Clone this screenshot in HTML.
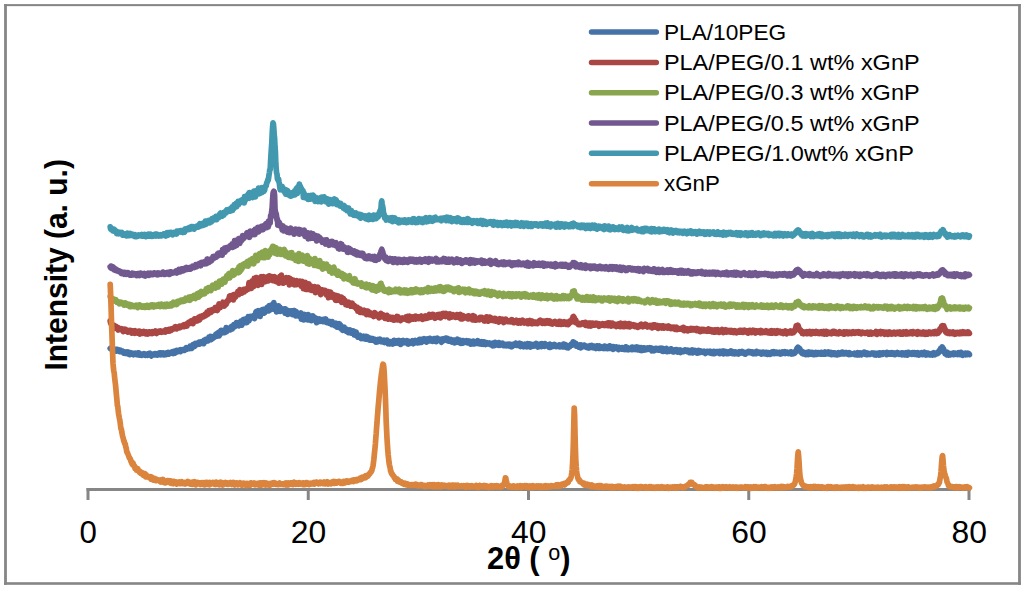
<!DOCTYPE html>
<html lang="en"><head><meta charset="utf-8"><title>XRD patterns</title>
<style>
html,body{margin:0;padding:0;background:#fff;}
body{width:1024px;height:589px;overflow:hidden;}
svg{display:block;}
svg text{font-family:"Liberation Sans",sans-serif;fill:#000;}
.curves path{fill:none;stroke-width:5.7;stroke-linejoin:round;stroke-linecap:round;}
</style></head>
<body>
<svg width="1024" height="589" viewBox="0 0 1024 589">
<rect x="0" y="0" width="1024" height="589" fill="#ffffff"/>
<g fill="#868686"><rect x="4.1" y="4.1" width="2.8" height="580.7"/><rect x="1018.1" y="4.1" width="2.8" height="580.7"/><rect x="4.1" y="4.1" width="1016.8" height="2.05"/><rect x="4.1" y="582.2" width="1016.8" height="2.6"/></g>
<line x1="86.5" y1="489.5" x2="970.5" y2="489.5" stroke="#868686" stroke-width="3"/>
<line x1="88.00" y1="488" x2="88.00" y2="500" stroke="#868686" stroke-width="3"/>
<text x="79.60" y="543.4" font-size="30.7" textLength="17.4" lengthAdjust="spacingAndGlyphs">0</text>
<line x1="308.25" y1="488" x2="308.25" y2="500" stroke="#868686" stroke-width="3"/>
<text x="290.85" y="543.4" font-size="30.7" textLength="35.4" lengthAdjust="spacingAndGlyphs">20</text>
<line x1="528.50" y1="488" x2="528.50" y2="500" stroke="#868686" stroke-width="3"/>
<text x="511.10" y="543.4" font-size="30.7" textLength="35.4" lengthAdjust="spacingAndGlyphs">40</text>
<line x1="748.75" y1="488" x2="748.75" y2="500" stroke="#868686" stroke-width="3"/>
<text x="731.35" y="543.4" font-size="30.7" textLength="35.4" lengthAdjust="spacingAndGlyphs">60</text>
<line x1="969.00" y1="488" x2="969.00" y2="500" stroke="#868686" stroke-width="3"/>
<text x="951.60" y="543.4" font-size="30.7" textLength="35.4" lengthAdjust="spacingAndGlyphs">80</text>
<g class="curves">
<path d="M110.2,348.4 110.6,348.7 111.0,348.4 111.4,348.1 111.8,348.6 112.2,348.3 112.6,349.3 113.0,350.5 113.4,349.2 113.8,349.3 114.2,350.3 114.6,350.3 115.0,350.2 115.4,349.6 115.8,350.4 116.2,351.1 116.6,349.7 117.0,350.5 117.4,349.5 117.8,350.1 118.2,349.8 118.6,351.1 119.0,350.4 119.4,351.6 119.8,351.6 120.2,351.5 120.6,350.2 121.0,351.4 121.4,351.8 121.8,352.0 122.2,351.0 122.6,351.8 123.0,351.5 123.4,351.7 123.8,353.1 124.2,351.8 124.6,352.5 125.0,353.2 125.4,352.2 125.8,352.6 126.2,352.8 126.6,352.8 127.0,352.0 127.4,353.0 127.8,353.9 128.2,352.0 128.6,353.7 129.0,353.2 129.4,352.8 129.8,354.6 130.2,353.8 130.6,352.6 131.0,353.5 131.4,353.9 131.8,353.4 132.2,354.0 132.6,353.6 133.0,354.1 133.4,354.7 133.8,353.3 134.2,353.9 134.6,353.5 135.0,354.0 135.4,353.1 135.8,353.6 136.2,353.9 136.6,354.6 137.0,354.8 137.4,353.2 137.8,353.6 138.2,354.6 138.6,352.8 139.0,353.9 139.4,354.1 139.8,355.1 140.2,354.7 140.6,354.1 141.0,354.0 141.4,354.1 141.8,355.3 142.2,354.1 142.6,354.2 143.0,354.6 143.4,354.3 143.8,354.3 144.2,353.7 144.6,354.5 145.0,354.2 145.4,355.3 145.8,354.9 146.2,354.5 146.6,355.0 147.0,354.3 147.4,355.3 147.8,354.6 148.2,355.0 148.6,353.7 149.0,354.8 149.4,353.5 149.8,353.3 150.2,354.4 150.6,354.0 151.0,354.7 151.4,356.0 151.8,354.0 152.2,354.2 152.6,354.7 153.0,354.9 153.4,354.4 153.8,354.4 154.2,355.0 154.6,354.9 155.0,353.8 155.4,354.4 155.8,354.5 156.2,353.8 156.6,354.6 157.0,353.9 157.4,355.1 157.8,354.5 158.2,354.4 158.6,354.0 159.0,354.3 159.4,353.0 159.8,353.5 160.2,354.5 160.6,352.9 161.0,354.8 161.4,353.0 161.8,354.7 162.2,353.6 162.6,354.6 163.0,354.2 163.4,353.0 163.8,354.8 164.2,354.9 164.6,353.9 165.0,353.7 165.4,353.7 165.8,353.2 166.2,354.5 166.6,353.3 167.0,353.6 167.4,353.0 167.8,353.1 168.2,352.6 168.6,354.2 169.0,353.2 169.4,353.9 169.8,353.1 170.2,352.6 170.6,352.8 171.0,352.5 171.4,352.8 171.8,352.5 172.2,352.4 172.6,351.6 173.0,351.9 173.4,353.5 173.8,351.8 174.2,351.4 174.6,352.3 175.0,353.0 175.4,350.9 175.8,351.7 176.2,351.3 176.6,350.4 177.0,352.0 177.4,351.4 177.8,351.4 178.2,350.7 178.6,351.5 179.0,350.6 179.4,350.8 179.8,350.0 180.2,349.8 180.6,351.6 181.0,350.1 181.4,350.6 181.8,350.2 182.2,349.8 182.6,349.6 183.0,350.3 183.4,349.5 183.8,349.5 184.2,349.5 184.6,350.2 185.0,349.7 185.4,349.3 185.8,348.4 186.2,347.6 186.6,349.3 187.0,349.2 187.4,348.2 187.8,348.6 188.2,348.6 188.6,348.5 189.0,348.5 189.4,347.2 189.8,348.6 190.2,346.2 190.6,347.8 191.0,347.3 191.4,347.5 191.8,348.2 192.2,347.7 192.6,345.3 193.0,344.7 193.4,346.7 193.8,345.0 194.2,345.7 194.6,346.3 195.0,344.0 195.4,343.4 195.8,345.3 196.2,345.0 196.6,344.5 197.0,344.6 197.4,343.7 197.8,342.9 198.2,344.0 198.6,343.1 199.0,342.3 199.4,344.1 199.8,343.4 200.2,343.6 200.6,342.2 201.0,342.3 201.4,341.8 201.8,341.7 202.2,342.6 202.6,341.5 203.0,342.4 203.4,342.2 203.8,343.7 204.2,340.1 204.6,342.2 205.0,341.1 205.4,340.9 205.8,339.3 206.2,340.1 206.6,341.1 207.0,340.1 207.4,340.1 207.8,339.5 208.2,340.8 208.6,339.4 209.0,337.1 209.4,338.3 209.8,336.8 210.2,336.4 210.6,337.8 211.0,339.6 211.4,338.0 211.8,336.5 212.2,336.5 212.6,338.6 213.0,337.3 213.4,337.0 213.8,336.6 214.2,336.5 214.6,337.1 215.0,336.7 215.4,336.1 215.8,334.4 216.2,336.0 216.6,334.4 217.0,336.2 217.4,333.3 217.8,334.3 218.2,334.3 218.6,332.5 219.0,335.9 219.4,335.4 219.8,332.9 220.2,334.1 220.6,333.5 221.0,330.3 221.4,332.9 221.8,332.3 222.2,332.2 222.6,330.6 223.0,331.4 223.4,331.2 223.8,332.7 224.2,331.4 224.6,330.8 225.0,332.5 225.4,329.7 225.8,329.7 226.2,327.6 226.6,331.7 227.0,330.8 227.4,330.5 227.8,330.0 228.2,329.0 228.6,329.0 229.0,328.2 229.4,328.0 229.8,328.2 230.2,329.9 230.6,328.4 231.0,327.4 231.4,326.5 231.8,326.2 232.2,329.0 232.6,327.4 233.0,326.6 233.4,325.8 233.8,324.6 234.2,325.8 234.6,326.9 235.0,325.0 235.4,325.0 235.8,324.8 236.2,325.1 236.6,322.5 237.0,324.2 237.4,323.1 237.8,325.4 238.2,322.8 238.6,324.6 239.0,325.7 239.4,322.9 239.8,322.3 240.2,323.2 240.6,322.7 241.0,321.1 241.4,323.0 241.8,325.1 242.2,321.6 242.6,321.4 243.0,320.0 243.4,321.8 243.8,319.3 244.2,319.3 244.6,322.6 245.0,319.1 245.4,321.9 245.8,322.4 246.2,320.3 246.6,320.5 247.0,322.5 247.4,319.0 247.8,318.1 248.2,316.7 248.6,318.7 249.0,320.7 249.4,319.7 249.8,316.5 250.2,316.4 250.6,316.8 251.0,317.8 251.4,316.8 251.8,317.3 252.2,317.2 252.6,316.1 253.0,316.3 253.4,316.5 253.8,315.8 254.2,316.5 254.6,318.6 255.0,316.3 255.4,315.2 255.8,312.1 256.2,315.4 256.6,311.3 257.0,312.0 257.4,315.6 257.8,315.1 258.2,313.5 258.6,310.7 259.0,312.8 259.4,312.0 259.8,314.1 260.2,316.4 260.6,313.0 261.0,311.1 261.4,310.3 261.8,312.0 262.2,311.6 262.6,309.8 263.0,311.8 263.4,309.4 263.8,313.2 264.2,312.9 264.6,312.8 265.0,309.9 265.4,311.5 265.8,310.2 266.2,309.5 266.6,309.5 267.0,307.6 267.4,307.2 267.8,311.0 268.2,309.1 268.6,309.6 269.0,310.9 269.4,305.7 269.8,307.2 270.2,308.8 270.6,308.9 271.0,307.2 271.4,309.5 271.8,307.6 272.2,304.5 272.6,304.6 273.0,307.6 273.4,306.9 273.8,302.5 274.2,308.9 274.6,307.8 275.0,309.5 275.4,306.7 275.8,307.1 276.2,305.8 276.6,311.9 277.0,307.9 277.4,311.3 277.8,307.4 278.2,309.0 278.6,305.8 279.0,308.3 279.4,310.9 279.8,307.1 280.2,311.5 280.6,310.4 281.0,308.2 281.4,309.4 281.8,309.7 282.2,310.6 282.6,309.9 283.0,309.5 283.4,310.6 283.8,309.4 284.2,309.0 284.6,311.3 285.0,313.0 285.4,308.9 285.8,311.6 286.2,310.5 286.6,310.0 287.0,313.3 287.4,311.0 287.8,314.5 288.2,310.6 288.6,312.7 289.0,311.7 289.4,310.9 289.8,313.3 290.2,312.1 290.6,313.5 291.0,312.5 291.4,310.8 291.8,312.6 292.2,313.0 292.6,314.6 293.0,311.6 293.4,313.2 293.8,310.5 294.2,314.6 294.6,311.8 295.0,310.8 295.4,313.8 295.8,315.9 296.2,311.6 296.6,312.5 297.0,313.2 297.4,312.8 297.8,315.4 298.2,313.6 298.6,313.9 299.0,316.2 299.4,314.1 299.8,316.2 300.2,314.1 300.6,313.8 301.0,313.0 301.4,319.1 301.8,315.7 302.2,316.8 302.6,316.4 303.0,316.9 303.4,316.8 303.8,319.9 304.2,315.3 304.6,314.5 305.0,315.5 305.4,315.1 305.8,318.5 306.2,318.7 306.6,316.0 307.0,315.4 307.4,317.1 307.8,320.0 308.2,314.6 308.6,318.8 309.0,316.4 309.4,319.8 309.8,316.5 310.2,317.9 310.6,316.0 311.0,317.0 311.4,320.7 311.8,319.9 312.2,318.1 312.6,317.5 313.0,316.0 313.4,318.4 313.8,319.1 314.2,319.1 314.6,319.1 315.0,317.7 315.4,319.4 315.8,319.5 316.2,321.6 316.6,322.6 317.0,319.7 317.4,318.8 317.8,320.0 318.2,319.2 318.6,319.1 319.0,320.3 319.4,318.9 319.8,321.5 320.2,320.5 320.6,321.1 321.0,320.6 321.4,319.8 321.8,319.6 322.2,320.8 322.6,320.4 323.0,321.7 323.4,321.4 323.8,319.5 324.2,321.7 324.6,319.8 325.0,321.0 325.4,321.5 325.8,319.0 326.2,322.3 326.6,322.5 327.0,322.2 327.4,321.9 327.8,322.1 328.2,321.3 328.6,322.5 329.0,322.2 329.4,323.2 329.8,321.5 330.2,323.7 330.6,323.7 331.0,323.4 331.4,323.1 331.8,324.6 332.2,321.6 332.6,324.7 333.0,324.6 333.4,324.8 333.8,325.0 334.2,323.7 334.6,324.4 335.0,325.8 335.4,325.6 335.8,325.4 336.2,323.2 336.6,326.2 337.0,327.2 337.4,327.1 337.8,326.2 338.2,323.9 338.6,327.5 339.0,326.1 339.4,323.7 339.8,327.2 340.2,324.8 340.6,325.3 341.0,326.3 341.4,329.1 341.8,327.1 342.2,328.1 342.6,330.3 343.0,330.3 343.4,328.3 343.8,328.3 344.2,327.2 344.6,328.2 345.0,329.9 345.4,330.1 345.8,329.9 346.2,331.3 346.6,329.3 347.0,330.4 347.4,331.6 347.8,331.7 348.2,332.5 348.6,331.8 349.0,331.2 349.4,332.2 349.8,330.7 350.2,330.1 350.6,333.0 351.0,332.3 351.4,333.0 351.8,330.7 352.2,332.5 352.6,332.4 353.0,332.2 353.4,330.9 353.8,333.2 354.2,334.8 354.6,334.3 355.0,333.3 355.4,334.2 355.8,335.2 356.2,332.1 356.6,334.5 357.0,335.4 357.4,335.8 357.8,337.1 358.2,336.6 358.6,335.8 359.0,335.9 359.4,336.6 359.8,335.3 360.2,336.0 360.6,337.2 361.0,338.5 361.4,336.3 361.8,336.5 362.2,336.9 362.6,338.3 363.0,337.0 363.4,338.7 363.8,336.2 364.2,337.2 364.6,337.3 365.0,338.5 365.4,338.9 365.8,336.3 366.2,337.0 366.6,338.5 367.0,337.5 367.4,336.7 367.8,339.5 368.2,339.1 368.6,339.2 369.0,338.3 369.4,339.9 369.8,338.7 370.2,340.2 370.6,338.2 371.0,338.4 371.4,339.5 371.8,338.7 372.2,340.2 372.6,339.8 373.0,338.7 373.4,339.8 373.8,339.4 374.2,340.8 374.6,339.3 375.0,339.6 375.4,341.3 375.8,342.2 376.2,342.2 376.6,340.3 377.0,340.5 377.4,341.9 377.8,340.3 378.2,339.5 378.6,340.7 379.0,341.1 379.4,339.8 379.8,339.1 380.2,339.3 380.6,341.5 381.0,340.1 381.4,340.8 381.8,341.2 382.2,341.7 382.6,340.8 383.0,341.7 383.4,340.3 383.8,340.9 384.2,340.3 384.6,342.5 385.0,341.4 385.4,340.8 385.8,341.2 386.2,341.4 386.6,342.3 387.0,340.1 387.4,340.7 387.8,341.4 388.2,343.8 388.6,342.8 389.0,341.8 389.4,342.6 389.8,343.9 390.2,341.8 390.6,341.7 391.0,343.2 391.4,342.6 391.8,342.8 392.2,341.7 392.6,344.0 393.0,343.9 393.4,342.8 393.8,342.9 394.2,340.4 394.6,342.9 395.0,342.2 395.4,342.8 395.8,343.1 396.2,342.1 396.6,340.8 397.0,342.8 397.4,341.8 397.8,342.2 398.2,341.9 398.6,342.2 399.0,340.5 399.4,343.7 399.8,342.7 400.2,343.6 400.6,344.4 401.0,342.5 401.4,340.8 401.8,341.6 402.2,341.3 402.6,342.0 403.0,342.5 403.4,340.5 403.8,342.8 404.2,341.0 404.6,342.7 405.0,342.3 405.4,342.1 405.8,342.3 406.2,341.8 406.6,341.7 407.0,340.7 407.4,342.2 407.8,344.0 408.2,344.1 408.6,343.4 409.0,342.8 409.4,341.5 409.8,343.5 410.2,342.0 410.6,341.9 411.0,341.7 411.4,342.0 411.8,341.5 412.2,341.8 412.6,340.8 413.0,341.4 413.4,343.8 413.8,341.7 414.2,341.5 414.6,342.2 415.0,342.3 415.4,340.5 415.8,341.3 416.2,342.4 416.6,341.7 417.0,341.5 417.4,342.9 417.8,340.7 418.2,341.4 418.6,340.8 419.0,342.7 419.4,339.3 419.8,340.5 420.2,340.6 420.6,341.7 421.0,341.6 421.4,342.4 421.8,339.4 422.2,341.7 422.6,340.6 423.0,340.2 423.4,341.3 423.8,339.8 424.2,338.7 424.6,340.3 425.0,339.2 425.4,340.0 425.8,340.9 426.2,340.9 426.6,342.1 427.0,340.3 427.4,338.9 427.8,339.7 428.2,339.5 428.6,339.1 429.0,340.8 429.4,339.7 429.8,338.3 430.2,340.9 430.6,340.1 431.0,340.6 431.4,340.3 431.8,340.8 432.2,340.2 432.6,341.4 433.0,340.5 433.4,340.5 433.8,340.5 434.2,338.6 434.6,339.9 435.0,339.8 435.4,340.2 435.8,338.6 436.2,341.7 436.6,340.1 437.0,338.8 437.4,338.3 437.8,339.7 438.2,339.9 438.6,339.3 439.0,340.1 439.4,339.4 439.8,340.6 440.2,339.3 440.6,340.0 441.0,341.0 441.4,342.2 441.8,339.0 442.2,339.6 442.6,339.2 443.0,340.9 443.4,339.0 443.8,339.6 444.2,340.1 444.6,339.2 445.0,339.2 445.4,339.7 445.8,338.1 446.2,338.8 446.6,339.8 447.0,340.4 447.4,340.1 447.8,338.5 448.2,339.9 448.6,341.2 449.0,341.0 449.4,340.3 449.8,339.6 450.2,341.1 450.6,339.9 451.0,339.4 451.4,339.8 451.8,342.0 452.2,340.8 452.6,341.8 453.0,340.2 453.4,341.6 453.8,340.1 454.2,340.6 454.6,342.9 455.0,341.6 455.4,340.4 455.8,340.8 456.2,341.3 456.6,342.2 457.0,340.5 457.4,339.3 457.8,340.8 458.2,341.1 458.6,341.2 459.0,342.5 459.4,341.5 459.8,342.0 460.2,340.2 460.6,342.2 461.0,343.4 461.4,342.1 461.8,341.7 462.2,341.6 462.6,343.2 463.0,340.6 463.4,341.5 463.8,342.0 464.2,342.4 464.6,341.2 465.0,342.0 465.4,341.5 465.8,341.9 466.2,341.7 466.6,340.7 467.0,341.9 467.4,342.8 467.8,341.0 468.2,341.7 468.6,342.7 469.0,341.0 469.4,342.3 469.8,341.1 470.2,343.2 470.6,344.2 471.0,344.1 471.4,342.0 471.8,343.0 472.2,342.4 472.6,342.4 473.0,343.8 473.4,341.1 473.8,343.4 474.2,342.4 474.6,343.8 475.0,342.7 475.4,341.9 475.8,342.8 476.2,343.3 476.6,342.6 477.0,343.1 477.4,342.2 477.8,340.7 478.2,343.6 478.6,343.4 479.0,342.9 479.4,342.9 479.8,343.8 480.2,342.4 480.6,342.2 481.0,342.8 481.4,344.1 481.8,341.7 482.2,344.1 482.6,342.5 483.0,342.1 483.4,344.3 483.8,343.1 484.2,342.0 484.6,342.9 485.0,344.1 485.4,344.4 485.8,342.9 486.2,343.7 486.6,344.0 487.0,342.8 487.4,343.8 487.8,343.5 488.2,343.0 488.6,343.1 489.0,343.6 489.4,343.6 489.8,343.1 490.2,343.3 490.6,344.7 491.0,343.9 491.4,344.6 491.8,344.9 492.2,344.4 492.6,345.8 493.0,343.1 493.4,344.7 493.8,343.7 494.2,345.7 494.6,345.6 495.0,342.3 495.4,343.2 495.8,344.7 496.2,344.9 496.6,344.8 497.0,344.1 497.4,344.6 497.8,344.9 498.2,344.2 498.6,345.2 499.0,342.5 499.4,344.9 499.8,343.5 500.2,345.3 500.6,344.2 501.0,343.7 501.4,344.8 501.8,343.7 502.2,343.7 502.6,343.2 503.0,344.6 503.4,345.1 503.8,345.6 504.2,344.5 504.6,345.6 505.0,344.7 505.4,344.7 505.8,345.3 506.2,345.7 506.6,344.5 507.0,344.6 507.4,344.7 507.8,344.9 508.2,344.1 508.6,345.8 509.0,344.5 509.4,345.3 509.8,344.2 510.2,345.3 510.6,345.3 511.0,344.6 511.4,346.8 511.8,345.3 512.2,346.6 512.6,345.9 513.0,344.4 513.4,344.7 513.8,345.4 514.2,345.1 514.6,345.1 515.0,344.8 515.4,343.5 515.8,344.9 516.2,343.2 516.6,345.4 517.0,344.4 517.4,344.5 517.8,344.9 518.2,345.3 518.6,343.9 519.0,343.6 519.4,344.2 519.8,343.3 520.2,344.3 520.6,346.5 521.0,344.2 521.4,345.7 521.8,344.0 522.2,345.4 522.6,344.9 523.0,345.1 523.4,345.7 523.8,346.7 524.2,345.4 524.6,345.3 525.0,344.3 525.4,345.7 525.8,345.0 526.2,345.9 526.6,345.2 527.0,346.8 527.4,343.5 527.8,345.0 528.2,346.0 528.6,344.9 529.0,344.5 529.4,345.0 529.8,344.0 530.2,345.4 530.6,347.1 531.0,346.3 531.4,344.3 531.8,344.5 532.2,344.9 532.6,346.2 533.0,344.6 533.4,344.7 533.8,346.1 534.2,346.0 534.6,345.0 535.0,344.3 535.4,343.9 535.8,344.7 536.2,343.5 536.6,346.0 537.0,344.8 537.4,345.7 537.8,347.0 538.2,346.4 538.6,344.3 539.0,346.1 539.4,346.4 539.8,344.7 540.2,344.5 540.6,345.3 541.0,344.0 541.4,346.7 541.8,343.5 542.2,344.4 542.6,345.1 543.0,345.2 543.4,345.5 543.8,345.6 544.2,345.2 544.6,346.4 545.0,343.6 545.4,345.4 545.8,344.8 546.2,345.5 546.6,345.6 547.0,344.6 547.4,344.9 547.8,346.2 548.2,345.8 548.6,344.9 549.0,347.3 549.4,347.3 549.8,344.2 550.2,345.8 550.6,347.3 551.0,346.2 551.4,345.7 551.8,345.4 552.2,345.1 552.6,345.4 553.0,345.1 553.4,346.2 553.8,345.2 554.2,345.2 554.6,344.6 555.0,345.6 555.4,344.9 555.8,345.5 556.2,346.6 556.6,346.0 557.0,346.1 557.4,346.0 557.8,345.8 558.2,345.6 558.6,345.5 559.0,346.4 559.4,344.8 559.8,346.9 560.2,345.8 560.6,345.2 561.0,345.4 561.4,345.2 561.8,346.0 562.2,345.2 562.6,346.9 563.0,345.2 563.4,344.1 563.8,345.3 564.2,344.2 564.6,345.9 565.0,346.9 565.4,346.5 565.8,344.8 566.2,345.4 566.6,347.6 567.0,346.3 567.4,346.1 567.8,347.0 568.2,347.9 568.6,347.2 569.0,346.2 569.4,346.4 569.8,346.5 570.2,345.4 570.6,344.8 571.0,345.4 571.4,344.1 571.8,344.4 572.2,343.9 572.6,345.1 573.0,341.9 573.4,342.2 573.8,342.1 574.2,342.9 574.6,344.0 575.0,343.1 575.4,343.5 575.8,343.4 576.2,344.6 576.6,346.2 577.0,346.1 577.4,345.4 577.8,346.0 578.2,346.4 578.6,346.9 579.0,346.0 579.4,346.3 579.8,345.0 580.2,345.5 580.6,347.9 581.0,344.8 581.4,346.3 581.8,346.8 582.2,346.3 582.6,345.9 583.0,346.6 583.4,346.6 583.8,346.6 584.2,345.1 584.6,346.6 585.0,346.0 585.4,346.2 585.8,346.9 586.2,347.3 586.6,347.5 587.0,346.3 587.4,347.6 587.8,347.8 588.2,347.8 588.6,348.0 589.0,346.7 589.4,346.7 589.8,347.6 590.2,345.7 590.6,347.1 591.0,346.5 591.4,346.6 591.8,345.5 592.2,346.2 592.6,346.9 593.0,347.7 593.4,347.8 593.8,346.9 594.2,346.9 594.6,346.3 595.0,347.4 595.4,346.9 595.8,347.6 596.2,348.5 596.6,347.1 597.0,345.9 597.4,346.4 597.8,345.9 598.2,346.2 598.6,348.3 599.0,347.4 599.4,345.9 599.8,347.8 600.2,348.3 600.6,347.0 601.0,346.7 601.4,347.0 601.8,347.5 602.2,347.8 602.6,348.3 603.0,348.3 603.4,348.3 603.8,348.5 604.2,347.9 604.6,346.1 605.0,347.3 605.4,347.7 605.8,347.1 606.2,348.2 606.6,347.2 607.0,346.7 607.4,348.7 607.8,348.1 608.2,347.7 608.6,348.3 609.0,348.4 609.4,347.9 609.8,345.9 610.2,347.1 610.6,347.3 611.0,346.8 611.4,347.8 611.8,348.6 612.2,347.3 612.6,346.8 613.0,349.4 613.4,347.4 613.8,346.7 614.2,348.0 614.6,348.1 615.0,347.2 615.4,348.4 615.8,347.4 616.2,347.1 616.6,348.0 617.0,348.5 617.4,347.4 617.8,348.2 618.2,347.8 618.6,349.6 619.0,347.4 619.4,349.1 619.8,347.9 620.2,347.9 620.6,348.6 621.0,348.7 621.4,349.1 621.8,348.3 622.2,347.6 622.6,347.7 623.0,348.5 623.4,348.6 623.8,349.3 624.2,348.5 624.6,349.0 625.0,349.4 625.4,348.3 625.8,347.0 626.2,347.3 626.6,347.1 627.0,349.5 627.4,347.6 627.8,349.3 628.2,348.8 628.6,349.7 629.0,349.1 629.4,348.3 629.8,348.2 630.2,348.5 630.6,348.5 631.0,348.0 631.4,348.4 631.8,349.7 632.2,347.1 632.6,348.7 633.0,347.8 633.4,348.7 633.8,349.2 634.2,348.5 634.6,349.2 635.0,347.3 635.4,349.5 635.8,348.1 636.2,349.1 636.6,348.8 637.0,347.0 637.4,348.1 637.8,348.9 638.2,349.9 638.6,349.0 639.0,349.0 639.4,347.6 639.8,349.9 640.2,350.2 640.6,348.8 641.0,348.7 641.4,347.6 641.8,349.6 642.2,350.5 642.6,349.5 643.0,349.9 643.4,349.4 643.8,348.2 644.2,350.0 644.6,348.0 645.0,348.8 645.4,349.2 645.8,349.7 646.2,349.4 646.6,349.4 647.0,348.5 647.4,348.1 647.8,349.2 648.2,348.6 648.6,348.1 649.0,348.2 649.4,348.8 649.8,347.8 650.2,348.2 650.6,348.0 651.0,349.4 651.4,349.6 651.8,350.9 652.2,348.2 652.6,348.8 653.0,350.1 653.4,349.2 653.8,349.2 654.2,350.8 654.6,349.2 655.0,348.6 655.4,348.5 655.8,349.8 656.2,349.8 656.6,348.5 657.0,348.8 657.4,350.0 657.8,350.1 658.2,349.2 658.6,350.1 659.0,350.1 659.4,348.3 659.8,349.5 660.2,350.1 660.6,349.3 661.0,348.2 661.4,349.6 661.8,350.4 662.2,351.1 662.6,348.3 663.0,351.5 663.4,349.1 663.8,350.7 664.2,350.9 664.6,350.7 665.0,350.1 665.4,349.2 665.8,350.5 666.2,349.6 666.6,348.5 667.0,351.7 667.4,350.7 667.8,351.5 668.2,349.5 668.6,351.3 669.0,351.4 669.4,351.4 669.8,350.3 670.2,349.4 670.6,350.2 671.0,348.8 671.4,349.1 671.8,350.5 672.2,349.7 672.6,350.3 673.0,350.4 673.4,351.9 673.8,351.5 674.2,350.5 674.6,351.5 675.0,350.0 675.4,350.4 675.8,351.3 676.2,349.7 676.6,350.5 677.0,349.7 677.4,350.8 677.8,352.0 678.2,350.2 678.6,351.0 679.0,350.2 679.4,350.0 679.8,349.9 680.2,351.9 680.6,352.4 681.0,351.3 681.4,350.4 681.8,351.5 682.2,350.7 682.6,351.6 683.0,351.2 683.4,351.3 683.8,351.5 684.2,350.7 684.6,350.8 685.0,349.9 685.4,350.8 685.8,350.1 686.2,351.1 686.6,350.5 687.0,351.3 687.4,351.6 687.8,350.2 688.2,350.7 688.6,350.6 689.0,351.9 689.4,352.6 689.8,352.0 690.2,351.1 690.6,352.5 691.0,350.3 691.4,352.5 691.8,351.0 692.2,350.0 692.6,353.0 693.0,352.6 693.4,350.8 693.8,351.7 694.2,351.4 694.6,351.7 695.0,350.5 695.4,351.1 695.8,352.0 696.2,351.8 696.6,352.5 697.0,351.7 697.4,353.2 697.8,351.2 698.2,351.9 698.6,350.4 699.0,350.9 699.4,352.7 699.8,351.1 700.2,352.2 700.6,351.8 701.0,351.1 701.4,351.6 701.8,351.5 702.2,351.5 702.6,352.4 703.0,352.4 703.4,351.5 703.8,351.3 704.2,352.1 704.6,351.9 705.0,352.7 705.4,353.4 705.8,352.6 706.2,352.0 706.6,351.9 707.0,351.4 707.4,351.4 707.8,351.3 708.2,351.7 708.6,351.7 709.0,352.6 709.4,351.8 709.8,351.9 710.2,351.2 710.6,353.2 711.0,352.5 711.4,353.4 711.8,352.7 712.2,353.2 712.6,352.0 713.0,352.6 713.4,353.6 713.8,351.3 714.2,353.0 714.6,353.4 715.0,352.5 715.4,352.7 715.8,353.1 716.2,351.7 716.6,352.5 717.0,351.6 717.4,351.7 717.8,351.8 718.2,352.1 718.6,352.4 719.0,352.6 719.4,351.3 719.8,353.7 720.2,353.1 720.6,352.8 721.0,352.1 721.4,352.3 721.8,352.7 722.2,352.6 722.6,351.1 723.0,352.9 723.4,353.8 723.8,351.0 724.2,353.1 724.6,352.6 725.0,352.3 725.4,353.4 725.8,351.6 726.2,352.5 726.6,353.5 727.0,352.3 727.4,352.1 727.8,352.5 728.2,352.1 728.6,353.6 729.0,351.8 729.4,353.1 729.8,351.6 730.2,353.0 730.6,352.4 731.0,351.0 731.4,352.5 731.8,351.7 732.2,352.2 732.6,353.6 733.0,351.7 733.4,351.8 733.8,353.6 734.2,352.6 734.6,353.7 735.0,352.8 735.4,351.9 735.8,352.5 736.2,353.5 736.6,353.3 737.0,352.6 737.4,352.6 737.8,352.5 738.2,352.2 738.6,354.0 739.0,352.6 739.4,351.8 739.8,352.3 740.2,353.2 740.6,353.1 741.0,352.6 741.4,352.2 741.8,352.7 742.2,351.5 742.6,351.8 743.0,353.2 743.4,352.4 743.8,353.0 744.2,353.6 744.6,353.2 745.0,352.7 745.4,354.2 745.8,353.2 746.2,352.5 746.6,353.3 747.0,353.0 747.4,352.1 747.8,352.8 748.2,352.6 748.6,351.4 749.0,352.6 749.4,352.6 749.8,352.5 750.2,351.6 750.6,352.5 751.0,352.8 751.4,352.9 751.8,352.0 752.2,353.3 752.6,352.0 753.0,352.7 753.4,353.7 753.8,352.3 754.2,352.5 754.6,353.6 755.0,352.6 755.4,352.6 755.8,353.0 756.2,353.6 756.6,351.4 757.0,352.3 757.4,352.2 757.8,352.1 758.2,352.3 758.6,352.3 759.0,353.1 759.4,352.3 759.8,353.0 760.2,353.2 760.6,352.4 761.0,353.0 761.4,354.1 761.8,353.1 762.2,352.5 762.6,352.9 763.0,352.3 763.4,353.1 763.8,353.5 764.2,352.4 764.6,352.8 765.0,353.7 765.4,352.6 765.8,353.1 766.2,352.3 766.6,352.4 767.0,352.6 767.4,354.4 767.8,352.7 768.2,352.6 768.6,352.6 769.0,352.9 769.4,353.4 769.8,353.1 770.2,354.4 770.6,353.2 771.0,354.0 771.4,353.2 771.8,353.4 772.2,352.0 772.6,352.9 773.0,353.0 773.4,352.9 773.8,351.6 774.2,353.6 774.6,352.8 775.0,352.7 775.4,352.9 775.8,352.9 776.2,353.3 776.6,352.2 777.0,352.4 777.4,353.3 777.8,353.2 778.2,352.8 778.6,352.7 779.0,352.5 779.4,353.0 779.8,353.9 780.2,352.4 780.6,354.1 781.0,353.7 781.4,352.8 781.8,353.6 782.2,352.1 782.6,351.9 783.0,352.2 783.4,352.8 783.8,352.9 784.2,352.8 784.6,353.2 785.0,351.7 785.4,353.5 785.8,352.2 786.2,352.7 786.6,352.9 787.0,352.4 787.4,352.2 787.8,352.5 788.2,353.1 788.6,353.6 789.0,353.5 789.4,352.5 789.8,352.6 790.2,352.5 790.6,353.5 791.0,351.8 791.4,354.0 791.8,352.8 792.2,352.6 792.6,353.4 793.0,353.8 793.4,353.2 793.8,353.6 794.2,352.8 794.6,353.2 795.0,352.8 795.4,351.4 795.8,351.9 796.2,350.3 796.6,349.6 797.0,348.2 797.4,348.3 797.8,348.9 798.2,347.2 798.6,349.0 799.0,349.2 799.4,349.8 799.8,348.6 800.2,350.8 800.6,351.9 801.0,351.5 801.4,352.5 801.8,351.3 802.2,353.4 802.6,352.6 803.0,353.7 803.4,352.0 803.8,353.7 804.2,353.1 804.6,353.8 805.0,352.6 805.4,352.9 805.8,354.7 806.2,352.7 806.6,352.8 807.0,353.1 807.4,352.6 807.8,354.1 808.2,354.5 808.6,352.8 809.0,352.1 809.4,354.1 809.8,354.0 810.2,353.9 810.6,354.1 811.0,352.7 811.4,353.2 811.8,352.4 812.2,352.4 812.6,354.0 813.0,352.9 813.4,354.7 813.8,353.4 814.2,352.9 814.6,353.9 815.0,354.5 815.4,353.7 815.8,352.5 816.2,353.6 816.6,354.3 817.0,353.0 817.4,352.8 817.8,354.0 818.2,353.4 818.6,352.6 819.0,353.1 819.4,352.9 819.8,353.6 820.2,353.4 820.6,354.1 821.0,353.8 821.4,352.3 821.8,353.6 822.2,354.0 822.6,353.7 823.0,354.1 823.4,353.0 823.8,352.7 824.2,354.0 824.6,352.7 825.0,352.0 825.4,354.1 825.8,352.9 826.2,353.2 826.6,352.5 827.0,352.5 827.4,352.6 827.8,353.2 828.2,353.7 828.6,352.0 829.0,353.9 829.4,352.6 829.8,352.7 830.2,353.9 830.6,353.4 831.0,352.4 831.4,354.7 831.8,352.8 832.2,353.6 832.6,353.6 833.0,354.4 833.4,353.1 833.8,354.1 834.2,352.9 834.6,354.2 835.0,352.9 835.4,353.2 835.8,354.7 836.2,353.7 836.6,353.5 837.0,354.9 837.4,353.7 837.8,352.9 838.2,353.9 838.6,352.7 839.0,354.2 839.4,354.3 839.8,353.1 840.2,353.0 840.6,353.6 841.0,353.5 841.4,352.8 841.8,353.8 842.2,352.1 842.6,353.2 843.0,353.2 843.4,353.3 843.8,353.7 844.2,352.7 844.6,353.9 845.0,353.4 845.4,353.0 845.8,352.6 846.2,352.7 846.6,353.7 847.0,352.8 847.4,353.5 847.8,354.2 848.2,354.2 848.6,354.5 849.0,353.3 849.4,352.8 849.8,354.2 850.2,353.7 850.6,354.3 851.0,353.5 851.4,354.3 851.8,354.1 852.2,354.0 852.6,353.8 853.0,353.8 853.4,353.7 853.8,353.7 854.2,354.2 854.6,353.2 855.0,354.7 855.4,353.4 855.8,354.2 856.2,353.5 856.6,353.4 857.0,354.9 857.4,353.3 857.8,352.7 858.2,353.1 858.6,353.3 859.0,354.9 859.4,353.7 859.8,354.2 860.2,352.9 860.6,353.8 861.0,354.0 861.4,354.7 861.8,353.1 862.2,353.9 862.6,353.7 863.0,352.9 863.4,353.5 863.8,353.4 864.2,352.2 864.6,354.0 865.0,353.9 865.4,353.3 865.8,352.7 866.2,354.5 866.6,353.7 867.0,354.2 867.4,354.5 867.8,353.2 868.2,354.1 868.6,353.4 869.0,353.5 869.4,353.5 869.8,353.6 870.2,354.3 870.6,353.7 871.0,353.5 871.4,353.4 871.8,353.8 872.2,353.0 872.6,353.2 873.0,353.5 873.4,353.2 873.8,353.5 874.2,353.2 874.6,354.9 875.0,354.5 875.4,353.9 875.8,353.6 876.2,355.0 876.6,353.8 877.0,353.5 877.4,353.8 877.8,353.8 878.2,354.5 878.6,353.6 879.0,355.0 879.4,353.0 879.8,354.1 880.2,352.9 880.6,354.8 881.0,353.4 881.4,353.6 881.8,354.2 882.2,354.4 882.6,352.9 883.0,353.4 883.4,352.7 883.8,353.7 884.2,353.6 884.6,353.4 885.0,353.2 885.4,353.4 885.8,353.1 886.2,354.0 886.6,354.6 887.0,352.3 887.4,353.6 887.8,353.4 888.2,354.0 888.6,353.0 889.0,353.5 889.4,352.9 889.8,354.1 890.2,353.7 890.6,353.5 891.0,353.9 891.4,353.5 891.8,352.6 892.2,354.0 892.6,353.8 893.0,353.5 893.4,354.3 893.8,354.5 894.2,352.9 894.6,353.1 895.0,354.7 895.4,354.6 895.8,353.2 896.2,352.9 896.6,353.2 897.0,353.3 897.4,352.6 897.8,353.7 898.2,352.8 898.6,352.9 899.0,354.3 899.4,353.2 899.8,353.6 900.2,354.1 900.6,354.2 901.0,353.5 901.4,353.7 901.8,353.1 902.2,354.8 902.6,354.1 903.0,353.0 903.4,353.7 903.8,354.2 904.2,354.0 904.6,354.9 905.0,354.6 905.4,353.3 905.8,353.6 906.2,352.8 906.6,353.9 907.0,353.8 907.4,355.1 907.8,353.8 908.2,352.3 908.6,353.3 909.0,353.8 909.4,352.9 909.8,353.1 910.2,353.5 910.6,353.9 911.0,353.6 911.4,353.1 911.8,354.2 912.2,353.4 912.6,353.4 913.0,352.8 913.4,353.2 913.8,354.1 914.2,352.6 914.6,353.7 915.0,354.2 915.4,353.5 915.8,353.9 916.2,353.0 916.6,354.6 917.0,354.4 917.4,353.9 917.8,352.6 918.2,353.0 918.6,354.4 919.0,354.9 919.4,353.9 919.8,354.6 920.2,353.3 920.6,353.6 921.0,353.7 921.4,354.0 921.8,352.7 922.2,354.4 922.6,354.6 923.0,353.0 923.4,352.8 923.8,354.0 924.2,353.3 924.6,352.3 925.0,354.3 925.4,353.8 925.8,353.4 926.2,355.1 926.6,353.8 927.0,353.2 927.4,353.8 927.8,353.1 928.2,353.2 928.6,354.0 929.0,353.4 929.4,353.5 929.8,354.9 930.2,354.3 930.6,354.3 931.0,354.1 931.4,354.1 931.8,354.7 932.2,353.7 932.6,355.0 933.0,353.1 933.4,353.6 933.8,352.8 934.2,353.5 934.6,354.1 935.0,354.7 935.4,353.3 935.8,353.8 936.2,353.5 936.6,353.2 937.0,352.8 937.4,353.6 937.8,352.2 938.2,353.2 938.6,352.8 939.0,351.8 939.4,350.9 939.8,349.9 940.2,351.5 940.6,348.3 941.0,349.9 941.4,348.6 941.8,347.5 942.2,346.9 942.6,348.9 943.0,350.0 943.4,348.6 943.8,349.9 944.2,351.7 944.6,351.9 945.0,353.7 945.4,352.4 945.8,353.5 946.2,352.5 946.6,354.9 947.0,353.2 947.4,352.3 947.8,353.7 948.2,353.7 948.6,355.0 949.0,353.6 949.4,353.8 949.8,354.2 950.2,354.8 950.6,353.7 951.0,354.5 951.4,354.1 951.8,353.6 952.2,353.8 952.6,353.8 953.0,353.2 953.4,354.6 953.8,352.9 954.2,354.6 954.6,354.4 955.0,353.7 955.4,353.3 955.8,353.6 956.2,354.1 956.6,354.3 957.0,354.0 957.4,354.4 957.8,353.4 958.2,353.9 958.6,352.8 959.0,354.3 959.4,353.9 959.8,353.5 960.2,354.6 960.6,354.3 961.0,352.4 961.4,353.8 961.8,352.8 962.2,354.5 962.6,355.2 963.0,353.5 963.4,353.8 963.8,353.6 964.2,354.0 964.6,354.2 965.0,354.6 965.4,353.1 965.8,354.8 966.2,353.2 966.6,354.0 967.0,354.6 967.4,354.3 967.8,353.2 968.2,353.3 968.6,353.5 969.0,353.8 969.4,354.6" stroke="#4572A7"/>
<path d="M110.2,320.9 110.6,323.1 111.0,323.8 111.4,324.3 111.8,324.8 112.2,326.2 112.6,325.8 113.0,326.5 113.4,326.7 113.8,328.1 114.2,325.4 114.6,328.3 115.0,327.3 115.4,327.5 115.8,327.1 116.2,326.6 116.6,328.0 117.0,327.9 117.4,329.0 117.8,327.6 118.2,330.0 118.6,329.2 119.0,328.9 119.4,328.7 119.8,328.8 120.2,328.6 120.6,329.1 121.0,329.7 121.4,329.6 121.8,328.8 122.2,329.7 122.6,329.4 123.0,330.2 123.4,331.6 123.8,330.7 124.2,330.1 124.6,329.3 125.0,329.5 125.4,329.4 125.8,331.2 126.2,330.2 126.6,330.9 127.0,330.4 127.4,331.0 127.8,332.0 128.2,330.6 128.6,330.9 129.0,330.6 129.4,331.9 129.8,330.6 130.2,330.6 130.6,330.4 131.0,330.5 131.4,331.8 131.8,333.0 132.2,330.9 132.6,332.3 133.0,331.9 133.4,331.0 133.8,331.6 134.2,331.7 134.6,331.4 135.0,333.3 135.4,330.7 135.8,332.3 136.2,332.3 136.6,331.8 137.0,332.3 137.4,332.9 137.8,332.4 138.2,332.6 138.6,332.9 139.0,331.1 139.4,333.5 139.8,333.9 140.2,333.2 140.6,333.2 141.0,331.7 141.4,332.5 141.8,332.1 142.2,332.3 142.6,333.3 143.0,332.2 143.4,332.6 143.8,331.4 144.2,332.6 144.6,332.8 145.0,332.2 145.4,332.2 145.8,333.9 146.2,331.9 146.6,332.0 147.0,332.1 147.4,333.5 147.8,334.0 148.2,332.8 148.6,332.1 149.0,332.3 149.4,333.3 149.8,331.9 150.2,333.5 150.6,333.5 151.0,332.5 151.4,332.9 151.8,333.0 152.2,333.5 152.6,331.7 153.0,333.2 153.4,332.1 153.8,331.8 154.2,332.4 154.6,332.1 155.0,331.6 155.4,331.1 155.8,331.5 156.2,333.1 156.6,333.4 157.0,332.5 157.4,332.8 157.8,331.6 158.2,331.9 158.6,332.1 159.0,331.1 159.4,331.2 159.8,331.9 160.2,331.5 160.6,331.0 161.0,332.0 161.4,331.5 161.8,332.3 162.2,331.6 162.6,331.3 163.0,331.6 163.4,331.3 163.8,330.9 164.2,331.0 164.6,331.8 165.0,331.6 165.4,332.0 165.8,329.8 166.2,330.7 166.6,330.6 167.0,330.9 167.4,330.4 167.8,330.2 168.2,331.1 168.6,330.5 169.0,329.4 169.4,331.1 169.8,330.8 170.2,329.5 170.6,330.4 171.0,329.2 171.4,330.4 171.8,329.3 172.2,328.7 172.6,328.9 173.0,328.5 173.4,329.1 173.8,329.0 174.2,328.7 174.6,328.1 175.0,326.8 175.4,328.4 175.8,326.7 176.2,328.2 176.6,328.8 177.0,328.0 177.4,327.3 177.8,327.4 178.2,327.3 178.6,326.8 179.0,326.7 179.4,326.3 179.8,327.8 180.2,326.7 180.6,327.4 181.0,326.3 181.4,326.4 181.8,326.0 182.2,326.4 182.6,326.6 183.0,325.9 183.4,325.0 183.8,324.8 184.2,326.7 184.6,324.9 185.0,324.7 185.4,326.1 185.8,325.6 186.2,325.0 186.6,324.0 187.0,326.0 187.4,324.4 187.8,324.3 188.2,323.5 188.6,322.2 189.0,322.1 189.4,323.6 189.8,323.4 190.2,322.6 190.6,321.6 191.0,321.1 191.4,322.0 191.8,320.8 192.2,322.8 192.6,322.9 193.0,323.6 193.4,322.2 193.8,320.6 194.2,320.2 194.6,318.8 195.0,320.1 195.4,320.3 195.8,321.2 196.2,320.7 196.6,320.4 197.0,319.9 197.4,320.1 197.8,320.7 198.2,317.9 198.6,318.3 199.0,317.1 199.4,320.0 199.8,319.5 200.2,318.7 200.6,316.4 201.0,317.6 201.4,316.9 201.8,317.0 202.2,316.5 202.6,317.0 203.0,315.8 203.4,316.9 203.8,316.0 204.2,315.2 204.6,315.1 205.0,314.5 205.4,315.7 205.8,314.2 206.2,314.6 206.6,313.6 207.0,312.1 207.4,314.6 207.8,312.1 208.2,313.9 208.6,313.4 209.0,310.7 209.4,311.3 209.8,311.6 210.2,311.0 210.6,310.3 211.0,312.4 211.4,311.0 211.8,311.5 212.2,310.3 212.6,310.9 213.0,309.4 213.4,310.1 213.8,310.6 214.2,309.7 214.6,308.8 215.0,307.8 215.4,309.1 215.8,309.1 216.2,308.1 216.6,307.2 217.0,308.7 217.4,310.5 217.8,307.1 218.2,307.7 218.6,307.5 219.0,303.9 219.4,306.6 219.8,305.3 220.2,307.8 220.6,305.4 221.0,304.4 221.4,304.9 221.8,305.2 222.2,303.9 222.6,304.3 223.0,302.2 223.4,303.5 223.8,304.7 224.2,306.1 224.6,304.0 225.0,303.1 225.4,304.2 225.8,303.6 226.2,304.3 226.6,303.2 227.0,301.1 227.4,301.4 227.8,301.0 228.2,300.9 228.6,300.5 229.0,298.7 229.4,296.5 229.8,298.3 230.2,296.0 230.6,298.9 231.0,298.5 231.4,295.6 231.8,299.0 232.2,299.1 232.6,297.6 233.0,299.8 233.4,299.9 233.8,294.7 234.2,298.0 234.6,296.8 235.0,296.5 235.4,297.1 235.8,294.2 236.2,294.1 236.6,293.5 237.0,293.4 237.4,294.2 237.8,291.7 238.2,292.1 238.6,294.6 239.0,293.2 239.4,293.7 239.8,289.6 240.2,291.3 240.6,291.4 241.0,292.1 241.4,290.8 241.8,293.2 242.2,291.2 242.6,291.1 243.0,290.8 243.4,291.8 243.8,289.4 244.2,292.0 244.6,290.6 245.0,289.7 245.4,289.3 245.8,289.9 246.2,290.5 246.6,290.0 247.0,288.7 247.4,289.3 247.8,287.6 248.2,289.3 248.6,286.7 249.0,282.5 249.4,288.5 249.8,285.9 250.2,283.2 250.6,284.7 251.0,283.1 251.4,288.4 251.8,285.1 252.2,280.8 252.6,284.6 253.0,282.5 253.4,286.7 253.8,280.7 254.2,278.5 254.6,282.5 255.0,281.5 255.4,281.2 255.8,277.7 256.2,282.6 256.6,284.9 257.0,277.7 257.4,283.6 257.8,280.1 258.2,285.3 258.6,281.8 259.0,280.5 259.4,283.0 259.8,281.7 260.2,279.4 260.6,281.9 261.0,279.4 261.4,276.7 261.8,284.3 262.2,279.4 262.6,278.8 263.0,280.6 263.4,276.7 263.8,277.0 264.2,278.7 264.6,278.6 265.0,279.7 265.4,281.7 265.8,278.4 266.2,280.3 266.6,280.4 267.0,276.9 267.4,279.4 267.8,277.0 268.2,281.0 268.6,279.7 269.0,278.7 269.4,275.8 269.8,278.7 270.2,276.9 270.6,279.8 271.0,278.1 271.4,276.6 271.8,280.2 272.2,279.7 272.6,277.0 273.0,280.6 273.4,277.6 273.8,277.6 274.2,278.5 274.6,276.7 275.0,277.4 275.4,278.0 275.8,281.5 276.2,281.5 276.6,278.0 277.0,281.9 277.4,278.5 277.8,279.5 278.2,280.6 278.6,279.4 279.0,283.2 279.4,279.5 279.8,276.6 280.2,281.8 280.6,278.4 281.0,278.7 281.4,275.1 281.8,281.5 282.2,281.2 282.6,281.2 283.0,281.7 283.4,283.2 283.8,279.8 284.2,281.8 284.6,278.5 285.0,279.4 285.4,282.3 285.8,281.1 286.2,277.7 286.6,281.2 287.0,280.2 287.4,279.1 287.8,281.7 288.2,280.1 288.6,277.9 289.0,278.9 289.4,284.8 289.8,278.4 290.2,281.9 290.6,282.8 291.0,282.9 291.4,279.4 291.8,281.3 292.2,282.3 292.6,283.7 293.0,281.0 293.4,280.1 293.8,284.4 294.2,284.7 294.6,283.4 295.0,281.6 295.4,283.6 295.8,283.2 296.2,284.7 296.6,280.7 297.0,283.4 297.4,283.0 297.8,281.3 298.2,283.9 298.6,283.6 299.0,282.9 299.4,284.5 299.8,281.1 300.2,283.8 300.6,284.8 301.0,284.6 301.4,286.2 301.8,282.0 302.2,281.5 302.6,284.9 303.0,285.5 303.4,288.7 303.8,286.0 304.2,283.3 304.6,286.6 305.0,283.6 305.4,282.5 305.8,289.4 306.2,286.2 306.6,287.0 307.0,286.9 307.4,289.4 307.8,286.6 308.2,288.5 308.6,284.5 309.0,284.0 309.4,289.3 309.8,289.6 310.2,287.9 310.6,287.6 311.0,287.6 311.4,286.2 311.8,290.4 312.2,288.9 312.6,288.8 313.0,288.7 313.4,290.1 313.8,289.3 314.2,289.9 314.6,286.6 315.0,289.7 315.4,292.7 315.8,288.2 316.2,289.0 316.6,291.0 317.0,291.3 317.4,290.8 317.8,287.0 318.2,290.9 318.6,288.1 319.0,288.9 319.4,291.5 319.8,290.1 320.2,292.2 320.6,294.6 321.0,292.5 321.4,292.6 321.8,289.9 322.2,290.5 322.6,290.0 323.0,291.0 323.4,290.3 323.8,291.2 324.2,292.1 324.6,290.9 325.0,290.4 325.4,290.6 325.8,293.9 326.2,293.4 326.6,295.1 327.0,295.3 327.4,293.2 327.8,295.0 328.2,291.7 328.6,297.7 329.0,296.4 329.4,294.2 329.8,292.8 330.2,295.5 330.6,292.0 331.0,293.9 331.4,296.6 331.8,295.6 332.2,294.9 332.6,297.4 333.0,294.3 333.4,296.6 333.8,295.5 334.2,295.1 334.6,297.4 335.0,295.2 335.4,300.0 335.8,296.2 336.2,300.4 336.6,295.7 337.0,298.6 337.4,295.9 337.8,295.9 338.2,298.4 338.6,299.4 339.0,296.6 339.4,300.5 339.8,297.7 340.2,299.3 340.6,299.9 341.0,300.4 341.4,297.0 341.8,302.4 342.2,301.0 342.6,299.8 343.0,299.1 343.4,298.4 343.8,299.2 344.2,302.2 344.6,301.2 345.0,300.3 345.4,301.5 345.8,304.7 346.2,302.3 346.6,302.2 347.0,305.2 347.4,304.2 347.8,303.8 348.2,303.2 348.6,302.1 349.0,302.8 349.4,304.0 349.8,304.6 350.2,305.6 350.6,306.1 351.0,305.8 351.4,306.0 351.8,304.5 352.2,303.3 352.6,305.6 353.0,305.2 353.4,305.8 353.8,306.5 354.2,305.4 354.6,305.8 355.0,307.3 355.4,307.8 355.8,307.0 356.2,308.7 356.6,307.9 357.0,307.1 357.4,308.7 357.8,311.2 358.2,308.1 358.6,310.6 359.0,311.1 359.4,311.4 359.8,308.7 360.2,312.4 360.6,310.2 361.0,309.9 361.4,310.1 361.8,311.3 362.2,310.8 362.6,310.7 363.0,312.7 363.4,310.4 363.8,310.2 364.2,312.5 364.6,312.6 365.0,313.2 365.4,310.8 365.8,313.5 366.2,312.9 366.6,314.6 367.0,311.2 367.4,313.1 367.8,312.6 368.2,311.2 368.6,312.4 369.0,314.7 369.4,312.9 369.8,312.8 370.2,314.7 370.6,315.0 371.0,315.1 371.4,313.2 371.8,314.1 372.2,315.5 372.6,313.7 373.0,313.7 373.4,315.6 373.8,316.5 374.2,313.5 374.6,312.6 375.0,313.4 375.4,314.0 375.8,315.0 376.2,315.9 376.6,315.2 377.0,314.6 377.4,315.6 377.8,314.4 378.2,315.5 378.6,314.8 379.0,317.8 379.4,316.3 379.8,314.4 380.2,314.1 380.6,314.7 381.0,313.5 381.4,314.6 381.8,314.8 382.2,316.8 382.6,315.6 383.0,315.4 383.4,315.0 383.8,315.4 384.2,316.8 384.6,316.7 385.0,318.3 385.4,316.5 385.8,318.3 386.2,317.6 386.6,317.4 387.0,315.3 387.4,316.1 387.8,318.4 388.2,319.1 388.6,317.9 389.0,318.6 389.4,317.4 389.8,317.5 390.2,317.3 390.6,319.0 391.0,318.4 391.4,317.9 391.8,317.8 392.2,318.8 392.6,318.6 393.0,317.4 393.4,320.1 393.8,318.6 394.2,318.4 394.6,320.0 395.0,319.5 395.4,318.4 395.8,319.1 396.2,317.5 396.6,317.9 397.0,316.5 397.4,319.9 397.8,316.7 398.2,319.4 398.6,317.8 399.0,317.7 399.4,318.5 399.8,319.0 400.2,319.3 400.6,320.5 401.0,319.1 401.4,319.6 401.8,318.1 402.2,319.4 402.6,318.8 403.0,318.2 403.4,318.6 403.8,318.6 404.2,318.8 404.6,319.0 405.0,318.1 405.4,317.8 405.8,319.3 406.2,316.8 406.6,317.9 407.0,320.1 407.4,316.3 407.8,317.7 408.2,319.1 408.6,316.7 409.0,320.6 409.4,316.2 409.8,319.8 410.2,319.9 410.6,319.2 411.0,318.0 411.4,318.6 411.8,317.3 412.2,319.0 412.6,317.0 413.0,317.8 413.4,319.1 413.8,316.9 414.2,317.6 414.6,318.1 415.0,316.5 415.4,319.1 415.8,318.2 416.2,316.2 416.6,317.7 417.0,316.9 417.4,317.0 417.8,317.7 418.2,316.9 418.6,318.6 419.0,316.8 419.4,318.5 419.8,317.4 420.2,318.3 420.6,316.8 421.0,316.8 421.4,316.1 421.8,317.9 422.2,318.2 422.6,319.4 423.0,318.5 423.4,317.4 423.8,316.8 424.2,317.4 424.6,317.0 425.0,318.5 425.4,317.9 425.8,316.0 426.2,316.1 426.6,318.3 427.0,317.1 427.4,316.5 427.8,318.0 428.2,316.2 428.6,316.3 429.0,316.1 429.4,314.4 429.8,317.4 430.2,315.2 430.6,315.8 431.0,315.6 431.4,317.1 431.8,316.2 432.2,316.3 432.6,314.4 433.0,316.1 433.4,314.6 433.8,316.5 434.2,316.5 434.6,316.1 435.0,318.3 435.4,316.6 435.8,316.7 436.2,316.2 436.6,315.8 437.0,317.0 437.4,317.1 437.8,314.5 438.2,317.0 438.6,316.4 439.0,316.9 439.4,316.3 439.8,314.4 440.2,314.5 440.6,317.8 441.0,316.0 441.4,314.2 441.8,316.1 442.2,315.3 442.6,313.7 443.0,313.4 443.4,313.9 443.8,316.0 444.2,315.6 444.6,315.4 445.0,316.0 445.4,316.4 445.8,313.4 446.2,315.4 446.6,314.8 447.0,314.4 447.4,315.1 447.8,315.6 448.2,315.5 448.6,314.2 449.0,315.2 449.4,318.0 449.8,314.6 450.2,314.0 450.6,316.1 451.0,316.5 451.4,316.4 451.8,314.7 452.2,317.0 452.6,315.1 453.0,314.7 453.4,315.3 453.8,315.9 454.2,316.8 454.6,316.8 455.0,316.1 455.4,317.2 455.8,316.3 456.2,317.2 456.6,314.7 457.0,314.6 457.4,317.2 457.8,314.8 458.2,316.1 458.6,316.3 459.0,315.9 459.4,316.0 459.8,318.0 460.2,314.3 460.6,317.6 461.0,318.9 461.4,316.7 461.8,316.7 462.2,317.6 462.6,318.8 463.0,315.6 463.4,317.0 463.8,316.7 464.2,317.6 464.6,317.2 465.0,317.8 465.4,316.6 465.8,317.2 466.2,316.5 466.6,316.5 467.0,317.1 467.4,317.1 467.8,316.1 468.2,319.0 468.6,317.3 469.0,316.0 469.4,318.7 469.8,316.7 470.2,318.1 470.6,317.6 471.0,317.9 471.4,317.9 471.8,317.1 472.2,317.8 472.6,319.9 473.0,315.6 473.4,317.9 473.8,318.4 474.2,316.8 474.6,316.5 475.0,320.2 475.4,317.6 475.8,320.2 476.2,318.7 476.6,318.2 477.0,318.7 477.4,318.9 477.8,319.4 478.2,318.7 478.6,318.4 479.0,318.5 479.4,319.8 479.8,319.2 480.2,317.4 480.6,317.8 481.0,318.8 481.4,317.9 481.8,318.2 482.2,317.6 482.6,318.4 483.0,319.1 483.4,319.7 483.8,318.7 484.2,320.9 484.6,318.7 485.0,321.0 485.4,319.9 485.8,319.4 486.2,318.4 486.6,316.8 487.0,318.9 487.4,319.2 487.8,321.0 488.2,317.7 488.6,321.1 489.0,318.9 489.4,320.0 489.8,317.1 490.2,319.4 490.6,319.0 491.0,320.1 491.4,319.5 491.8,318.3 492.2,320.4 492.6,320.2 493.0,320.2 493.4,320.6 493.8,320.7 494.2,319.6 494.6,318.3 495.0,318.3 495.4,321.1 495.8,320.5 496.2,319.9 496.6,319.4 497.0,319.9 497.4,320.0 497.8,319.6 498.2,319.3 498.6,322.1 499.0,320.3 499.4,319.5 499.8,318.8 500.2,319.4 500.6,320.9 501.0,321.0 501.4,320.0 501.8,320.3 502.2,320.0 502.6,319.3 503.0,321.7 503.4,320.8 503.8,322.5 504.2,319.7 504.6,320.4 505.0,321.4 505.4,320.3 505.8,319.2 506.2,319.7 506.6,320.7 507.0,321.0 507.4,320.6 507.8,321.7 508.2,321.7 508.6,321.1 509.0,320.8 509.4,320.6 509.8,321.4 510.2,321.8 510.6,321.0 511.0,321.4 511.4,320.6 511.8,319.6 512.2,320.0 512.6,321.7 513.0,321.5 513.4,322.6 513.8,321.1 514.2,321.9 514.6,322.4 515.0,322.1 515.4,320.6 515.8,321.0 516.2,321.3 516.6,320.3 517.0,321.7 517.4,322.2 517.8,320.8 518.2,323.2 518.6,321.0 519.0,321.1 519.4,321.1 519.8,320.7 520.2,321.8 520.6,321.4 521.0,323.0 521.4,322.0 521.8,322.0 522.2,321.2 522.6,320.1 523.0,321.4 523.4,320.7 523.8,322.4 524.2,321.5 524.6,323.1 525.0,322.3 525.4,322.4 525.8,321.8 526.2,321.8 526.6,322.3 527.0,322.5 527.4,321.0 527.8,322.1 528.2,323.7 528.6,321.6 529.0,321.5 529.4,321.1 529.8,320.4 530.2,322.9 530.6,321.8 531.0,322.1 531.4,323.6 531.8,323.8 532.2,321.0 532.6,322.9 533.0,322.5 533.4,322.3 533.8,322.4 534.2,321.9 534.6,323.4 535.0,322.5 535.4,322.3 535.8,323.1 536.2,322.8 536.6,322.4 537.0,322.3 537.4,323.7 537.8,322.5 538.2,322.0 538.6,321.3 539.0,321.8 539.4,321.1 539.8,322.2 540.2,322.4 540.6,320.2 541.0,322.2 541.4,322.8 541.8,322.3 542.2,321.3 542.6,323.4 543.0,321.6 543.4,321.1 543.8,321.3 544.2,322.3 544.6,323.2 545.0,323.4 545.4,322.5 545.8,321.2 546.2,321.7 546.6,321.5 547.0,322.2 547.4,320.7 547.8,322.5 548.2,323.0 548.6,322.3 549.0,322.9 549.4,321.6 549.8,321.1 550.2,321.9 550.6,323.6 551.0,323.5 551.4,322.1 551.8,323.7 552.2,322.3 552.6,324.0 553.0,323.1 553.4,322.2 553.8,323.4 554.2,322.0 554.6,321.8 555.0,321.4 555.4,323.0 555.8,322.7 556.2,322.7 556.6,322.4 557.0,324.1 557.4,322.4 557.8,322.2 558.2,324.0 558.6,324.2 559.0,323.2 559.4,321.3 559.8,322.4 560.2,323.5 560.6,323.0 561.0,324.4 561.4,321.7 561.8,323.6 562.2,322.4 562.6,324.2 563.0,323.0 563.4,324.0 563.8,322.5 564.2,321.8 564.6,322.1 565.0,322.6 565.4,322.2 565.8,324.3 566.2,324.4 566.6,323.4 567.0,322.3 567.4,323.1 567.8,322.6 568.2,324.6 568.6,323.5 569.0,323.7 569.4,322.8 569.8,321.2 570.2,322.1 570.6,321.4 571.0,322.2 571.4,321.2 571.8,319.5 572.2,318.9 572.6,320.1 573.0,316.8 573.4,316.5 573.8,317.4 574.2,317.4 574.6,318.5 575.0,320.4 575.4,322.5 575.8,320.0 576.2,322.4 576.6,322.9 577.0,323.1 577.4,323.3 577.8,323.2 578.2,324.5 578.6,323.2 579.0,323.6 579.4,323.7 579.8,323.8 580.2,323.6 580.6,324.6 581.0,323.8 581.4,323.9 581.8,323.7 582.2,322.9 582.6,323.1 583.0,322.9 583.4,324.0 583.8,323.2 584.2,322.9 584.6,324.1 585.0,324.4 585.4,322.3 585.8,325.4 586.2,324.0 586.6,323.9 587.0,324.9 587.4,324.0 587.8,323.5 588.2,325.9 588.6,323.1 589.0,323.9 589.4,324.8 589.8,323.1 590.2,324.0 590.6,324.4 591.0,326.0 591.4,323.3 591.8,324.1 592.2,324.7 592.6,324.2 593.0,323.1 593.4,324.5 593.8,324.3 594.2,324.6 594.6,325.2 595.0,325.1 595.4,324.6 595.8,324.5 596.2,323.3 596.6,324.2 597.0,324.5 597.4,323.9 597.8,324.4 598.2,323.6 598.6,325.7 599.0,326.2 599.4,324.0 599.8,324.7 600.2,324.2 600.6,325.5 601.0,324.8 601.4,324.5 601.8,324.2 602.2,324.6 602.6,323.6 603.0,325.1 603.4,323.9 603.8,325.0 604.2,324.6 604.6,325.5 605.0,324.5 605.4,325.4 605.8,323.7 606.2,325.1 606.6,324.4 607.0,324.8 607.4,324.7 607.8,325.4 608.2,322.9 608.6,324.9 609.0,323.3 609.4,325.7 609.8,323.0 610.2,323.8 610.6,323.2 611.0,326.1 611.4,323.6 611.8,324.8 612.2,324.3 612.6,323.2 613.0,324.5 613.4,325.4 613.8,324.6 614.2,325.6 614.6,324.5 615.0,324.8 615.4,324.5 615.8,325.2 616.2,326.5 616.6,325.2 617.0,325.1 617.4,324.4 617.8,324.3 618.2,326.2 618.6,324.0 619.0,324.2 619.4,324.9 619.8,324.6 620.2,326.7 620.6,323.2 621.0,325.4 621.4,325.7 621.8,324.1 622.2,324.5 622.6,325.5 623.0,326.5 623.4,324.3 623.8,323.8 624.2,326.0 624.6,326.5 625.0,324.9 625.4,323.4 625.8,326.5 626.2,325.1 626.6,326.2 627.0,325.2 627.4,324.9 627.8,324.9 628.2,326.6 628.6,326.5 629.0,323.5 629.4,324.5 629.8,326.9 630.2,325.1 630.6,324.2 631.0,325.4 631.4,325.3 631.8,325.3 632.2,325.0 632.6,325.2 633.0,325.1 633.4,325.8 633.8,324.8 634.2,325.3 634.6,325.4 635.0,326.7 635.4,325.9 635.8,325.5 636.2,326.1 636.6,326.0 637.0,326.6 637.4,326.1 637.8,327.2 638.2,326.8 638.6,325.7 639.0,325.4 639.4,326.5 639.8,326.2 640.2,325.7 640.6,324.6 641.0,324.3 641.4,326.1 641.8,326.5 642.2,326.5 642.6,324.8 643.0,326.8 643.4,325.5 643.8,326.3 644.2,326.3 644.6,325.3 645.0,325.5 645.4,324.3 645.8,325.3 646.2,324.5 646.6,326.4 647.0,326.2 647.4,326.9 647.8,326.4 648.2,325.6 648.6,326.5 649.0,325.9 649.4,326.7 649.8,326.5 650.2,325.5 650.6,326.3 651.0,326.4 651.4,326.1 651.8,327.1 652.2,327.8 652.6,326.1 653.0,326.2 653.4,324.8 653.8,326.4 654.2,326.2 654.6,324.8 655.0,326.8 655.4,327.1 655.8,326.1 656.2,326.4 656.6,325.9 657.0,327.4 657.4,325.5 657.8,326.5 658.2,328.4 658.6,326.9 659.0,327.3 659.4,326.8 659.8,326.0 660.2,327.0 660.6,327.4 661.0,326.2 661.4,327.4 661.8,328.1 662.2,328.0 662.6,325.9 663.0,326.4 663.4,325.9 663.8,328.1 664.2,327.8 664.6,327.9 665.0,326.7 665.4,326.5 665.8,327.5 666.2,327.6 666.6,326.8 667.0,327.7 667.4,328.1 667.8,327.8 668.2,326.8 668.6,326.0 669.0,327.5 669.4,327.9 669.8,327.6 670.2,327.5 670.6,327.3 671.0,328.5 671.4,327.9 671.8,328.1 672.2,327.2 672.6,327.6 673.0,328.2 673.4,327.3 673.8,327.2 674.2,327.9 674.6,329.2 675.0,328.4 675.4,329.4 675.8,328.2 676.2,328.1 676.6,327.3 677.0,328.0 677.4,329.6 677.8,328.8 678.2,329.1 678.6,329.1 679.0,328.6 679.4,328.5 679.8,328.8 680.2,329.2 680.6,329.1 681.0,329.2 681.4,328.9 681.8,328.3 682.2,328.7 682.6,328.2 683.0,329.7 683.4,327.4 683.8,328.8 684.2,330.6 684.6,328.8 685.0,328.3 685.4,329.1 685.8,330.2 686.2,329.1 686.6,329.7 687.0,329.4 687.4,329.0 687.8,330.9 688.2,329.4 688.6,329.0 689.0,329.1 689.4,329.8 689.8,329.8 690.2,330.1 690.6,329.7 691.0,328.5 691.4,330.0 691.8,329.4 692.2,329.5 692.6,328.6 693.0,329.3 693.4,329.2 693.8,329.8 694.2,328.7 694.6,329.9 695.0,330.0 695.4,329.1 695.8,329.5 696.2,329.3 696.6,330.6 697.0,328.5 697.4,329.8 697.8,328.8 698.2,329.8 698.6,330.7 699.0,329.7 699.4,330.2 699.8,329.5 700.2,331.6 700.6,330.9 701.0,331.1 701.4,329.3 701.8,329.5 702.2,331.1 702.6,330.2 703.0,330.1 703.4,330.6 703.8,329.5 704.2,330.9 704.6,330.4 705.0,330.8 705.4,330.0 705.8,330.8 706.2,330.0 706.6,331.2 707.0,331.3 707.4,331.2 707.8,330.9 708.2,331.0 708.6,329.0 709.0,331.2 709.4,330.4 709.8,330.7 710.2,330.4 710.6,329.6 711.0,330.3 711.4,331.1 711.8,331.7 712.2,330.2 712.6,330.0 713.0,331.8 713.4,330.1 713.8,332.2 714.2,330.8 714.6,330.1 715.0,331.5 715.4,332.0 715.8,329.8 716.2,331.9 716.6,330.6 717.0,331.9 717.4,330.6 717.8,329.7 718.2,331.2 718.6,331.5 719.0,332.4 719.4,332.1 719.8,331.4 720.2,330.8 720.6,330.6 721.0,330.7 721.4,330.4 721.8,330.8 722.2,329.5 722.6,331.1 723.0,331.0 723.4,332.5 723.8,331.6 724.2,330.7 724.6,331.5 725.0,330.2 725.4,330.7 725.8,329.8 726.2,332.1 726.6,331.5 727.0,330.3 727.4,331.1 727.8,331.8 728.2,331.5 728.6,331.4 729.0,330.6 729.4,330.7 729.8,331.3 730.2,331.9 730.6,330.6 731.0,330.4 731.4,332.1 731.8,330.6 732.2,332.0 732.6,331.4 733.0,331.9 733.4,332.5 733.8,331.8 734.2,331.9 734.6,330.7 735.0,330.8 735.4,331.8 735.8,332.4 736.2,332.3 736.6,332.8 737.0,331.6 737.4,331.5 737.8,332.1 738.2,331.4 738.6,331.4 739.0,330.7 739.4,332.1 739.8,330.7 740.2,331.8 740.6,330.5 741.0,332.2 741.4,330.8 741.8,332.1 742.2,330.4 742.6,331.2 743.0,332.3 743.4,331.0 743.8,331.6 744.2,331.2 744.6,330.1 745.0,331.8 745.4,331.9 745.8,330.8 746.2,332.0 746.6,331.0 747.0,330.9 747.4,331.6 747.8,331.1 748.2,333.1 748.6,330.6 749.0,332.2 749.4,332.3 749.8,330.3 750.2,330.5 750.6,332.1 751.0,331.3 751.4,332.0 751.8,332.5 752.2,331.4 752.6,331.0 753.0,330.3 753.4,331.9 753.8,331.1 754.2,332.0 754.6,331.9 755.0,330.8 755.4,333.0 755.8,332.5 756.2,332.4 756.6,331.0 757.0,331.5 757.4,331.4 757.8,331.5 758.2,331.0 758.6,332.1 759.0,332.0 759.4,332.1 759.8,331.5 760.2,332.7 760.6,332.0 761.0,330.4 761.4,331.4 761.8,331.8 762.2,332.5 762.6,331.7 763.0,331.7 763.4,331.4 763.8,332.4 764.2,331.6 764.6,331.5 765.0,331.4 765.4,332.3 765.8,331.6 766.2,330.8 766.6,332.4 767.0,331.5 767.4,332.2 767.8,332.2 768.2,332.8 768.6,332.7 769.0,331.6 769.4,331.9 769.8,331.1 770.2,333.2 770.6,332.3 771.0,333.0 771.4,331.8 771.8,330.6 772.2,333.1 772.6,332.1 773.0,332.1 773.4,332.1 773.8,332.5 774.2,332.4 774.6,331.0 775.0,332.8 775.4,331.7 775.8,331.8 776.2,333.3 776.6,332.7 777.0,331.9 777.4,330.8 777.8,332.2 778.2,332.5 778.6,332.1 779.0,331.3 779.4,331.6 779.8,331.3 780.2,332.3 780.6,332.7 781.0,332.9 781.4,331.7 781.8,332.3 782.2,332.5 782.6,331.8 783.0,332.1 783.4,333.6 783.8,332.3 784.2,332.8 784.6,331.9 785.0,332.2 785.4,331.0 785.8,332.2 786.2,333.0 786.6,333.7 787.0,333.0 787.4,332.7 787.8,332.3 788.2,331.8 788.6,332.1 789.0,332.7 789.4,331.7 789.8,332.9 790.2,331.6 790.6,331.1 791.0,331.6 791.4,331.1 791.8,331.3 792.2,333.0 792.6,332.0 793.0,332.2 793.4,332.6 793.8,332.4 794.2,330.7 794.6,331.4 795.0,330.0 795.4,328.8 795.8,328.2 796.2,325.8 796.6,325.5 797.0,325.5 797.4,325.9 797.8,325.2 798.2,325.8 798.6,327.4 799.0,328.6 799.4,329.0 799.8,330.3 800.2,329.8 800.6,330.6 801.0,331.6 801.4,331.5 801.8,331.7 802.2,333.3 802.6,332.2 803.0,331.7 803.4,332.7 803.8,333.7 804.2,332.5 804.6,333.3 805.0,332.2 805.4,332.1 805.8,332.0 806.2,332.4 806.6,333.7 807.0,331.7 807.4,333.6 807.8,331.8 808.2,332.3 808.6,333.1 809.0,332.9 809.4,332.7 809.8,331.4 810.2,332.8 810.6,331.8 811.0,333.9 811.4,332.4 811.8,332.7 812.2,331.8 812.6,332.2 813.0,331.7 813.4,333.2 813.8,332.4 814.2,332.9 814.6,332.1 815.0,332.2 815.4,333.4 815.8,331.9 816.2,331.4 816.6,332.9 817.0,331.8 817.4,332.3 817.8,333.2 818.2,332.0 818.6,333.2 819.0,332.1 819.4,333.6 819.8,333.5 820.2,332.3 820.6,332.5 821.0,332.1 821.4,332.8 821.8,333.4 822.2,331.7 822.6,333.2 823.0,331.8 823.4,332.1 823.8,331.4 824.2,334.1 824.6,332.7 825.0,332.8 825.4,332.2 825.8,333.4 826.2,331.3 826.6,332.7 827.0,334.1 827.4,332.4 827.8,332.7 828.2,333.1 828.6,332.1 829.0,332.7 829.4,333.3 829.8,332.8 830.2,332.9 830.6,332.5 831.0,332.9 831.4,332.7 831.8,333.7 832.2,333.2 832.6,332.6 833.0,331.3 833.4,333.2 833.8,333.2 834.2,332.1 834.6,331.4 835.0,332.0 835.4,333.3 835.8,332.0 836.2,332.4 836.6,332.9 837.0,333.6 837.4,332.7 837.8,332.7 838.2,332.4 838.6,333.8 839.0,333.5 839.4,332.7 839.8,331.8 840.2,332.2 840.6,333.1 841.0,332.3 841.4,333.4 841.8,333.0 842.2,333.0 842.6,333.2 843.0,333.1 843.4,332.2 843.8,332.6 844.2,334.2 844.6,332.0 845.0,332.5 845.4,333.5 845.8,332.7 846.2,332.2 846.6,331.9 847.0,333.1 847.4,333.5 847.8,333.7 848.2,332.8 848.6,333.5 849.0,332.1 849.4,332.9 849.8,332.3 850.2,332.9 850.6,333.3 851.0,333.5 851.4,332.1 851.8,333.6 852.2,332.5 852.6,332.1 853.0,332.7 853.4,331.8 853.8,332.8 854.2,333.0 854.6,332.7 855.0,333.2 855.4,332.6 855.8,332.8 856.2,331.9 856.6,332.8 857.0,332.3 857.4,332.5 857.8,332.8 858.2,333.0 858.6,331.7 859.0,331.8 859.4,332.6 859.8,333.1 860.2,333.1 860.6,333.4 861.0,333.7 861.4,333.2 861.8,332.8 862.2,332.2 862.6,332.2 863.0,332.5 863.4,333.0 863.8,333.0 864.2,332.8 864.6,332.7 865.0,333.3 865.4,333.0 865.8,333.0 866.2,333.1 866.6,332.5 867.0,332.2 867.4,333.2 867.8,333.1 868.2,332.7 868.6,332.6 869.0,334.2 869.4,332.4 869.8,332.7 870.2,333.0 870.6,332.1 871.0,332.9 871.4,334.1 871.8,333.5 872.2,333.3 872.6,333.3 873.0,332.9 873.4,333.5 873.8,332.8 874.2,332.6 874.6,332.9 875.0,333.5 875.4,333.1 875.8,333.3 876.2,331.5 876.6,333.7 877.0,334.3 877.4,333.8 877.8,332.7 878.2,332.3 878.6,333.1 879.0,332.2 879.4,333.4 879.8,332.5 880.2,333.5 880.6,333.8 881.0,331.5 881.4,333.1 881.8,332.4 882.2,332.0 882.6,332.5 883.0,332.7 883.4,333.6 883.8,331.9 884.2,333.6 884.6,334.2 885.0,333.3 885.4,333.3 885.8,332.9 886.2,332.1 886.6,333.3 887.0,333.2 887.4,333.4 887.8,334.3 888.2,333.4 888.6,333.2 889.0,333.9 889.4,332.0 889.8,332.1 890.2,332.7 890.6,332.5 891.0,333.4 891.4,332.7 891.8,334.1 892.2,333.9 892.6,333.4 893.0,332.7 893.4,333.3 893.8,333.5 894.2,332.2 894.6,333.1 895.0,333.4 895.4,333.1 895.8,334.0 896.2,333.7 896.6,332.4 897.0,333.0 897.4,332.4 897.8,333.3 898.2,332.3 898.6,333.5 899.0,333.2 899.4,333.6 899.8,332.8 900.2,332.0 900.6,334.1 901.0,332.8 901.4,333.8 901.8,333.2 902.2,333.4 902.6,334.1 903.0,333.2 903.4,333.9 903.8,332.0 904.2,333.5 904.6,332.8 905.0,332.8 905.4,332.9 905.8,333.2 906.2,334.0 906.6,331.7 907.0,333.0 907.4,332.5 907.8,333.7 908.2,332.7 908.6,333.2 909.0,332.7 909.4,333.4 909.8,333.6 910.2,332.7 910.6,333.0 911.0,332.0 911.4,333.2 911.8,333.5 912.2,332.6 912.6,333.7 913.0,331.6 913.4,331.7 913.8,332.0 914.2,332.6 914.6,333.0 915.0,332.9 915.4,332.9 915.8,333.4 916.2,332.6 916.6,332.1 917.0,332.1 917.4,334.3 917.8,331.6 918.2,332.8 918.6,333.9 919.0,333.3 919.4,332.4 919.8,333.0 920.2,333.5 920.6,333.8 921.0,332.4 921.4,333.5 921.8,333.1 922.2,333.7 922.6,333.9 923.0,332.7 923.4,332.0 923.8,333.2 924.2,334.1 924.6,333.4 925.0,333.1 925.4,334.4 925.8,332.3 926.2,333.6 926.6,332.6 927.0,333.0 927.4,333.0 927.8,334.0 928.2,332.4 928.6,332.6 929.0,331.9 929.4,333.3 929.8,332.7 930.2,333.3 930.6,332.3 931.0,332.7 931.4,333.7 931.8,332.9 932.2,333.4 932.6,333.3 933.0,332.7 933.4,331.9 933.8,333.6 934.2,333.1 934.6,333.6 935.0,331.7 935.4,331.9 935.8,331.6 936.2,332.4 936.6,333.6 937.0,333.3 937.4,332.8 937.8,332.8 938.2,333.1 938.6,332.1 939.0,332.2 939.4,331.5 939.8,329.2 940.2,329.6 940.6,330.0 941.0,327.7 941.4,327.1 941.8,326.0 942.2,325.7 942.6,326.9 943.0,326.0 943.4,326.0 943.8,325.9 944.2,328.1 944.6,328.0 945.0,329.0 945.4,331.6 945.8,332.2 946.2,330.8 946.6,333.0 947.0,333.0 947.4,332.3 947.8,333.4 948.2,331.9 948.6,332.2 949.0,332.0 949.4,332.3 949.8,333.6 950.2,332.1 950.6,332.2 951.0,332.4 951.4,333.1 951.8,332.8 952.2,333.6 952.6,332.5 953.0,332.1 953.4,332.7 953.8,333.0 954.2,332.4 954.6,333.2 955.0,334.2 955.4,332.6 955.8,333.0 956.2,333.9 956.6,332.6 957.0,332.4 957.4,332.3 957.8,333.3 958.2,333.3 958.6,332.9 959.0,333.0 959.4,333.8 959.8,333.6 960.2,332.1 960.6,333.0 961.0,333.1 961.4,333.5 961.8,332.8 962.2,332.6 962.6,332.7 963.0,331.8 963.4,333.0 963.8,332.6 964.2,333.3 964.6,332.3 965.0,332.7 965.4,332.3 965.8,332.3 966.2,333.4 966.6,332.7 967.0,333.3 967.4,332.2 967.8,333.0 968.2,331.9 968.6,332.7 969.0,332.6 969.4,333.4" stroke="#AA4643"/>
<path d="M110.2,296.6 110.6,296.6 111.0,297.9 111.4,297.7 111.8,298.4 112.2,299.0 112.6,298.6 113.0,298.7 113.4,299.6 113.8,299.2 114.2,300.2 114.6,301.1 115.0,301.1 115.4,300.3 115.8,299.7 116.2,301.0 116.6,301.1 117.0,302.3 117.4,301.3 117.8,301.6 118.2,302.5 118.6,301.7 119.0,302.1 119.4,303.8 119.8,303.7 120.2,303.2 120.6,303.1 121.0,302.2 121.4,303.5 121.8,303.3 122.2,303.5 122.6,303.1 123.0,303.6 123.4,303.6 123.8,304.1 124.2,305.1 124.6,304.4 125.0,303.0 125.4,303.6 125.8,303.3 126.2,304.0 126.6,305.1 127.0,305.1 127.4,304.5 127.8,305.2 128.2,304.6 128.6,304.2 129.0,304.3 129.4,304.8 129.8,306.5 130.2,304.6 130.6,306.5 131.0,306.6 131.4,305.5 131.8,305.7 132.2,305.3 132.6,305.7 133.0,306.3 133.4,305.8 133.8,306.6 134.2,306.7 134.6,306.2 135.0,306.2 135.4,305.9 135.8,306.2 136.2,305.2 136.6,306.3 137.0,306.2 137.4,305.5 137.8,307.6 138.2,305.4 138.6,305.5 139.0,306.4 139.4,304.8 139.8,305.7 140.2,305.2 140.6,305.6 141.0,306.2 141.4,306.5 141.8,307.1 142.2,306.9 142.6,307.1 143.0,306.7 143.4,306.0 143.8,307.1 144.2,306.0 144.6,305.9 145.0,307.4 145.4,306.9 145.8,306.5 146.2,306.9 146.6,307.0 147.0,305.4 147.4,306.3 147.8,305.5 148.2,306.4 148.6,305.9 149.0,307.3 149.4,306.7 149.8,305.7 150.2,306.3 150.6,305.4 151.0,306.3 151.4,306.6 151.8,306.4 152.2,304.8 152.6,305.9 153.0,306.5 153.4,306.3 153.8,306.9 154.2,305.1 154.6,306.4 155.0,305.5 155.4,306.1 155.8,306.2 156.2,306.3 156.6,305.4 157.0,305.9 157.4,304.9 157.8,304.7 158.2,306.1 158.6,305.6 159.0,304.4 159.4,304.9 159.8,305.5 160.2,306.6 160.6,306.2 161.0,306.0 161.4,304.1 161.8,305.3 162.2,305.7 162.6,305.6 163.0,305.5 163.4,305.0 163.8,306.5 164.2,306.2 164.6,305.0 165.0,304.4 165.4,306.6 165.8,304.6 166.2,305.9 166.6,306.3 167.0,304.2 167.4,305.1 167.8,304.6 168.2,305.2 168.6,305.0 169.0,306.1 169.4,305.1 169.8,304.6 170.2,305.4 170.6,304.3 171.0,304.1 171.4,305.9 171.8,303.6 172.2,303.8 172.6,304.1 173.0,303.1 173.4,302.3 173.8,304.6 174.2,303.0 174.6,303.1 175.0,303.1 175.4,302.5 175.8,302.3 176.2,303.1 176.6,304.6 177.0,303.3 177.4,303.2 177.8,301.3 178.2,302.3 178.6,301.2 179.0,302.7 179.4,301.7 179.8,301.8 180.2,301.6 180.6,301.0 181.0,300.1 181.4,301.7 181.8,300.0 182.2,300.0 182.6,300.6 183.0,300.1 183.4,300.8 183.8,301.3 184.2,300.6 184.6,300.4 185.0,300.1 185.4,300.7 185.8,298.2 186.2,300.0 186.6,298.8 187.0,298.4 187.4,299.3 187.8,298.8 188.2,299.6 188.6,299.9 189.0,297.0 189.4,298.6 189.8,300.3 190.2,299.2 190.6,299.6 191.0,298.2 191.4,296.6 191.8,296.8 192.2,298.3 192.6,298.4 193.0,296.7 193.4,297.0 193.8,297.3 194.2,295.3 194.6,296.4 195.0,298.1 195.4,298.5 195.8,296.1 196.2,297.8 196.6,295.4 197.0,294.9 197.4,293.6 197.8,296.3 198.2,294.8 198.6,297.1 199.0,295.1 199.4,294.8 199.8,292.6 200.2,295.7 200.6,293.6 201.0,293.6 201.4,291.5 201.8,294.3 202.2,294.2 202.6,292.3 203.0,292.9 203.4,293.0 203.8,293.4 204.2,292.2 204.6,293.8 205.0,291.4 205.4,290.8 205.8,290.8 206.2,288.8 206.6,289.9 207.0,291.7 207.4,290.7 207.8,289.3 208.2,290.4 208.6,287.5 209.0,289.2 209.4,289.9 209.8,289.9 210.2,288.0 210.6,289.7 211.0,290.6 211.4,287.7 211.8,288.9 212.2,285.9 212.6,285.2 213.0,288.1 213.4,287.2 213.8,287.1 214.2,285.9 214.6,286.1 215.0,287.2 215.4,288.1 215.8,285.4 216.2,283.4 216.6,286.8 217.0,285.8 217.4,285.6 217.8,284.7 218.2,287.0 218.6,284.1 219.0,284.4 219.4,281.1 219.8,282.5 220.2,282.1 220.6,282.7 221.0,282.9 221.4,281.2 221.8,284.2 222.2,280.2 222.6,280.8 223.0,281.4 223.4,279.1 223.8,281.3 224.2,281.1 224.6,279.5 225.0,282.2 225.4,279.4 225.8,279.4 226.2,277.3 226.6,276.0 227.0,277.2 227.4,277.3 227.8,276.8 228.2,278.3 228.6,273.9 229.0,274.9 229.4,273.5 229.8,277.9 230.2,274.8 230.6,274.6 231.0,273.4 231.4,276.1 231.8,273.8 232.2,274.5 232.6,270.7 233.0,275.4 233.4,273.9 233.8,273.9 234.2,274.7 234.6,272.1 235.0,271.9 235.4,273.0 235.8,272.3 236.2,270.9 236.6,271.1 237.0,270.0 237.4,271.7 237.8,271.7 238.2,270.0 238.6,272.8 239.0,266.9 239.4,268.7 239.8,271.7 240.2,267.9 240.6,265.6 241.0,270.4 241.4,268.7 241.8,265.5 242.2,268.5 242.6,265.2 243.0,264.4 243.4,266.2 243.8,265.3 244.2,264.0 244.6,265.0 245.0,263.6 245.4,265.2 245.8,264.8 246.2,265.9 246.6,263.5 247.0,261.7 247.4,261.5 247.8,263.1 248.2,266.1 248.6,264.6 249.0,261.6 249.4,264.3 249.8,260.1 250.2,263.9 250.6,261.1 251.0,262.9 251.4,262.4 251.8,260.5 252.2,261.4 252.6,258.5 253.0,260.1 253.4,262.1 253.8,263.8 254.2,260.9 254.6,259.5 255.0,257.1 255.4,260.9 255.8,255.4 256.2,256.8 256.6,258.8 257.0,255.6 257.4,260.7 257.8,259.6 258.2,256.1 258.6,255.9 259.0,254.2 259.4,253.8 259.8,257.2 260.2,257.4 260.6,256.6 261.0,256.2 261.4,254.3 261.8,256.0 262.2,252.1 262.6,254.9 263.0,257.6 263.4,257.1 263.8,253.3 264.2,253.4 264.6,256.8 265.0,257.5 265.4,250.6 265.8,252.7 266.2,253.9 266.6,255.8 267.0,251.4 267.4,254.3 267.8,252.3 268.2,257.2 268.6,253.5 269.0,252.2 269.4,251.7 269.8,254.5 270.2,253.6 270.6,249.8 271.0,252.4 271.4,248.8 271.8,249.5 272.2,247.5 272.6,246.5 273.0,247.1 273.4,246.4 273.8,250.0 274.2,251.5 274.6,250.2 275.0,249.0 275.4,253.4 275.8,247.7 276.2,247.9 276.6,253.6 277.0,253.4 277.4,254.1 277.8,251.7 278.2,249.5 278.6,251.1 279.0,253.4 279.4,250.7 279.8,250.9 280.2,249.5 280.6,250.1 281.0,254.4 281.4,253.7 281.8,250.4 282.2,250.7 282.6,251.9 283.0,254.4 283.4,250.9 283.8,253.1 284.2,249.4 284.6,251.2 285.0,254.8 285.4,255.9 285.8,251.8 286.2,252.8 286.6,256.1 287.0,253.8 287.4,253.6 287.8,255.9 288.2,255.4 288.6,257.4 289.0,256.8 289.4,254.2 289.8,255.2 290.2,255.4 290.6,252.9 291.0,253.8 291.4,257.8 291.8,252.7 292.2,258.0 292.6,256.7 293.0,255.9 293.4,257.3 293.8,257.3 294.2,258.8 294.6,255.7 295.0,256.1 295.4,256.1 295.8,260.4 296.2,258.6 296.6,255.0 297.0,256.2 297.4,255.6 297.8,257.1 298.2,257.5 298.6,261.4 299.0,253.7 299.4,259.3 299.8,258.3 300.2,256.1 300.6,257.3 301.0,256.7 301.4,257.8 301.8,259.8 302.2,255.0 302.6,260.6 303.0,257.4 303.4,261.1 303.8,259.1 304.2,260.8 304.6,259.7 305.0,260.8 305.4,258.9 305.8,257.3 306.2,260.4 306.6,260.6 307.0,263.3 307.4,255.7 307.8,259.2 308.2,261.8 308.6,257.5 309.0,259.6 309.4,264.2 309.8,263.0 310.2,258.8 310.6,263.3 311.0,263.0 311.4,262.4 311.8,261.8 312.2,261.7 312.6,259.8 313.0,260.6 313.4,263.1 313.8,262.2 314.2,265.4 314.6,261.6 315.0,258.6 315.4,261.9 315.8,263.2 316.2,263.5 316.6,263.1 317.0,261.6 317.4,266.0 317.8,262.2 318.2,264.9 318.6,263.2 319.0,261.8 319.4,266.6 319.8,260.5 320.2,262.9 320.6,265.3 321.0,264.1 321.4,266.2 321.8,264.8 322.2,264.4 322.6,269.1 323.0,265.1 323.4,265.4 323.8,264.0 324.2,264.7 324.6,267.3 325.0,267.3 325.4,266.5 325.8,265.5 326.2,268.0 326.6,264.1 327.0,266.6 327.4,267.0 327.8,266.1 328.2,268.0 328.6,266.8 329.0,266.8 329.4,271.3 329.8,269.7 330.2,270.7 330.6,269.0 331.0,270.7 331.4,270.6 331.8,271.5 332.2,273.1 332.6,269.5 333.0,270.5 333.4,270.2 333.8,267.1 334.2,268.4 334.6,270.9 335.0,272.1 335.4,270.4 335.8,273.3 336.2,273.7 336.6,271.3 337.0,274.4 337.4,275.1 337.8,273.3 338.2,271.2 338.6,275.2 339.0,272.9 339.4,272.8 339.8,273.8 340.2,273.0 340.6,275.6 341.0,275.4 341.4,276.3 341.8,275.5 342.2,273.6 342.6,274.8 343.0,276.6 343.4,274.9 343.8,278.8 344.2,275.6 344.6,275.3 345.0,278.1 345.4,277.7 345.8,276.8 346.2,276.7 346.6,277.9 347.0,278.7 347.4,278.8 347.8,277.5 348.2,278.7 348.6,279.5 349.0,279.6 349.4,275.7 349.8,277.7 350.2,278.0 350.6,279.0 351.0,279.7 351.4,281.0 351.8,280.7 352.2,279.9 352.6,280.3 353.0,282.9 353.4,279.8 353.8,281.3 354.2,283.2 354.6,281.7 355.0,278.7 355.4,282.1 355.8,281.3 356.2,281.9 356.6,283.6 357.0,283.0 357.4,282.3 357.8,284.0 358.2,283.6 358.6,283.3 359.0,283.8 359.4,283.9 359.8,283.3 360.2,283.3 360.6,284.1 361.0,283.1 361.4,282.9 361.8,286.3 362.2,284.5 362.6,284.9 363.0,285.0 363.4,285.3 363.8,285.5 364.2,285.7 364.6,284.8 365.0,287.1 365.4,285.2 365.8,287.5 366.2,284.0 366.6,285.2 367.0,287.8 367.4,286.6 367.8,286.1 368.2,287.5 368.6,285.9 369.0,287.3 369.4,284.8 369.8,286.9 370.2,286.8 370.6,288.3 371.0,288.8 371.4,286.8 371.8,289.8 372.2,287.4 372.6,285.7 373.0,285.8 373.4,290.1 373.8,288.3 374.2,287.8 374.6,287.8 375.0,287.5 375.4,290.4 375.8,288.8 376.2,291.1 376.6,288.9 377.0,286.7 377.4,290.1 377.8,288.5 378.2,288.4 378.6,290.0 379.0,287.2 379.4,288.0 379.8,285.7 380.2,283.9 380.6,284.9 381.0,283.3 381.4,285.9 381.8,286.3 382.2,286.2 382.6,287.9 383.0,288.9 383.4,288.8 383.8,290.7 384.2,289.9 384.6,291.1 385.0,289.5 385.4,290.8 385.8,291.2 386.2,289.9 386.6,290.4 387.0,290.3 387.4,291.7 387.8,290.1 388.2,291.4 388.6,292.6 389.0,291.4 389.4,289.2 389.8,291.1 390.2,292.1 390.6,290.7 391.0,292.2 391.4,291.7 391.8,291.5 392.2,290.7 392.6,290.4 393.0,290.7 393.4,291.1 393.8,291.6 394.2,291.5 394.6,290.7 395.0,291.1 395.4,291.4 395.8,289.2 396.2,290.2 396.6,290.1 397.0,290.8 397.4,290.7 397.8,290.7 398.2,290.1 398.6,291.8 399.0,291.3 399.4,289.2 399.8,291.0 400.2,289.8 400.6,292.9 401.0,290.5 401.4,290.6 401.8,291.1 402.2,290.8 402.6,291.0 403.0,292.7 403.4,291.3 403.8,291.9 404.2,292.3 404.6,290.0 405.0,292.9 405.4,291.8 405.8,292.1 406.2,290.1 406.6,291.9 407.0,291.5 407.4,290.4 407.8,293.3 408.2,291.6 408.6,290.8 409.0,291.2 409.4,292.0 409.8,292.3 410.2,291.7 410.6,292.4 411.0,292.6 411.4,289.7 411.8,290.5 412.2,290.0 412.6,291.1 413.0,292.6 413.4,291.7 413.8,289.9 414.2,290.7 414.6,292.1 415.0,290.4 415.4,290.9 415.8,291.3 416.2,289.0 416.6,291.8 417.0,291.3 417.4,291.5 417.8,289.8 418.2,290.0 418.6,290.2 419.0,291.1 419.4,290.9 419.8,290.9 420.2,292.7 420.6,292.2 421.0,289.9 421.4,289.9 421.8,292.5 422.2,290.2 422.6,292.1 423.0,292.3 423.4,289.9 423.8,290.2 424.2,290.5 424.6,289.4 425.0,289.3 425.4,289.9 425.8,291.2 426.2,289.8 426.6,290.0 427.0,289.7 427.4,288.6 427.8,291.8 428.2,287.7 428.6,289.3 429.0,290.6 429.4,288.4 429.8,290.6 430.2,291.3 430.6,288.9 431.0,290.1 431.4,288.5 431.8,290.3 432.2,289.8 432.6,289.9 433.0,291.2 433.4,290.1 433.8,291.1 434.2,290.3 434.6,288.1 435.0,289.8 435.4,290.0 435.8,287.8 436.2,290.9 436.6,289.4 437.0,289.7 437.4,288.3 437.8,289.4 438.2,289.6 438.6,288.9 439.0,289.3 439.4,286.8 439.8,290.7 440.2,287.9 440.6,286.7 441.0,288.0 441.4,288.1 441.8,289.7 442.2,288.0 442.6,289.4 443.0,287.9 443.4,291.4 443.8,289.7 444.2,291.3 444.6,287.9 445.0,289.8 445.4,287.9 445.8,289.7 446.2,289.8 446.6,287.2 447.0,287.7 447.4,287.7 447.8,287.3 448.2,288.2 448.6,288.0 449.0,287.5 449.4,289.3 449.8,289.8 450.2,287.7 450.6,288.6 451.0,289.3 451.4,289.0 451.8,288.5 452.2,290.3 452.6,290.3 453.0,290.2 453.4,289.2 453.8,291.7 454.2,291.5 454.6,289.1 455.0,289.5 455.4,291.0 455.8,288.8 456.2,290.2 456.6,289.8 457.0,289.0 457.4,289.6 457.8,288.1 458.2,289.3 458.6,287.8 459.0,292.4 459.4,291.8 459.8,291.5 460.2,290.5 460.6,291.4 461.0,291.7 461.4,291.5 461.8,291.4 462.2,289.4 462.6,291.0 463.0,290.0 463.4,289.3 463.8,289.4 464.2,291.2 464.6,291.9 465.0,289.3 465.4,292.8 465.8,292.5 466.2,290.6 466.6,290.5 467.0,291.0 467.4,292.2 467.8,290.8 468.2,290.0 468.6,291.7 469.0,289.1 469.4,291.5 469.8,292.7 470.2,291.8 470.6,292.4 471.0,292.1 471.4,292.4 471.8,291.8 472.2,290.8 472.6,291.5 473.0,291.7 473.4,293.2 473.8,293.6 474.2,292.4 474.6,291.2 475.0,291.2 475.4,291.8 475.8,293.6 476.2,292.5 476.6,292.1 477.0,291.4 477.4,293.2 477.8,292.6 478.2,292.2 478.6,292.4 479.0,294.1 479.4,292.2 479.8,294.2 480.2,293.8 480.6,292.6 481.0,293.5 481.4,292.4 481.8,291.7 482.2,292.4 482.6,291.7 483.0,293.2 483.4,292.8 483.8,293.4 484.2,293.7 484.6,290.6 485.0,293.2 485.4,291.0 485.8,293.1 486.2,292.1 486.6,293.1 487.0,294.5 487.4,291.3 487.8,293.3 488.2,293.1 488.6,291.2 489.0,293.9 489.4,293.3 489.8,292.8 490.2,292.6 490.6,295.5 491.0,293.0 491.4,291.6 491.8,292.5 492.2,293.1 492.6,293.1 493.0,293.5 493.4,292.5 493.8,294.2 494.2,293.2 494.6,292.3 495.0,292.9 495.4,293.4 495.8,294.7 496.2,294.3 496.6,293.5 497.0,293.9 497.4,294.1 497.8,296.0 498.2,293.3 498.6,294.5 499.0,294.8 499.4,293.1 499.8,294.3 500.2,294.3 500.6,293.7 501.0,294.8 501.4,295.3 501.8,295.4 502.2,294.1 502.6,294.5 503.0,296.5 503.4,293.3 503.8,294.6 504.2,295.3 504.6,294.6 505.0,295.1 505.4,294.7 505.8,295.3 506.2,295.9 506.6,294.4 507.0,294.8 507.4,294.6 507.8,294.3 508.2,294.7 508.6,293.6 509.0,295.5 509.4,296.5 509.8,296.5 510.2,296.1 510.6,293.9 511.0,296.4 511.4,294.2 511.8,294.9 512.2,296.8 512.6,293.9 513.0,295.9 513.4,295.3 513.8,294.9 514.2,294.2 514.6,295.6 515.0,294.7 515.4,296.2 515.8,296.4 516.2,293.9 516.6,294.8 517.0,295.0 517.4,294.1 517.8,294.2 518.2,295.4 518.6,295.2 519.0,293.8 519.4,294.9 519.8,296.0 520.2,294.3 520.6,294.6 521.0,297.1 521.4,296.8 521.8,294.0 522.2,294.3 522.6,296.0 523.0,294.5 523.4,295.4 523.8,295.2 524.2,296.2 524.6,293.7 525.0,293.7 525.4,294.6 525.8,296.8 526.2,295.7 526.6,294.2 527.0,296.3 527.4,296.6 527.8,295.7 528.2,295.6 528.6,296.4 529.0,297.1 529.4,296.1 529.8,296.5 530.2,296.0 530.6,295.7 531.0,295.2 531.4,296.3 531.8,295.8 532.2,295.9 532.6,297.0 533.0,296.6 533.4,297.0 533.8,294.7 534.2,296.8 534.6,295.7 535.0,295.5 535.4,295.5 535.8,297.5 536.2,297.1 536.6,295.7 537.0,295.3 537.4,296.4 537.8,296.0 538.2,298.0 538.6,295.1 539.0,294.7 539.4,296.3 539.8,296.5 540.2,296.7 540.6,297.3 541.0,298.5 541.4,296.3 541.8,296.1 542.2,295.0 542.6,296.9 543.0,297.5 543.4,296.4 543.8,297.8 544.2,296.8 544.6,298.2 545.0,297.1 545.4,295.8 545.8,296.2 546.2,295.4 546.6,295.2 547.0,297.1 547.4,297.7 547.8,298.7 548.2,296.9 548.6,296.7 549.0,295.9 549.4,297.9 549.8,297.4 550.2,296.4 550.6,297.7 551.0,297.6 551.4,295.3 551.8,297.8 552.2,297.2 552.6,296.8 553.0,296.7 553.4,298.8 553.8,298.6 554.2,298.9 554.6,296.1 555.0,296.6 555.4,298.1 555.8,296.1 556.2,296.6 556.6,295.6 557.0,299.0 557.4,298.3 557.8,297.8 558.2,297.6 558.6,297.0 559.0,297.0 559.4,298.0 559.8,296.8 560.2,298.6 560.6,297.0 561.0,296.7 561.4,298.7 561.8,297.4 562.2,298.0 562.6,297.2 563.0,295.6 563.4,298.1 563.8,296.3 564.2,298.6 564.6,296.2 565.0,295.9 565.4,297.9 565.8,298.1 566.2,297.8 566.6,296.6 567.0,298.5 567.4,296.4 567.8,297.3 568.2,297.0 568.6,297.4 569.0,298.5 569.4,297.1 569.8,298.1 570.2,298.1 570.6,295.5 571.0,295.6 571.4,295.7 571.8,294.6 572.2,294.6 572.6,291.4 573.0,293.3 573.4,292.9 573.8,291.8 574.2,290.9 574.6,293.0 575.0,293.4 575.4,295.5 575.8,295.7 576.2,297.3 576.6,296.8 577.0,298.9 577.4,295.9 577.8,297.1 578.2,298.6 578.6,296.8 579.0,298.9 579.4,297.1 579.8,298.3 580.2,297.4 580.6,297.9 581.0,298.4 581.4,298.2 581.8,298.0 582.2,300.2 582.6,298.4 583.0,297.5 583.4,299.2 583.8,299.1 584.2,299.5 584.6,300.1 585.0,297.6 585.4,299.4 585.8,299.5 586.2,298.5 586.6,298.7 587.0,296.6 587.4,298.0 587.8,300.2 588.2,297.0 588.6,298.1 589.0,298.9 589.4,299.1 589.8,300.1 590.2,297.1 590.6,298.7 591.0,299.5 591.4,297.5 591.8,298.7 592.2,300.4 592.6,299.9 593.0,299.2 593.4,296.9 593.8,298.7 594.2,299.2 594.6,298.6 595.0,298.8 595.4,300.7 595.8,298.7 596.2,298.0 596.6,299.1 597.0,298.6 597.4,298.7 597.8,298.9 598.2,299.7 598.6,299.2 599.0,297.9 599.4,298.9 599.8,299.5 600.2,298.6 600.6,300.1 601.0,299.8 601.4,298.2 601.8,299.4 602.2,300.9 602.6,300.5 603.0,299.1 603.4,300.0 603.8,298.6 604.2,297.9 604.6,299.7 605.0,299.5 605.4,299.7 605.8,299.2 606.2,299.6 606.6,298.8 607.0,299.7 607.4,300.1 607.8,299.3 608.2,300.1 608.6,297.8 609.0,298.7 609.4,300.7 609.8,301.0 610.2,299.7 610.6,299.4 611.0,298.4 611.4,299.8 611.8,300.2 612.2,298.2 612.6,300.0 613.0,300.0 613.4,300.0 613.8,298.6 614.2,300.1 614.6,298.3 615.0,300.9 615.4,299.8 615.8,298.7 616.2,300.9 616.6,300.7 617.0,299.2 617.4,301.6 617.8,298.9 618.2,300.0 618.6,300.8 619.0,298.0 619.4,300.7 619.8,299.8 620.2,299.8 620.6,298.9 621.0,300.2 621.4,298.9 621.8,299.1 622.2,299.6 622.6,298.9 623.0,301.3 623.4,298.8 623.8,299.4 624.2,299.8 624.6,300.0 625.0,300.7 625.4,300.8 625.8,299.8 626.2,299.8 626.6,300.2 627.0,300.9 627.4,300.8 627.8,299.7 628.2,298.4 628.6,302.0 629.0,301.1 629.4,300.5 629.8,300.6 630.2,299.8 630.6,299.5 631.0,300.0 631.4,300.2 631.8,299.8 632.2,299.1 632.6,300.1 633.0,300.9 633.4,300.0 633.8,300.5 634.2,298.7 634.6,300.3 635.0,300.4 635.4,299.5 635.8,299.1 636.2,300.9 636.6,299.9 637.0,301.0 637.4,300.3 637.8,301.2 638.2,300.4 638.6,299.4 639.0,300.6 639.4,300.4 639.8,301.3 640.2,300.4 640.6,300.4 641.0,301.5 641.4,301.8 641.8,301.5 642.2,301.7 642.6,301.3 643.0,301.5 643.4,301.7 643.8,301.3 644.2,301.0 644.6,301.1 645.0,302.8 645.4,301.0 645.8,300.8 646.2,300.8 646.6,301.1 647.0,301.3 647.4,300.2 647.8,299.5 648.2,301.4 648.6,299.9 649.0,301.4 649.4,301.4 649.8,302.2 650.2,302.7 650.6,301.6 651.0,300.9 651.4,300.4 651.8,300.7 652.2,301.4 652.6,299.7 653.0,301.5 653.4,301.5 653.8,302.1 654.2,301.3 654.6,301.7 655.0,301.0 655.4,301.2 655.8,300.2 656.2,301.8 656.6,303.0 657.0,301.9 657.4,302.1 657.8,301.0 658.2,303.0 658.6,301.2 659.0,302.5 659.4,302.0 659.8,301.1 660.2,302.8 660.6,302.0 661.0,302.2 661.4,302.4 661.8,302.1 662.2,301.8 662.6,302.5 663.0,301.8 663.4,302.2 663.8,301.7 664.2,301.1 664.6,301.7 665.0,301.9 665.4,302.4 665.8,303.3 666.2,301.0 666.6,302.5 667.0,300.8 667.4,301.7 667.8,302.1 668.2,300.9 668.6,301.1 669.0,302.7 669.4,302.7 669.8,302.6 670.2,302.1 670.6,304.4 671.0,302.6 671.4,302.1 671.8,304.2 672.2,303.4 672.6,302.6 673.0,303.9 673.4,303.1 673.8,303.5 674.2,303.2 674.6,302.2 675.0,303.8 675.4,303.2 675.8,302.3 676.2,302.6 676.6,303.9 677.0,302.9 677.4,303.3 677.8,303.8 678.2,303.4 678.6,302.2 679.0,303.9 679.4,304.1 679.8,304.1 680.2,304.7 680.6,303.8 681.0,304.1 681.4,304.8 681.8,303.4 682.2,305.0 682.6,305.0 683.0,304.3 683.4,305.1 683.8,304.4 684.2,303.1 684.6,304.7 685.0,304.1 685.4,304.2 685.8,304.0 686.2,304.9 686.6,304.4 687.0,303.4 687.4,304.4 687.8,304.6 688.2,303.5 688.6,303.7 689.0,303.8 689.4,303.7 689.8,304.4 690.2,304.9 690.6,305.6 691.0,305.1 691.4,305.0 691.8,305.1 692.2,305.3 692.6,304.0 693.0,304.9 693.4,304.6 693.8,304.3 694.2,304.1 694.6,304.1 695.0,304.3 695.4,303.6 695.8,304.9 696.2,304.5 696.6,304.6 697.0,304.8 697.4,305.1 697.8,304.2 698.2,304.6 698.6,303.5 699.0,303.1 699.4,303.2 699.8,305.9 700.2,303.4 700.6,305.1 701.0,305.9 701.4,304.4 701.8,306.0 702.2,306.2 702.6,305.5 703.0,306.4 703.4,305.3 703.8,304.3 704.2,305.3 704.6,304.6 705.0,304.0 705.4,304.0 705.8,306.5 706.2,304.6 706.6,305.0 707.0,304.5 707.4,305.1 707.8,304.9 708.2,304.7 708.6,304.2 709.0,304.0 709.4,304.5 709.8,305.3 710.2,306.6 710.6,305.9 711.0,306.5 711.4,305.5 711.8,305.1 712.2,304.2 712.6,305.2 713.0,303.6 713.4,305.0 713.8,306.4 714.2,305.5 714.6,306.1 715.0,305.0 715.4,304.3 715.8,304.9 716.2,305.0 716.6,306.2 717.0,306.7 717.4,304.8 717.8,305.1 718.2,305.2 718.6,305.1 719.0,304.5 719.4,305.4 719.8,305.6 720.2,305.7 720.6,304.5 721.0,305.3 721.4,304.2 721.8,306.1 722.2,304.7 722.6,305.3 723.0,305.1 723.4,305.0 723.8,304.7 724.2,304.2 724.6,306.8 725.0,305.7 725.4,305.7 725.8,307.0 726.2,305.5 726.6,305.9 727.0,305.6 727.4,306.4 727.8,305.9 728.2,305.8 728.6,305.4 729.0,305.8 729.4,306.4 729.8,304.1 730.2,305.5 730.6,305.3 731.0,305.4 731.4,304.2 731.8,306.2 732.2,305.1 732.6,305.5 733.0,305.3 733.4,304.5 733.8,305.4 734.2,304.4 734.6,305.0 735.0,305.5 735.4,305.7 735.8,305.8 736.2,305.7 736.6,307.2 737.0,306.1 737.4,304.9 737.8,305.3 738.2,305.3 738.6,305.7 739.0,305.4 739.4,305.2 739.8,307.0 740.2,305.9 740.6,305.6 741.0,305.7 741.4,305.7 741.8,306.9 742.2,306.2 742.6,306.7 743.0,304.4 743.4,306.1 743.8,306.7 744.2,307.3 744.6,305.9 745.0,304.7 745.4,306.3 745.8,305.5 746.2,304.7 746.6,305.5 747.0,306.7 747.4,306.8 747.8,306.5 748.2,305.2 748.6,307.5 749.0,305.2 749.4,305.9 749.8,305.0 750.2,306.9 750.6,306.3 751.0,306.7 751.4,306.1 751.8,306.0 752.2,306.2 752.6,304.7 753.0,306.8 753.4,306.7 753.8,305.8 754.2,306.1 754.6,306.3 755.0,307.2 755.4,306.4 755.8,306.1 756.2,305.8 756.6,305.1 757.0,305.7 757.4,306.2 757.8,306.0 758.2,306.2 758.6,306.7 759.0,306.5 759.4,306.4 759.8,306.6 760.2,306.3 760.6,306.2 761.0,306.5 761.4,305.0 761.8,307.1 762.2,305.3 762.6,306.8 763.0,306.2 763.4,307.0 763.8,306.3 764.2,305.6 764.6,307.0 765.0,306.4 765.4,306.3 765.8,306.3 766.2,307.0 766.6,306.9 767.0,306.5 767.4,305.2 767.8,306.0 768.2,306.4 768.6,307.6 769.0,306.6 769.4,306.3 769.8,307.2 770.2,306.3 770.6,306.3 771.0,306.5 771.4,305.3 771.8,307.0 772.2,306.7 772.6,306.2 773.0,305.6 773.4,306.5 773.8,307.4 774.2,306.0 774.6,305.7 775.0,306.7 775.4,305.3 775.8,304.9 776.2,306.1 776.6,306.0 777.0,306.3 777.4,306.1 777.8,306.7 778.2,306.3 778.6,306.1 779.0,306.2 779.4,306.9 779.8,307.2 780.2,307.1 780.6,307.0 781.0,305.0 781.4,305.8 781.8,306.3 782.2,306.7 782.6,305.4 783.0,307.5 783.4,306.8 783.8,306.1 784.2,306.7 784.6,306.3 785.0,306.0 785.4,306.9 785.8,306.3 786.2,305.6 786.6,306.2 787.0,306.5 787.4,305.9 787.8,307.5 788.2,305.9 788.6,307.8 789.0,307.3 789.4,306.0 789.8,306.7 790.2,307.5 790.6,306.5 791.0,305.8 791.4,306.7 791.8,308.0 792.2,305.6 792.6,307.0 793.0,306.6 793.4,306.4 793.8,306.1 794.2,305.9 794.6,306.5 795.0,305.8 795.4,304.0 795.8,305.3 796.2,302.4 796.6,303.2 797.0,302.2 797.4,302.6 797.8,301.6 798.2,302.2 798.6,301.6 799.0,302.9 799.4,303.0 799.8,305.0 800.2,303.7 800.6,305.8 801.0,305.8 801.4,306.0 801.8,305.8 802.2,306.8 802.6,305.6 803.0,305.8 803.4,307.3 803.8,305.7 804.2,307.8 804.6,306.7 805.0,307.0 805.4,306.9 805.8,307.2 806.2,306.7 806.6,306.6 807.0,306.8 807.4,307.6 807.8,307.7 808.2,307.8 808.6,307.2 809.0,306.8 809.4,305.8 809.8,307.4 810.2,307.5 810.6,306.7 811.0,307.5 811.4,307.8 811.8,307.0 812.2,307.7 812.6,307.2 813.0,305.8 813.4,306.6 813.8,306.7 814.2,307.3 814.6,306.4 815.0,306.7 815.4,306.3 815.8,307.0 816.2,307.1 816.6,307.7 817.0,307.6 817.4,307.1 817.8,307.2 818.2,307.1 818.6,307.1 819.0,308.1 819.4,305.6 819.8,306.9 820.2,307.3 820.6,307.8 821.0,306.3 821.4,307.3 821.8,307.7 822.2,306.8 822.6,305.8 823.0,306.8 823.4,306.3 823.8,307.5 824.2,306.5 824.6,308.3 825.0,307.2 825.4,306.6 825.8,306.8 826.2,306.4 826.6,307.4 827.0,308.2 827.4,307.0 827.8,307.8 828.2,306.5 828.6,307.4 829.0,308.5 829.4,306.2 829.8,308.0 830.2,308.0 830.6,305.9 831.0,306.2 831.4,306.5 831.8,307.8 832.2,306.9 832.6,307.1 833.0,307.7 833.4,307.3 833.8,307.4 834.2,307.0 834.6,308.0 835.0,306.7 835.4,308.4 835.8,307.0 836.2,306.7 836.6,307.7 837.0,307.5 837.4,305.9 837.8,307.4 838.2,306.3 838.6,306.7 839.0,307.8 839.4,306.7 839.8,307.5 840.2,307.0 840.6,308.6 841.0,307.2 841.4,306.5 841.8,306.5 842.2,306.7 842.6,307.4 843.0,307.3 843.4,307.9 843.8,307.4 844.2,307.4 844.6,307.5 845.0,307.2 845.4,307.5 845.8,307.8 846.2,307.8 846.6,306.9 847.0,306.1 847.4,306.8 847.8,307.5 848.2,305.9 848.6,307.0 849.0,307.6 849.4,307.0 849.8,306.6 850.2,308.5 850.6,308.3 851.0,307.2 851.4,308.2 851.8,308.2 852.2,306.6 852.6,308.7 853.0,306.7 853.4,307.2 853.8,306.6 854.2,307.4 854.6,306.5 855.0,307.4 855.4,308.1 855.8,307.5 856.2,307.2 856.6,308.4 857.0,306.8 857.4,308.1 857.8,307.2 858.2,307.5 858.6,307.4 859.0,307.5 859.4,307.4 859.8,306.9 860.2,307.0 860.6,307.7 861.0,307.3 861.4,306.6 861.8,307.0 862.2,307.0 862.6,307.4 863.0,307.6 863.4,307.5 863.8,307.0 864.2,307.5 864.6,306.5 865.0,306.0 865.4,307.4 865.8,306.3 866.2,306.8 866.6,306.6 867.0,307.9 867.4,306.6 867.8,307.7 868.2,307.1 868.6,306.6 869.0,306.4 869.4,307.8 869.8,307.7 870.2,308.0 870.6,308.7 871.0,307.7 871.4,307.7 871.8,307.4 872.2,307.6 872.6,307.3 873.0,306.9 873.4,308.8 873.8,306.3 874.2,307.7 874.6,307.8 875.0,307.6 875.4,306.9 875.8,307.4 876.2,307.2 876.6,306.8 877.0,307.5 877.4,307.3 877.8,307.2 878.2,308.0 878.6,306.8 879.0,307.8 879.4,307.1 879.8,307.8 880.2,307.6 880.6,307.7 881.0,306.9 881.4,307.0 881.8,307.0 882.2,307.7 882.6,308.1 883.0,308.3 883.4,307.2 883.8,307.6 884.2,306.5 884.6,306.2 885.0,307.0 885.4,307.1 885.8,306.5 886.2,306.4 886.6,307.9 887.0,307.0 887.4,306.5 887.8,309.0 888.2,307.7 888.6,307.4 889.0,308.0 889.4,307.1 889.8,308.7 890.2,306.6 890.6,306.7 891.0,307.5 891.4,307.1 891.8,308.6 892.2,306.5 892.6,307.1 893.0,307.8 893.4,308.0 893.8,308.3 894.2,307.9 894.6,309.0 895.0,307.3 895.4,307.7 895.8,308.2 896.2,307.4 896.6,307.4 897.0,307.3 897.4,307.2 897.8,306.9 898.2,307.3 898.6,306.6 899.0,307.9 899.4,306.6 899.8,309.0 900.2,308.8 900.6,308.4 901.0,307.5 901.4,307.3 901.8,308.5 902.2,307.8 902.6,308.0 903.0,307.2 903.4,308.4 903.8,307.1 904.2,307.8 904.6,306.5 905.0,307.2 905.4,308.0 905.8,307.4 906.2,307.4 906.6,308.2 907.0,307.6 907.4,308.5 907.8,306.3 908.2,308.1 908.6,308.0 909.0,306.7 909.4,306.8 909.8,308.3 910.2,307.0 910.6,307.3 911.0,308.1 911.4,307.5 911.8,308.0 912.2,307.1 912.6,307.9 913.0,308.4 913.4,307.9 913.8,306.4 914.2,308.2 914.6,307.8 915.0,307.1 915.4,308.7 915.8,306.6 916.2,309.0 916.6,307.3 917.0,308.8 917.4,307.7 917.8,306.9 918.2,307.8 918.6,308.0 919.0,308.1 919.4,308.5 919.8,307.2 920.2,308.1 920.6,308.3 921.0,307.6 921.4,307.2 921.8,307.1 922.2,308.3 922.6,308.3 923.0,307.2 923.4,306.9 923.8,308.6 924.2,306.8 924.6,307.9 925.0,307.3 925.4,306.6 925.8,307.9 926.2,307.7 926.6,308.8 927.0,309.2 927.4,307.7 927.8,308.5 928.2,308.5 928.6,307.5 929.0,307.2 929.4,308.9 929.8,307.6 930.2,307.8 930.6,307.6 931.0,307.7 931.4,307.4 931.8,308.3 932.2,308.7 932.6,307.6 933.0,306.9 933.4,307.9 933.8,306.9 934.2,307.4 934.6,308.7 935.0,309.3 935.4,308.1 935.8,307.1 936.2,308.3 936.6,306.4 937.0,307.3 937.4,308.6 937.8,307.9 938.2,306.2 938.6,305.5 939.0,306.6 939.4,305.0 939.8,303.5 940.2,303.1 940.6,301.0 941.0,298.7 941.4,300.1 941.8,298.4 942.2,298.0 942.6,298.2 943.0,300.5 943.4,300.8 943.8,303.2 944.2,303.8 944.6,305.9 945.0,305.7 945.4,306.2 945.8,305.8 946.2,306.7 946.6,308.1 947.0,309.2 947.4,307.0 947.8,307.2 948.2,308.1 948.6,308.2 949.0,307.5 949.4,308.0 949.8,306.9 950.2,307.7 950.6,308.5 951.0,309.0 951.4,307.8 951.8,307.7 952.2,308.2 952.6,308.6 953.0,308.2 953.4,307.4 953.8,308.2 954.2,308.6 954.6,307.5 955.0,307.0 955.4,308.3 955.8,308.2 956.2,308.6 956.6,308.0 957.0,307.5 957.4,307.6 957.8,307.3 958.2,307.3 958.6,307.6 959.0,307.6 959.4,308.7 959.8,307.1 960.2,307.9 960.6,307.6 961.0,308.9 961.4,308.1 961.8,307.7 962.2,308.5 962.6,308.0 963.0,307.6 963.4,309.0 963.8,308.4 964.2,309.1 964.6,308.7 965.0,308.5 965.4,308.0 965.8,307.2 966.2,308.4 966.6,308.0 967.0,308.4 967.4,308.0 967.8,307.5 968.2,307.3 968.6,308.4 969.0,308.8 969.4,307.8" stroke="#89A54E"/>
<path d="M110.2,266.9 110.6,267.7 111.0,266.1 111.4,266.8 111.8,266.4 112.2,268.7 112.6,268.2 113.0,267.8 113.4,267.1 113.8,268.6 114.2,269.8 114.6,269.0 115.0,269.1 115.4,270.2 115.8,268.9 116.2,270.1 116.6,270.7 117.0,269.9 117.4,270.0 117.8,271.1 118.2,271.0 118.6,271.1 119.0,271.6 119.4,271.8 119.8,271.1 120.2,271.5 120.6,272.4 121.0,273.1 121.4,273.4 121.8,271.9 122.2,273.4 122.6,273.2 123.0,272.7 123.4,273.2 123.8,273.5 124.2,274.3 124.6,272.3 125.0,273.6 125.4,273.1 125.8,273.1 126.2,274.2 126.6,274.0 127.0,272.8 127.4,273.3 127.8,273.8 128.2,272.7 128.6,274.3 129.0,273.7 129.4,273.9 129.8,274.1 130.2,275.1 130.6,274.0 131.0,273.7 131.4,275.2 131.8,273.7 132.2,273.7 132.6,273.2 133.0,274.9 133.4,274.4 133.8,274.5 134.2,274.3 134.6,274.2 135.0,273.7 135.4,273.8 135.8,274.6 136.2,274.4 136.6,275.5 137.0,273.9 137.4,274.1 137.8,273.7 138.2,275.3 138.6,273.6 139.0,275.0 139.4,275.4 139.8,274.4 140.2,275.0 140.6,273.1 141.0,274.3 141.4,273.4 141.8,274.7 142.2,274.6 142.6,274.0 143.0,275.2 143.4,274.8 143.8,274.2 144.2,274.2 144.6,273.6 145.0,274.5 145.4,276.0 145.8,274.1 146.2,274.9 146.6,274.2 147.0,275.1 147.4,274.8 147.8,274.4 148.2,273.3 148.6,274.2 149.0,275.3 149.4,274.3 149.8,274.9 150.2,274.1 150.6,273.2 151.0,274.7 151.4,274.6 151.8,274.0 152.2,274.1 152.6,274.5 153.0,273.9 153.4,274.5 153.8,274.1 154.2,272.8 154.6,274.1 155.0,273.7 155.4,273.5 155.8,274.4 156.2,273.7 156.6,274.4 157.0,274.7 157.4,274.1 157.8,272.9 158.2,273.4 158.6,274.5 159.0,273.7 159.4,273.3 159.8,273.7 160.2,274.1 160.6,273.9 161.0,274.2 161.4,273.1 161.8,273.5 162.2,273.4 162.6,273.6 163.0,272.1 163.4,273.3 163.8,272.5 164.2,274.4 164.6,274.5 165.0,274.5 165.4,273.9 165.8,272.9 166.2,273.9 166.6,273.0 167.0,273.6 167.4,272.5 167.8,272.6 168.2,273.3 168.6,274.2 169.0,272.9 169.4,274.4 169.8,274.3 170.2,271.8 170.6,272.7 171.0,272.0 171.4,272.5 171.8,272.1 172.2,272.4 172.6,273.1 173.0,273.0 173.4,272.4 173.8,272.2 174.2,272.2 174.6,272.1 175.0,272.4 175.4,271.9 175.8,272.2 176.2,270.8 176.6,272.2 177.0,272.9 177.4,271.6 177.8,270.3 178.2,272.3 178.6,271.0 179.0,269.5 179.4,270.9 179.8,271.4 180.2,271.1 180.6,271.7 181.0,271.1 181.4,270.7 181.8,268.9 182.2,269.5 182.6,270.4 183.0,270.7 183.4,269.3 183.8,269.5 184.2,270.2 184.6,268.2 185.0,268.1 185.4,269.3 185.8,269.6 186.2,268.9 186.6,267.5 187.0,269.1 187.4,267.8 187.8,269.3 188.2,268.6 188.6,268.8 189.0,268.9 189.4,267.8 189.8,268.8 190.2,269.1 190.6,268.2 191.0,268.9 191.4,267.1 191.8,268.2 192.2,267.5 192.6,266.3 193.0,267.0 193.4,266.4 193.8,266.3 194.2,266.7 194.6,267.4 195.0,266.0 195.4,266.3 195.8,264.7 196.2,266.0 196.6,266.8 197.0,266.3 197.4,265.8 197.8,264.8 198.2,264.2 198.6,264.9 199.0,263.6 199.4,263.5 199.8,265.3 200.2,263.4 200.6,265.8 201.0,262.6 201.4,264.2 201.8,262.5 202.2,263.6 202.6,262.3 203.0,263.2 203.4,262.8 203.8,262.3 204.2,263.1 204.6,263.9 205.0,261.6 205.4,262.9 205.8,261.9 206.2,261.6 206.6,263.6 207.0,259.2 207.4,260.4 207.8,259.1 208.2,260.4 208.6,260.3 209.0,262.5 209.4,260.5 209.8,261.8 210.2,261.1 210.6,259.1 211.0,259.8 211.4,260.9 211.8,259.1 212.2,258.9 212.6,259.0 213.0,256.6 213.4,257.2 213.8,258.2 214.2,258.2 214.6,256.4 215.0,256.8 215.4,256.8 215.8,256.5 216.2,257.3 216.6,256.4 217.0,256.2 217.4,254.1 217.8,254.3 218.2,255.7 218.6,253.2 219.0,255.1 219.4,253.7 219.8,253.3 220.2,254.8 220.6,252.9 221.0,252.4 221.4,252.4 221.8,253.0 222.2,255.2 222.6,249.7 223.0,252.0 223.4,251.4 223.8,252.6 224.2,250.6 224.6,248.1 225.0,252.1 225.4,248.7 225.8,249.7 226.2,247.7 226.6,247.7 227.0,248.2 227.4,249.7 227.8,249.4 228.2,247.2 228.6,248.4 229.0,246.9 229.4,247.3 229.8,247.1 230.2,247.4 230.6,245.4 231.0,245.8 231.4,246.0 231.8,245.6 232.2,244.0 232.6,247.3 233.0,243.9 233.4,245.4 233.8,244.4 234.2,245.6 234.6,240.5 235.0,246.3 235.4,242.7 235.8,240.9 236.2,242.6 236.6,245.4 237.0,242.7 237.4,239.8 237.8,240.7 238.2,243.1 238.6,238.7 239.0,240.3 239.4,239.9 239.8,243.4 240.2,239.4 240.6,241.6 241.0,238.2 241.4,237.8 241.8,240.4 242.2,239.5 242.6,235.5 243.0,239.0 243.4,238.8 243.8,236.5 244.2,237.6 244.6,237.4 245.0,235.9 245.4,235.5 245.8,235.1 246.2,235.5 246.6,233.5 247.0,235.4 247.4,232.7 247.8,235.1 248.2,234.6 248.6,232.7 249.0,235.7 249.4,237.3 249.8,236.0 250.2,231.2 250.6,235.5 251.0,233.5 251.4,232.8 251.8,231.7 252.2,232.5 252.6,234.7 253.0,233.1 253.4,231.2 253.8,230.5 254.2,230.8 254.6,232.4 255.0,234.5 255.4,229.1 255.8,230.8 256.2,230.0 256.6,229.1 257.0,231.0 257.4,231.1 257.8,227.4 258.2,227.9 258.6,231.8 259.0,230.0 259.4,230.2 259.8,228.2 260.2,228.3 260.6,229.6 261.0,227.7 261.4,226.4 261.8,228.3 262.2,229.8 262.6,226.0 263.0,229.7 263.4,228.9 263.8,225.7 264.2,227.2 264.6,226.9 265.0,227.9 265.4,227.7 265.8,223.8 266.2,223.4 266.6,227.6 267.0,225.5 267.4,225.8 267.8,225.2 268.2,227.0 268.6,221.1 269.0,225.0 269.4,220.5 269.8,222.7 270.2,222.9 270.6,215.8 271.0,217.7 271.4,213.9 271.8,210.6 272.2,207.1 272.6,199.4 273.0,193.6 273.4,192.1 273.8,191.3 274.2,191.7 274.6,195.5 275.0,208.9 275.4,211.6 275.8,213.8 276.2,213.7 276.6,216.7 277.0,220.1 277.4,218.9 277.8,225.1 278.2,223.0 278.6,224.2 279.0,222.0 279.4,222.8 279.8,223.6 280.2,226.0 280.6,225.4 281.0,225.7 281.4,227.2 281.8,227.4 282.2,230.0 282.6,227.2 283.0,225.9 283.4,228.0 283.8,231.0 284.2,227.5 284.6,228.8 285.0,228.3 285.4,229.9 285.8,229.8 286.2,228.1 286.6,229.4 287.0,231.7 287.4,232.2 287.8,232.1 288.2,232.1 288.6,230.2 289.0,230.3 289.4,232.7 289.8,229.2 290.2,231.3 290.6,228.2 291.0,230.9 291.4,230.4 291.8,229.6 292.2,232.7 292.6,230.5 293.0,231.1 293.4,231.3 293.8,230.4 294.2,234.1 294.6,230.7 295.0,231.8 295.4,229.0 295.8,230.3 296.2,230.4 296.6,230.3 297.0,229.6 297.4,230.7 297.8,233.1 298.2,230.0 298.6,230.0 299.0,229.6 299.4,234.2 299.8,233.4 300.2,231.7 300.6,232.2 301.0,230.0 301.4,231.3 301.8,232.2 302.2,232.4 302.6,231.0 303.0,231.5 303.4,234.0 303.8,234.0 304.2,230.1 304.6,234.1 305.0,236.3 305.4,233.2 305.8,234.9 306.2,232.2 306.6,236.1 307.0,233.0 307.4,232.9 307.8,234.6 308.2,238.8 308.6,234.3 309.0,233.3 309.4,236.2 309.8,235.9 310.2,238.4 310.6,233.7 311.0,233.3 311.4,235.4 311.8,236.7 312.2,236.7 312.6,238.0 313.0,233.9 313.4,235.1 313.8,236.4 314.2,238.1 314.6,237.6 315.0,236.3 315.4,235.4 315.8,238.6 316.2,238.9 316.6,240.9 317.0,237.4 317.4,240.4 317.8,236.0 318.2,237.3 318.6,237.2 319.0,237.8 319.4,237.3 319.8,238.0 320.2,239.0 320.6,238.6 321.0,240.5 321.4,239.5 321.8,239.9 322.2,242.3 322.6,240.8 323.0,240.7 323.4,240.6 323.8,241.0 324.2,241.9 324.6,240.1 325.0,243.2 325.4,244.0 325.8,243.5 326.2,241.3 326.6,239.8 327.0,241.7 327.4,242.7 327.8,243.9 328.2,242.5 328.6,242.5 329.0,245.3 329.4,242.2 329.8,244.9 330.2,244.8 330.6,241.7 331.0,244.1 331.4,243.0 331.8,242.6 332.2,241.4 332.6,241.9 333.0,244.9 333.4,243.8 333.8,244.9 334.2,243.1 334.6,244.3 335.0,244.4 335.4,242.8 335.8,242.7 336.2,245.8 336.6,245.5 337.0,244.1 337.4,245.4 337.8,246.5 338.2,248.3 338.6,244.6 339.0,246.8 339.4,249.0 339.8,246.3 340.2,248.4 340.6,243.6 341.0,248.6 341.4,246.8 341.8,244.4 342.2,248.2 342.6,248.7 343.0,249.1 343.4,249.2 343.8,247.7 344.2,247.0 344.6,247.5 345.0,248.3 345.4,249.0 345.8,248.0 346.2,248.9 346.6,250.1 347.0,249.6 347.4,252.2 347.8,252.3 348.2,248.2 348.6,249.1 349.0,248.3 349.4,248.7 349.8,251.0 350.2,249.2 350.6,249.3 351.0,250.5 351.4,252.0 351.8,250.7 352.2,250.9 352.6,252.6 353.0,252.3 353.4,252.4 353.8,253.2 354.2,250.9 354.6,252.6 355.0,251.8 355.4,254.0 355.8,253.9 356.2,251.8 356.6,254.8 357.0,252.0 357.4,255.0 357.8,254.0 358.2,252.9 358.6,252.8 359.0,253.9 359.4,254.4 359.8,253.8 360.2,255.4 360.6,253.3 361.0,255.1 361.4,255.3 361.8,253.3 362.2,255.9 362.6,254.3 363.0,253.5 363.4,255.3 363.8,255.9 364.2,257.3 364.6,255.9 365.0,258.2 365.4,258.3 365.8,258.0 366.2,258.4 366.6,257.4 367.0,256.5 367.4,258.0 367.8,258.4 368.2,257.7 368.6,257.3 369.0,255.9 369.4,258.4 369.8,258.2 370.2,256.4 370.6,258.0 371.0,258.8 371.4,257.9 371.8,258.9 372.2,259.0 372.6,256.6 373.0,257.9 373.4,258.8 373.8,259.3 374.2,259.9 374.6,256.3 375.0,258.4 375.4,259.2 375.8,259.8 376.2,260.3 376.6,257.4 377.0,258.0 377.4,257.2 377.8,259.1 378.2,256.6 378.6,259.1 379.0,258.6 379.4,257.7 379.8,254.1 380.2,254.8 380.6,255.3 381.0,251.0 381.4,250.5 381.8,249.3 382.2,250.7 382.6,251.3 383.0,253.3 383.4,254.2 383.8,256.0 384.2,256.8 384.6,258.5 385.0,258.0 385.4,259.7 385.8,257.1 386.2,260.4 386.6,259.2 387.0,260.7 387.4,259.7 387.8,260.6 388.2,261.4 388.6,259.4 389.0,260.1 389.4,259.9 389.8,260.3 390.2,258.5 390.6,260.0 391.0,260.0 391.4,259.5 391.8,260.1 392.2,258.8 392.6,261.8 393.0,260.9 393.4,262.4 393.8,259.6 394.2,259.3 394.6,260.8 395.0,258.9 395.4,260.8 395.8,259.9 396.2,260.3 396.6,260.9 397.0,260.7 397.4,262.6 397.8,261.4 398.2,259.4 398.6,261.8 399.0,259.4 399.4,260.9 399.8,259.5 400.2,260.0 400.6,262.2 401.0,260.3 401.4,260.2 401.8,260.3 402.2,260.6 402.6,262.4 403.0,259.7 403.4,259.6 403.8,261.5 404.2,259.3 404.6,260.5 405.0,262.1 405.4,260.9 405.8,260.4 406.2,260.2 406.6,260.0 407.0,260.3 407.4,261.1 407.8,262.2 408.2,261.9 408.6,260.3 409.0,260.2 409.4,261.6 409.8,259.1 410.2,260.5 410.6,260.6 411.0,259.8 411.4,259.9 411.8,261.2 412.2,259.2 412.6,259.9 413.0,260.2 413.4,260.9 413.8,259.5 414.2,261.9 414.6,260.5 415.0,260.6 415.4,260.5 415.8,260.1 416.2,259.8 416.6,262.0 417.0,261.0 417.4,260.7 417.8,261.8 418.2,260.0 418.6,261.4 419.0,260.8 419.4,259.8 419.8,261.5 420.2,259.2 420.6,261.4 421.0,259.8 421.4,261.1 421.8,262.1 422.2,261.3 422.6,260.1 423.0,260.6 423.4,260.3 423.8,259.5 424.2,259.5 424.6,260.7 425.0,261.2 425.4,258.8 425.8,260.6 426.2,261.1 426.6,260.7 427.0,259.6 427.4,261.6 427.8,259.4 428.2,261.2 428.6,262.2 429.0,258.5 429.4,260.8 429.8,260.9 430.2,260.8 430.6,259.8 431.0,260.2 431.4,259.1 431.8,260.7 432.2,261.1 432.6,259.8 433.0,259.6 433.4,260.0 433.8,260.5 434.2,260.6 434.6,260.4 435.0,260.6 435.4,259.2 435.8,258.4 436.2,261.1 436.6,261.9 437.0,259.1 437.4,259.8 437.8,260.8 438.2,261.5 438.6,261.2 439.0,261.8 439.4,260.4 439.8,260.9 440.2,260.9 440.6,260.1 441.0,261.7 441.4,261.1 441.8,261.5 442.2,260.1 442.6,261.6 443.0,259.5 443.4,260.9 443.8,258.5 444.2,259.5 444.6,261.3 445.0,260.1 445.4,260.8 445.8,259.0 446.2,262.2 446.6,261.2 447.0,260.6 447.4,261.1 447.8,261.0 448.2,262.1 448.6,260.9 449.0,259.2 449.4,260.4 449.8,262.0 450.2,261.3 450.6,260.3 451.0,261.4 451.4,260.9 451.8,261.4 452.2,259.2 452.6,259.9 453.0,261.5 453.4,260.6 453.8,261.2 454.2,262.8 454.6,260.6 455.0,261.1 455.4,260.4 455.8,260.3 456.2,260.9 456.6,259.5 457.0,258.9 457.4,262.4 457.8,260.9 458.2,262.2 458.6,261.2 459.0,261.2 459.4,261.8 459.8,261.8 460.2,259.9 460.6,262.4 461.0,260.2 461.4,261.4 461.8,263.4 462.2,261.3 462.6,262.9 463.0,260.9 463.4,261.9 463.8,261.3 464.2,261.7 464.6,260.5 465.0,260.4 465.4,261.7 465.8,259.8 466.2,260.6 466.6,262.1 467.0,260.8 467.4,260.6 467.8,260.4 468.2,261.6 468.6,261.2 469.0,261.7 469.4,261.4 469.8,263.4 470.2,261.2 470.6,259.7 471.0,261.7 471.4,261.6 471.8,261.8 472.2,260.1 472.6,262.8 473.0,261.7 473.4,261.7 473.8,260.2 474.2,262.2 474.6,261.7 475.0,263.1 475.4,261.4 475.8,260.6 476.2,262.0 476.6,261.0 477.0,262.3 477.4,260.8 477.8,261.8 478.2,261.7 478.6,261.9 479.0,261.5 479.4,261.2 479.8,261.9 480.2,261.5 480.6,262.2 481.0,261.8 481.4,260.1 481.8,262.0 482.2,263.4 482.6,262.4 483.0,262.7 483.4,262.6 483.8,261.7 484.2,260.9 484.6,263.0 485.0,263.2 485.4,262.8 485.8,262.7 486.2,262.7 486.6,262.3 487.0,262.6 487.4,262.4 487.8,262.7 488.2,261.5 488.6,261.8 489.0,263.0 489.4,262.1 489.8,260.5 490.2,262.6 490.6,260.5 491.0,264.3 491.4,263.2 491.8,263.2 492.2,261.9 492.6,261.5 493.0,262.4 493.4,262.6 493.8,261.9 494.2,262.8 494.6,263.3 495.0,263.3 495.4,261.7 495.8,260.8 496.2,262.8 496.6,262.2 497.0,263.2 497.4,264.4 497.8,264.4 498.2,263.1 498.6,263.9 499.0,264.4 499.4,263.0 499.8,263.2 500.2,263.8 500.6,262.9 501.0,262.5 501.4,262.3 501.8,263.0 502.2,262.5 502.6,263.8 503.0,262.8 503.4,264.5 503.8,264.3 504.2,262.0 504.6,264.2 505.0,262.8 505.4,264.5 505.8,263.7 506.2,263.2 506.6,263.9 507.0,262.8 507.4,263.6 507.8,263.7 508.2,263.2 508.6,263.7 509.0,262.5 509.4,263.9 509.8,262.3 510.2,264.0 510.6,263.9 511.0,264.1 511.4,263.0 511.8,265.6 512.2,263.3 512.6,263.7 513.0,262.9 513.4,264.9 513.8,263.2 514.2,264.5 514.6,262.8 515.0,263.9 515.4,263.3 515.8,264.5 516.2,263.4 516.6,262.9 517.0,264.1 517.4,262.7 517.8,262.9 518.2,264.5 518.6,262.1 519.0,264.5 519.4,263.5 519.8,263.0 520.2,264.1 520.6,264.4 521.0,263.4 521.4,263.7 521.8,264.6 522.2,264.6 522.6,263.9 523.0,263.3 523.4,263.1 523.8,263.5 524.2,264.6 524.6,264.5 525.0,264.3 525.4,265.3 525.8,263.8 526.2,263.7 526.6,263.8 527.0,265.8 527.4,262.3 527.8,264.4 528.2,264.6 528.6,264.2 529.0,266.2 529.4,265.2 529.8,264.9 530.2,263.4 530.6,264.7 531.0,263.9 531.4,264.3 531.8,264.5 532.2,263.9 532.6,264.9 533.0,265.8 533.4,265.3 533.8,264.6 534.2,262.7 534.6,265.4 535.0,265.4 535.4,264.3 535.8,264.0 536.2,265.0 536.6,263.8 537.0,265.2 537.4,263.6 537.8,263.7 538.2,264.6 538.6,263.3 539.0,264.6 539.4,265.1 539.8,263.4 540.2,265.4 540.6,264.1 541.0,265.1 541.4,264.8 541.8,264.3 542.2,264.2 542.6,263.2 543.0,264.1 543.4,264.1 543.8,266.2 544.2,265.7 544.6,263.6 545.0,265.5 545.4,265.0 545.8,264.5 546.2,265.2 546.6,265.5 547.0,264.4 547.4,264.7 547.8,265.0 548.2,264.1 548.6,265.1 549.0,264.9 549.4,264.4 549.8,264.3 550.2,265.3 550.6,265.8 551.0,265.3 551.4,264.3 551.8,265.7 552.2,265.2 552.6,265.6 553.0,266.1 553.4,264.4 553.8,265.0 554.2,264.6 554.6,264.4 555.0,266.9 555.4,266.0 555.8,263.7 556.2,265.6 556.6,264.8 557.0,266.3 557.4,265.4 557.8,265.2 558.2,265.4 558.6,265.7 559.0,265.4 559.4,265.2 559.8,265.3 560.2,265.8 560.6,264.5 561.0,265.4 561.4,265.3 561.8,265.1 562.2,266.1 562.6,264.4 563.0,265.2 563.4,264.8 563.8,266.0 564.2,265.2 564.6,265.6 565.0,265.9 565.4,264.3 565.8,266.0 566.2,265.0 566.6,265.5 567.0,265.6 567.4,266.4 567.8,266.3 568.2,267.2 568.6,265.9 569.0,265.3 569.4,265.3 569.8,266.2 570.2,266.9 570.6,265.8 571.0,264.9 571.4,265.5 571.8,265.3 572.2,264.9 572.6,264.1 573.0,262.7 573.4,264.1 573.8,265.4 574.2,264.7 574.6,262.7 575.0,264.7 575.4,263.3 575.8,266.8 576.2,265.4 576.6,264.5 577.0,266.3 577.4,265.1 577.8,266.4 578.2,266.1 578.6,265.1 579.0,266.7 579.4,265.1 579.8,267.4 580.2,266.3 580.6,265.5 581.0,264.8 581.4,267.7 581.8,267.6 582.2,265.4 582.6,267.8 583.0,266.6 583.4,266.3 583.8,266.4 584.2,266.3 584.6,267.7 585.0,266.7 585.4,265.1 585.8,268.3 586.2,267.3 586.6,265.7 587.0,266.4 587.4,265.9 587.8,266.7 588.2,267.0 588.6,266.9 589.0,266.3 589.4,266.1 589.8,267.5 590.2,266.7 590.6,268.7 591.0,266.2 591.4,267.5 591.8,267.0 592.2,266.3 592.6,268.1 593.0,267.1 593.4,266.3 593.8,266.8 594.2,267.9 594.6,266.1 595.0,268.2 595.4,267.7 595.8,266.9 596.2,268.3 596.6,268.6 597.0,267.7 597.4,267.4 597.8,268.8 598.2,268.5 598.6,266.6 599.0,267.2 599.4,267.2 599.8,267.0 600.2,266.2 600.6,268.2 601.0,267.5 601.4,267.6 601.8,268.6 602.2,267.1 602.6,267.5 603.0,267.8 603.4,267.2 603.8,267.5 604.2,268.3 604.6,267.7 605.0,268.8 605.4,267.1 605.8,267.9 606.2,266.6 606.6,267.7 607.0,267.2 607.4,268.9 607.8,268.4 608.2,268.3 608.6,269.4 609.0,269.1 609.4,268.5 609.8,267.4 610.2,266.8 610.6,268.0 611.0,267.8 611.4,267.6 611.8,267.9 612.2,266.8 612.6,269.3 613.0,267.3 613.4,267.7 613.8,268.7 614.2,266.9 614.6,269.0 615.0,269.0 615.4,268.1 615.8,267.5 616.2,268.0 616.6,266.9 617.0,269.5 617.4,268.5 617.8,267.9 618.2,267.8 618.6,268.9 619.0,269.7 619.4,267.5 619.8,268.1 620.2,267.2 620.6,269.1 621.0,268.8 621.4,270.4 621.8,268.6 622.2,268.4 622.6,268.2 623.0,269.4 623.4,267.5 623.8,269.4 624.2,269.0 624.6,268.5 625.0,268.2 625.4,269.7 625.8,270.4 626.2,268.6 626.6,269.4 627.0,270.4 627.4,268.5 627.8,268.8 628.2,268.1 628.6,269.0 629.0,269.0 629.4,268.8 629.8,268.6 630.2,268.0 630.6,268.2 631.0,268.5 631.4,269.7 631.8,268.9 632.2,268.6 632.6,269.8 633.0,269.8 633.4,268.8 633.8,268.9 634.2,269.9 634.6,269.7 635.0,268.8 635.4,269.7 635.8,269.5 636.2,270.4 636.6,268.9 637.0,270.2 637.4,269.9 637.8,268.8 638.2,270.4 638.6,270.4 639.0,268.7 639.4,271.2 639.8,268.8 640.2,269.0 640.6,269.5 641.0,270.4 641.4,270.3 641.8,269.8 642.2,270.9 642.6,270.2 643.0,271.0 643.4,271.6 643.8,270.1 644.2,268.3 644.6,269.6 645.0,269.2 645.4,270.1 645.8,270.1 646.2,269.1 646.6,269.2 647.0,269.9 647.4,270.0 647.8,268.5 648.2,270.9 648.6,270.2 649.0,270.2 649.4,270.5 649.8,269.5 650.2,270.2 650.6,271.1 651.0,271.1 651.4,270.7 651.8,270.1 652.2,269.8 652.6,271.4 653.0,270.8 653.4,270.1 653.8,268.8 654.2,269.8 654.6,269.0 655.0,271.5 655.4,270.7 655.8,270.0 656.2,270.4 656.6,272.3 657.0,271.6 657.4,269.6 657.8,270.6 658.2,269.8 658.6,269.4 659.0,270.9 659.4,272.4 659.8,272.0 660.2,270.9 660.6,270.6 661.0,271.0 661.4,271.7 661.8,269.8 662.2,269.5 662.6,272.4 663.0,271.2 663.4,272.2 663.8,271.2 664.2,272.2 664.6,270.6 665.0,271.5 665.4,272.3 665.8,271.9 666.2,270.8 666.6,271.8 667.0,270.7 667.4,270.1 667.8,271.6 668.2,272.3 668.6,271.9 669.0,270.4 669.4,272.0 669.8,271.9 670.2,271.0 670.6,269.8 671.0,272.2 671.4,272.1 671.8,271.8 672.2,270.2 672.6,270.4 673.0,272.3 673.4,272.1 673.8,271.9 674.2,271.4 674.6,271.9 675.0,271.2 675.4,271.4 675.8,271.0 676.2,271.9 676.6,271.4 677.0,272.4 677.4,272.3 677.8,271.2 678.2,273.2 678.6,271.0 679.0,272.2 679.4,272.7 679.8,272.8 680.2,270.3 680.6,272.7 681.0,272.8 681.4,273.0 681.8,270.4 682.2,271.5 682.6,271.9 683.0,271.7 683.4,273.0 683.8,271.6 684.2,273.0 684.6,272.5 685.0,271.1 685.4,271.4 685.8,271.8 686.2,272.3 686.6,272.9 687.0,272.1 687.4,272.9 687.8,271.1 688.2,270.7 688.6,272.1 689.0,272.7 689.4,272.1 689.8,271.6 690.2,272.7 690.6,273.8 691.0,272.3 691.4,271.9 691.8,271.8 692.2,273.9 692.6,272.4 693.0,272.9 693.4,273.4 693.8,273.3 694.2,271.9 694.6,273.3 695.0,273.2 695.4,273.0 695.8,273.3 696.2,272.2 696.6,272.6 697.0,272.3 697.4,273.2 697.8,272.2 698.2,273.0 698.6,271.9 699.0,272.6 699.4,272.5 699.8,272.7 700.2,272.9 700.6,272.7 701.0,272.6 701.4,271.3 701.8,273.6 702.2,272.4 702.6,272.7 703.0,272.3 703.4,273.6 703.8,272.2 704.2,273.3 704.6,273.8 705.0,274.1 705.4,273.8 705.8,273.4 706.2,272.1 706.6,273.9 707.0,273.9 707.4,273.6 707.8,273.6 708.2,273.1 708.6,272.7 709.0,273.8 709.4,274.0 709.8,272.3 710.2,273.7 710.6,273.3 711.0,273.8 711.4,273.3 711.8,273.9 712.2,273.9 712.6,273.8 713.0,272.2 713.4,273.8 713.8,273.2 714.2,272.4 714.6,273.7 715.0,272.3 715.4,273.9 715.8,274.5 716.2,272.9 716.6,273.9 717.0,273.6 717.4,273.8 717.8,272.4 718.2,273.8 718.6,273.4 719.0,273.9 719.4,273.4 719.8,274.1 720.2,273.6 720.6,273.9 721.0,274.4 721.4,273.5 721.8,274.1 722.2,273.6 722.6,273.8 723.0,273.1 723.4,274.0 723.8,274.3 724.2,273.4 724.6,274.0 725.0,273.8 725.4,272.7 725.8,273.8 726.2,274.4 726.6,273.2 727.0,272.3 727.4,273.7 727.8,273.1 728.2,274.9 728.6,273.6 729.0,273.6 729.4,273.2 729.8,273.8 730.2,273.2 730.6,273.0 731.0,273.6 731.4,273.1 731.8,274.6 732.2,272.9 732.6,273.6 733.0,273.2 733.4,272.7 733.8,274.9 734.2,272.3 734.6,274.7 735.0,272.8 735.4,273.8 735.8,275.2 736.2,272.3 736.6,272.8 737.0,274.7 737.4,273.9 737.8,273.4 738.2,273.8 738.6,273.1 739.0,273.9 739.4,274.8 739.8,273.6 740.2,273.9 740.6,274.7 741.0,275.2 741.4,273.5 741.8,274.1 742.2,273.5 742.6,273.4 743.0,273.6 743.4,273.5 743.8,272.7 744.2,272.6 744.6,273.4 745.0,274.0 745.4,274.8 745.8,273.6 746.2,273.8 746.6,274.4 747.0,274.5 747.4,273.9 747.8,273.9 748.2,275.3 748.6,273.8 749.0,273.7 749.4,272.9 749.8,274.3 750.2,273.8 750.6,275.3 751.0,273.8 751.4,274.6 751.8,274.7 752.2,275.2 752.6,273.2 753.0,275.1 753.4,274.1 753.8,274.0 754.2,273.9 754.6,273.8 755.0,273.9 755.4,272.6 755.8,274.5 756.2,274.2 756.6,273.5 757.0,274.1 757.4,275.6 757.8,274.4 758.2,273.9 758.6,275.3 759.0,273.6 759.4,274.1 759.8,273.8 760.2,274.0 760.6,274.7 761.0,274.6 761.4,273.7 761.8,274.1 762.2,274.3 762.6,273.9 763.0,274.2 763.4,273.8 763.8,273.7 764.2,274.3 764.6,273.6 765.0,274.5 765.4,274.1 765.8,273.6 766.2,273.9 766.6,274.0 767.0,274.2 767.4,274.4 767.8,274.2 768.2,273.7 768.6,275.3 769.0,274.9 769.4,274.4 769.8,275.0 770.2,274.5 770.6,274.2 771.0,274.4 771.4,275.8 771.8,275.0 772.2,275.0 772.6,274.1 773.0,274.8 773.4,275.8 773.8,274.7 774.2,275.1 774.6,275.2 775.0,274.8 775.4,275.4 775.8,274.5 776.2,274.7 776.6,274.0 777.0,275.8 777.4,274.6 777.8,274.5 778.2,275.3 778.6,274.1 779.0,274.4 779.4,273.9 779.8,274.5 780.2,274.2 780.6,274.8 781.0,274.4 781.4,274.1 781.8,274.3 782.2,274.4 782.6,274.1 783.0,275.1 783.4,274.9 783.8,274.6 784.2,273.7 784.6,274.8 785.0,273.7 785.4,274.6 785.8,274.5 786.2,274.1 786.6,274.0 787.0,274.1 787.4,275.9 787.8,274.4 788.2,274.4 788.6,275.2 789.0,274.8 789.4,275.2 789.8,273.7 790.2,273.8 790.6,276.0 791.0,274.5 791.4,274.4 791.8,274.7 792.2,275.2 792.6,273.7 793.0,274.7 793.4,274.4 793.8,274.7 794.2,274.2 794.6,273.4 795.0,272.8 795.4,271.3 795.8,272.9 796.2,270.5 796.6,270.6 797.0,271.6 797.4,269.6 797.8,270.1 798.2,269.5 798.6,270.5 799.0,270.4 799.4,270.6 799.8,272.6 800.2,272.1 800.6,272.0 801.0,273.2 801.4,274.2 801.8,273.4 802.2,274.9 802.6,275.0 803.0,276.0 803.4,274.2 803.8,275.1 804.2,273.6 804.6,274.4 805.0,274.8 805.4,275.0 805.8,274.7 806.2,274.7 806.6,274.3 807.0,274.4 807.4,274.9 807.8,275.1 808.2,275.1 808.6,275.4 809.0,275.5 809.4,273.6 809.8,274.4 810.2,274.6 810.6,274.3 811.0,275.4 811.4,275.2 811.8,274.7 812.2,274.8 812.6,275.6 813.0,274.6 813.4,274.6 813.8,275.4 814.2,275.1 814.6,275.7 815.0,275.0 815.4,275.3 815.8,274.4 816.2,274.2 816.6,274.8 817.0,273.4 817.4,275.1 817.8,275.4 818.2,274.9 818.6,274.7 819.0,275.5 819.4,274.8 819.8,275.5 820.2,276.2 820.6,275.3 821.0,275.4 821.4,275.2 821.8,275.0 822.2,275.0 822.6,274.9 823.0,275.6 823.4,273.8 823.8,274.7 824.2,275.3 824.6,274.3 825.0,274.8 825.4,274.4 825.8,275.2 826.2,275.4 826.6,275.8 827.0,275.2 827.4,274.4 827.8,275.1 828.2,275.3 828.6,275.8 829.0,273.5 829.4,275.1 829.8,273.7 830.2,275.4 830.6,275.2 831.0,275.2 831.4,275.5 831.8,275.2 832.2,274.5 832.6,275.2 833.0,275.7 833.4,274.9 833.8,275.0 834.2,274.2 834.6,275.7 835.0,274.6 835.4,274.5 835.8,274.7 836.2,274.4 836.6,274.8 837.0,275.8 837.4,275.5 837.8,275.9 838.2,275.9 838.6,274.4 839.0,275.3 839.4,275.9 839.8,276.4 840.2,274.1 840.6,274.1 841.0,275.3 841.4,274.8 841.8,274.3 842.2,275.2 842.6,274.5 843.0,273.6 843.4,275.0 843.8,275.1 844.2,275.4 844.6,275.6 845.0,275.1 845.4,274.8 845.8,274.6 846.2,273.9 846.6,274.7 847.0,275.6 847.4,275.4 847.8,276.3 848.2,274.9 848.6,273.9 849.0,275.5 849.4,275.7 849.8,274.3 850.2,274.0 850.6,275.1 851.0,275.5 851.4,274.3 851.8,274.8 852.2,274.5 852.6,274.3 853.0,274.2 853.4,275.1 853.8,274.8 854.2,274.6 854.6,273.6 855.0,276.1 855.4,274.4 855.8,274.9 856.2,274.3 856.6,275.3 857.0,274.1 857.4,275.1 857.8,274.9 858.2,275.6 858.6,274.3 859.0,274.6 859.4,274.9 859.8,276.4 860.2,274.1 860.6,275.2 861.0,274.6 861.4,275.3 861.8,275.5 862.2,275.1 862.6,275.2 863.0,275.2 863.4,274.7 863.8,274.9 864.2,274.0 864.6,274.8 865.0,274.6 865.4,274.9 865.8,275.5 866.2,275.3 866.6,275.4 867.0,275.8 867.4,273.7 867.8,275.3 868.2,275.1 868.6,275.0 869.0,274.2 869.4,275.4 869.8,275.8 870.2,275.7 870.6,275.0 871.0,275.5 871.4,275.7 871.8,276.2 872.2,275.9 872.6,275.2 873.0,275.2 873.4,275.2 873.8,275.2 874.2,274.8 874.6,275.6 875.0,274.7 875.4,274.6 875.8,275.3 876.2,274.7 876.6,275.0 877.0,273.8 877.4,275.6 877.8,275.1 878.2,275.0 878.6,275.4 879.0,275.2 879.4,274.7 879.8,276.4 880.2,274.8 880.6,275.7 881.0,276.3 881.4,274.7 881.8,275.2 882.2,274.6 882.6,275.8 883.0,274.9 883.4,274.4 883.8,276.0 884.2,275.7 884.6,274.6 885.0,275.9 885.4,275.3 885.8,276.5 886.2,276.2 886.6,274.8 887.0,275.0 887.4,274.6 887.8,275.2 888.2,275.2 888.6,275.6 889.0,275.2 889.4,274.2 889.8,274.6 890.2,276.0 890.6,275.9 891.0,275.1 891.4,275.1 891.8,275.1 892.2,275.2 892.6,274.1 893.0,275.7 893.4,274.7 893.8,275.3 894.2,273.8 894.6,275.3 895.0,276.0 895.4,273.8 895.8,276.1 896.2,275.5 896.6,274.7 897.0,274.2 897.4,275.9 897.8,275.3 898.2,275.6 898.6,275.0 899.0,274.7 899.4,275.7 899.8,274.6 900.2,275.8 900.6,274.1 901.0,274.6 901.4,274.3 901.8,276.0 902.2,274.1 902.6,274.5 903.0,275.6 903.4,275.3 903.8,276.6 904.2,276.4 904.6,275.6 905.0,275.6 905.4,274.0 905.8,274.6 906.2,275.0 906.6,275.1 907.0,274.3 907.4,274.6 907.8,274.7 908.2,275.9 908.6,275.5 909.0,275.0 909.4,275.0 909.8,275.4 910.2,274.8 910.6,275.0 911.0,274.1 911.4,275.6 911.8,275.8 912.2,275.4 912.6,275.5 913.0,275.5 913.4,276.5 913.8,275.4 914.2,274.4 914.6,274.6 915.0,275.7 915.4,275.9 915.8,275.7 916.2,275.8 916.6,275.3 917.0,274.3 917.4,274.8 917.8,274.1 918.2,275.0 918.6,274.4 919.0,275.3 919.4,275.1 919.8,274.0 920.2,275.7 920.6,275.7 921.0,274.4 921.4,275.3 921.8,275.7 922.2,275.1 922.6,275.8 923.0,275.4 923.4,275.9 923.8,275.4 924.2,275.1 924.6,275.6 925.0,275.7 925.4,275.4 925.8,275.0 926.2,274.7 926.6,275.0 927.0,274.9 927.4,275.4 927.8,275.4 928.2,275.2 928.6,275.2 929.0,275.4 929.4,276.2 929.8,276.0 930.2,274.9 930.6,275.5 931.0,275.0 931.4,275.2 931.8,275.1 932.2,274.9 932.6,274.4 933.0,273.9 933.4,275.4 933.8,276.0 934.2,274.7 934.6,275.6 935.0,275.0 935.4,275.4 935.8,274.7 936.2,275.1 936.6,275.1 937.0,273.8 937.4,275.2 937.8,274.9 938.2,273.4 938.6,274.9 939.0,274.2 939.4,273.9 939.8,273.5 940.2,272.4 940.6,271.3 941.0,271.2 941.4,270.6 941.8,272.2 942.2,271.7 942.6,269.9 943.0,270.1 943.4,271.0 943.8,271.6 944.2,271.3 944.6,271.7 945.0,274.3 945.4,274.2 945.8,272.9 946.2,273.2 946.6,274.1 947.0,275.0 947.4,275.4 947.8,274.9 948.2,274.1 948.6,275.4 949.0,275.6 949.4,275.3 949.8,274.9 950.2,275.6 950.6,275.2 951.0,274.6 951.4,275.3 951.8,274.4 952.2,275.9 952.6,275.6 953.0,274.6 953.4,275.4 953.8,276.1 954.2,273.9 954.6,275.2 955.0,276.3 955.4,274.3 955.8,275.2 956.2,274.4 956.6,275.2 957.0,273.9 957.4,274.2 957.8,274.9 958.2,275.4 958.6,275.5 959.0,275.6 959.4,276.0 959.8,275.7 960.2,275.8 960.6,274.6 961.0,275.2 961.4,276.7 961.8,276.7 962.2,275.8 962.6,275.8 963.0,275.9 963.4,275.0 963.8,276.5 964.2,275.0 964.6,275.2 965.0,276.7 965.4,273.9 965.8,275.5 966.2,274.2 966.6,274.9 967.0,275.2 967.4,275.1 967.8,275.4 968.2,274.8 968.6,275.2 969.0,274.5 969.4,275.0" stroke="#71588F"/>
<path d="M110.2,226.9 110.6,229.0 111.0,227.7 111.4,229.6 111.8,229.0 112.2,229.4 112.6,230.8 113.0,230.2 113.4,228.9 113.8,231.0 114.2,229.2 114.6,231.3 115.0,231.0 115.4,230.4 115.8,231.7 116.2,231.6 116.6,233.5 117.0,231.8 117.4,233.7 117.8,233.5 118.2,232.1 118.6,232.1 119.0,233.8 119.4,232.8 119.8,233.2 120.2,233.0 120.6,232.4 121.0,233.1 121.4,232.7 121.8,232.4 122.2,233.4 122.6,235.0 123.0,234.9 123.4,233.8 123.8,234.0 124.2,234.3 124.6,235.0 125.0,234.4 125.4,233.9 125.8,234.0 126.2,235.1 126.6,235.9 127.0,234.0 127.4,233.1 127.8,235.2 128.2,234.6 128.6,234.8 129.0,235.6 129.4,234.9 129.8,234.0 130.2,233.6 130.6,235.0 131.0,234.2 131.4,235.3 131.8,234.3 132.2,234.9 132.6,234.2 133.0,235.0 133.4,235.0 133.8,235.7 134.2,236.2 134.6,235.2 135.0,234.8 135.4,236.7 135.8,235.6 136.2,235.8 136.6,235.8 137.0,236.4 137.4,236.1 137.8,235.9 138.2,236.0 138.6,234.9 139.0,235.1 139.4,235.5 139.8,235.6 140.2,235.6 140.6,235.8 141.0,235.6 141.4,235.3 141.8,234.5 142.2,236.2 142.6,236.0 143.0,235.1 143.4,236.0 143.8,235.9 144.2,235.7 144.6,234.4 145.0,234.9 145.4,235.3 145.8,236.7 146.2,235.1 146.6,235.4 147.0,234.9 147.4,235.3 147.8,235.9 148.2,234.2 148.6,234.2 149.0,236.1 149.4,235.6 149.8,235.2 150.2,236.2 150.6,236.2 151.0,234.2 151.4,235.4 151.8,236.3 152.2,235.1 152.6,235.3 153.0,236.1 153.4,235.3 153.8,234.7 154.2,235.0 154.6,234.5 155.0,235.8 155.4,234.2 155.8,236.0 156.2,234.2 156.6,235.4 157.0,234.3 157.4,235.1 157.8,236.0 158.2,236.0 158.6,236.1 159.0,235.1 159.4,235.3 159.8,235.3 160.2,235.6 160.6,234.8 161.0,235.8 161.4,235.3 161.8,235.8 162.2,235.3 162.6,235.4 163.0,234.4 163.4,234.5 163.8,233.9 164.2,234.5 164.6,234.5 165.0,235.2 165.4,233.7 165.8,236.0 166.2,234.3 166.6,235.2 167.0,235.0 167.4,232.7 167.8,233.9 168.2,235.1 168.6,232.5 169.0,234.5 169.4,233.2 169.8,233.4 170.2,233.8 170.6,232.3 171.0,233.7 171.4,233.0 171.8,232.8 172.2,233.8 172.6,234.8 173.0,233.4 173.4,233.5 173.8,233.0 174.2,232.4 174.6,233.0 175.0,233.9 175.4,232.8 175.8,233.2 176.2,232.3 176.6,234.0 177.0,231.1 177.4,232.7 177.8,232.5 178.2,232.2 178.6,231.1 179.0,231.0 179.4,231.6 179.8,231.7 180.2,230.6 180.6,230.6 181.0,231.8 181.4,232.1 181.8,230.7 182.2,230.5 182.6,230.4 183.0,232.5 183.4,231.1 183.8,230.6 184.2,231.3 184.6,232.1 185.0,231.2 185.4,229.0 185.8,230.0 186.2,229.6 186.6,229.6 187.0,228.7 187.4,229.3 187.8,228.6 188.2,229.6 188.6,229.3 189.0,227.9 189.4,227.6 189.8,228.5 190.2,229.3 190.6,229.0 191.0,228.4 191.4,226.6 191.8,227.8 192.2,227.4 192.6,227.6 193.0,226.7 193.4,227.3 193.8,226.9 194.2,229.2 194.6,227.8 195.0,226.9 195.4,226.9 195.8,226.7 196.2,226.8 196.6,226.1 197.0,226.3 197.4,227.1 197.8,226.8 198.2,226.2 198.6,227.0 199.0,225.8 199.4,224.5 199.8,223.6 200.2,224.5 200.6,224.9 201.0,225.2 201.4,225.7 201.8,223.9 202.2,223.6 202.6,224.9 203.0,225.2 203.4,223.4 203.8,224.1 204.2,224.9 204.6,223.7 205.0,223.2 205.4,221.1 205.8,224.3 206.2,223.4 206.6,222.8 207.0,222.0 207.4,221.0 207.8,222.0 208.2,221.9 208.6,222.9 209.0,220.4 209.4,223.0 209.8,221.3 210.2,222.4 210.6,219.9 211.0,221.1 211.4,221.9 211.8,220.5 212.2,218.6 212.6,219.7 213.0,220.4 213.4,218.1 213.8,217.9 214.2,219.5 214.6,218.0 215.0,219.6 215.4,217.3 215.8,216.4 216.2,217.3 216.6,219.7 217.0,216.8 217.4,217.5 217.8,217.6 218.2,215.9 218.6,218.0 219.0,216.7 219.4,216.8 219.8,214.0 220.2,213.7 220.6,213.0 221.0,215.0 221.4,214.7 221.8,215.6 222.2,216.2 222.6,213.8 223.0,213.5 223.4,214.2 223.8,215.2 224.2,212.0 224.6,213.6 225.0,212.2 225.4,211.8 225.8,213.0 226.2,210.7 226.6,210.1 227.0,212.0 227.4,210.9 227.8,210.3 228.2,210.2 228.6,210.8 229.0,209.4 229.4,210.6 229.8,209.9 230.2,211.1 230.6,210.5 231.0,209.7 231.4,208.0 231.8,208.2 232.2,207.0 232.6,210.5 233.0,206.9 233.4,207.8 233.8,208.6 234.2,204.5 234.6,205.0 235.0,205.4 235.4,204.3 235.8,203.6 236.2,204.4 236.6,206.8 237.0,205.7 237.4,204.4 237.8,204.2 238.2,201.4 238.6,204.6 239.0,204.0 239.4,201.4 239.8,203.1 240.2,202.3 240.6,201.5 241.0,200.5 241.4,200.7 241.8,200.0 242.2,201.9 242.6,201.5 243.0,201.1 243.4,200.1 243.8,199.4 244.2,203.0 244.6,196.5 245.0,201.1 245.4,199.5 245.8,198.7 246.2,197.5 246.6,197.7 247.0,195.9 247.4,195.2 247.8,197.1 248.2,194.2 248.6,198.1 249.0,198.3 249.4,192.7 249.8,193.3 250.2,196.2 250.6,195.9 251.0,195.5 251.4,195.8 251.8,196.1 252.2,196.1 252.6,197.5 253.0,194.3 253.4,195.6 253.8,191.1 254.2,193.5 254.6,191.4 255.0,195.8 255.4,196.9 255.8,194.0 256.2,190.5 256.6,192.5 257.0,192.5 257.4,192.6 257.8,194.0 258.2,193.6 258.6,188.0 259.0,194.0 259.4,190.4 259.8,190.1 260.2,193.5 260.6,190.2 261.0,188.0 261.4,187.8 261.8,190.1 262.2,191.4 262.6,192.2 263.0,188.8 263.4,187.9 263.8,191.4 264.2,187.1 264.6,190.3 265.0,187.5 265.4,186.9 265.8,185.4 266.2,185.7 266.6,183.4 267.0,182.0 267.4,182.0 267.8,179.7 268.2,180.2 268.6,177.9 269.0,175.0 269.4,172.6 269.8,169.3 270.2,169.6 270.6,161.2 271.0,154.3 271.4,148.2 271.8,142.8 272.2,133.4 272.6,127.0 273.0,122.9 273.4,123.8 273.8,128.2 274.2,134.8 274.6,138.1 275.0,146.8 275.4,151.5 275.8,163.3 276.2,168.8 276.6,173.2 277.0,174.0 277.4,178.9 277.8,178.6 278.2,180.4 278.6,179.1 279.0,182.0 279.4,183.6 279.8,187.5 280.2,189.8 280.6,186.5 281.0,188.7 281.4,189.1 281.8,187.7 282.2,186.5 282.6,188.7 283.0,187.9 283.4,190.3 283.8,191.0 284.2,191.2 284.6,191.6 285.0,193.0 285.4,190.8 285.8,194.2 286.2,189.9 286.6,193.2 287.0,193.9 287.4,192.1 287.8,190.8 288.2,194.8 288.6,192.7 289.0,195.3 289.4,195.4 289.8,194.2 290.2,194.3 290.6,196.1 291.0,195.1 291.4,192.9 291.8,194.8 292.2,195.5 292.6,194.9 293.0,194.7 293.4,194.0 293.8,193.9 294.2,192.2 294.6,191.0 295.0,195.0 295.4,191.4 295.8,192.3 296.2,188.6 296.6,190.9 297.0,188.5 297.4,193.3 297.8,186.9 298.2,186.6 298.6,189.8 299.0,190.1 299.4,184.0 299.8,188.6 300.2,190.1 300.6,186.7 301.0,190.9 301.4,189.3 301.8,189.2 302.2,191.1 302.6,191.6 303.0,190.7 303.4,197.4 303.8,193.4 304.2,193.4 304.6,196.5 305.0,195.2 305.4,197.8 305.8,195.3 306.2,196.5 306.6,196.3 307.0,196.5 307.4,196.0 307.8,196.3 308.2,199.4 308.6,195.6 309.0,196.0 309.4,196.5 309.8,198.1 310.2,198.0 310.6,199.0 311.0,195.4 311.4,198.2 311.8,197.6 312.2,197.6 312.6,198.4 313.0,195.1 313.4,198.9 313.8,198.8 314.2,196.4 314.6,198.7 315.0,201.4 315.4,198.4 315.8,200.1 316.2,198.9 316.6,198.1 317.0,198.0 317.4,198.9 317.8,201.6 318.2,200.9 318.6,198.6 319.0,201.3 319.4,199.6 319.8,198.7 320.2,200.5 320.6,198.5 321.0,197.5 321.4,202.0 321.8,197.1 322.2,200.9 322.6,197.7 323.0,200.0 323.4,199.8 323.8,199.5 324.2,196.9 324.6,200.1 325.0,200.2 325.4,198.9 325.8,200.2 326.2,201.9 326.6,199.3 327.0,200.9 327.4,198.8 327.8,201.2 328.2,201.6 328.6,204.1 329.0,202.2 329.4,201.6 329.8,203.2 330.2,199.6 330.6,202.9 331.0,200.5 331.4,200.5 331.8,203.2 332.2,202.0 332.6,203.7 333.0,199.5 333.4,202.2 333.8,201.0 334.2,201.4 334.6,199.0 335.0,203.3 335.4,202.3 335.8,200.5 336.2,200.1 336.6,201.0 337.0,204.6 337.4,202.6 337.8,202.5 338.2,204.0 338.6,203.6 339.0,204.2 339.4,205.3 339.8,205.0 340.2,206.1 340.6,203.4 341.0,205.5 341.4,205.2 341.8,206.1 342.2,206.1 342.6,205.5 343.0,206.1 343.4,208.2 343.8,206.3 344.2,205.6 344.6,208.4 345.0,209.1 345.4,207.7 345.8,208.5 346.2,207.4 346.6,208.6 347.0,210.6 347.4,210.4 347.8,209.8 348.2,209.5 348.6,208.1 349.0,210.9 349.4,211.3 349.8,212.3 350.2,213.8 350.6,212.0 351.0,213.0 351.4,210.6 351.8,213.8 352.2,213.6 352.6,214.4 353.0,213.8 353.4,213.7 353.8,215.2 354.2,212.8 354.6,214.5 355.0,215.2 355.4,213.2 355.8,212.9 356.2,214.9 356.6,214.7 357.0,215.4 357.4,215.6 357.8,214.1 358.2,215.5 358.6,216.6 359.0,215.0 359.4,215.3 359.8,214.4 360.2,216.8 360.6,218.2 361.0,214.6 361.4,217.1 361.8,217.4 362.2,215.8 362.6,216.2 363.0,215.5 363.4,215.9 363.8,217.1 364.2,217.7 364.6,217.2 365.0,218.1 365.4,217.4 365.8,216.0 366.2,219.0 366.6,218.7 367.0,216.6 367.4,219.4 367.8,218.0 368.2,217.6 368.6,219.6 369.0,215.1 369.4,215.8 369.8,218.3 370.2,217.3 370.6,216.5 371.0,219.2 371.4,218.0 371.8,216.1 372.2,216.7 372.6,218.4 373.0,219.4 373.4,215.2 373.8,217.6 374.2,216.9 374.6,215.3 375.0,217.0 375.4,215.3 375.8,216.4 376.2,218.7 376.6,217.4 377.0,217.5 377.4,217.1 377.8,216.6 378.2,216.9 378.6,213.9 379.0,214.2 379.4,214.8 379.8,211.6 380.2,210.2 380.6,210.1 381.0,207.9 381.4,202.4 381.8,201.0 382.2,204.2 382.6,206.4 383.0,207.9 383.4,212.0 383.8,213.7 384.2,214.5 384.6,217.9 385.0,217.8 385.4,217.7 385.8,218.4 386.2,220.0 386.6,219.2 387.0,217.5 387.4,218.8 387.8,218.7 388.2,218.2 388.6,219.3 389.0,219.4 389.4,219.2 389.8,218.9 390.2,220.4 390.6,217.9 391.0,220.5 391.4,219.8 391.8,220.1 392.2,217.6 392.6,221.7 393.0,218.2 393.4,219.2 393.8,220.8 394.2,219.6 394.6,219.8 395.0,218.0 395.4,219.9 395.8,220.6 396.2,221.2 396.6,220.2 397.0,220.8 397.4,221.1 397.8,220.0 398.2,220.0 398.6,222.8 399.0,219.9 399.4,222.1 399.8,221.0 400.2,222.5 400.6,220.3 401.0,221.6 401.4,221.4 401.8,220.9 402.2,221.4 402.6,220.4 403.0,221.1 403.4,220.8 403.8,222.0 404.2,221.1 404.6,219.8 405.0,220.9 405.4,221.2 405.8,220.3 406.2,222.6 406.6,221.7 407.0,222.1 407.4,220.5 407.8,220.8 408.2,222.3 408.6,219.8 409.0,221.6 409.4,221.3 409.8,220.7 410.2,221.3 410.6,220.1 411.0,221.4 411.4,219.9 411.8,219.8 412.2,222.5 412.6,220.3 413.0,218.9 413.4,222.0 413.8,220.2 414.2,218.7 414.6,220.9 415.0,221.9 415.4,221.3 415.8,222.6 416.2,220.7 416.6,221.4 417.0,219.8 417.4,220.9 417.8,222.3 418.2,221.2 418.6,220.9 419.0,218.6 419.4,220.3 419.8,219.3 420.2,221.4 420.6,219.8 421.0,220.9 421.4,219.5 421.8,222.4 422.2,219.2 422.6,220.5 423.0,222.5 423.4,220.5 423.8,219.3 424.2,220.9 424.6,221.2 425.0,221.0 425.4,218.0 425.8,220.2 426.2,217.7 426.6,221.9 427.0,219.9 427.4,219.3 427.8,220.5 428.2,220.2 428.6,218.4 429.0,221.3 429.4,219.3 429.8,217.6 430.2,220.9 430.6,221.0 431.0,220.7 431.4,219.9 431.8,218.3 432.2,220.2 432.6,221.2 433.0,220.0 433.4,220.8 433.8,218.2 434.2,220.2 434.6,220.0 435.0,217.4 435.4,217.2 435.8,218.2 436.2,219.0 436.6,219.4 437.0,218.7 437.4,218.9 437.8,218.8 438.2,219.0 438.6,219.6 439.0,219.5 439.4,218.9 439.8,219.2 440.2,218.5 440.6,219.9 441.0,218.5 441.4,220.8 441.8,219.0 442.2,219.4 442.6,218.3 443.0,218.7 443.4,219.3 443.8,219.2 444.2,218.5 444.6,217.9 445.0,219.3 445.4,219.4 445.8,219.9 446.2,220.6 446.6,219.0 447.0,217.2 447.4,219.2 447.8,217.4 448.2,218.0 448.6,220.6 449.0,220.1 449.4,218.8 449.8,218.8 450.2,219.5 450.6,217.7 451.0,220.1 451.4,219.3 451.8,221.6 452.2,218.5 452.6,220.8 453.0,219.0 453.4,220.9 453.8,218.8 454.2,220.6 454.6,219.4 455.0,219.0 455.4,219.8 455.8,220.5 456.2,220.4 456.6,221.7 457.0,220.9 457.4,217.8 457.8,219.7 458.2,218.1 458.6,219.8 459.0,220.9 459.4,218.9 459.8,219.1 460.2,220.5 460.6,220.1 461.0,222.1 461.4,220.8 461.8,221.0 462.2,222.4 462.6,220.0 463.0,220.6 463.4,219.6 463.8,220.9 464.2,221.8 464.6,222.2 465.0,220.7 465.4,220.0 465.8,220.0 466.2,219.4 466.6,221.0 467.0,222.3 467.4,218.7 467.8,218.7 468.2,222.5 468.6,219.4 469.0,221.4 469.4,219.8 469.8,222.0 470.2,222.0 470.6,221.4 471.0,222.1 471.4,221.4 471.8,221.9 472.2,223.3 472.6,222.6 473.0,220.8 473.4,220.7 473.8,221.3 474.2,221.3 474.6,221.7 475.0,221.0 475.4,222.4 475.8,221.8 476.2,222.1 476.6,221.8 477.0,222.5 477.4,220.7 477.8,223.5 478.2,222.3 478.6,222.4 479.0,222.6 479.4,223.2 479.8,222.8 480.2,222.4 480.6,222.0 481.0,220.5 481.4,222.5 481.8,222.0 482.2,222.0 482.6,224.4 483.0,220.5 483.4,222.5 483.8,223.7 484.2,223.5 484.6,223.8 485.0,221.3 485.4,221.6 485.8,223.2 486.2,222.4 486.6,224.4 487.0,223.0 487.4,223.0 487.8,223.2 488.2,222.5 488.6,223.0 489.0,222.2 489.4,222.9 489.8,222.5 490.2,223.2 490.6,221.6 491.0,221.6 491.4,223.5 491.8,223.3 492.2,222.2 492.6,222.9 493.0,222.1 493.4,225.2 493.8,221.7 494.2,224.9 494.6,222.5 495.0,223.7 495.4,223.1 495.8,223.0 496.2,224.3 496.6,224.2 497.0,223.1 497.4,222.6 497.8,225.4 498.2,224.9 498.6,223.6 499.0,223.2 499.4,223.8 499.8,223.6 500.2,224.8 500.6,222.7 501.0,223.6 501.4,222.9 501.8,224.9 502.2,225.4 502.6,223.6 503.0,224.2 503.4,225.1 503.8,223.4 504.2,222.8 504.6,224.8 505.0,224.3 505.4,223.6 505.8,225.2 506.2,224.1 506.6,222.1 507.0,224.2 507.4,223.8 507.8,225.7 508.2,223.9 508.6,223.7 509.0,224.4 509.4,224.2 509.8,222.6 510.2,224.1 510.6,223.7 511.0,225.4 511.4,226.0 511.8,222.9 512.2,223.1 512.6,223.2 513.0,223.4 513.4,223.4 513.8,224.1 514.2,225.2 514.6,222.9 515.0,222.6 515.4,222.4 515.8,225.2 516.2,225.4 516.6,222.7 517.0,222.6 517.4,224.3 517.8,225.3 518.2,225.2 518.6,224.4 519.0,224.9 519.4,224.6 519.8,223.7 520.2,226.1 520.6,224.3 521.0,223.2 521.4,223.8 521.8,222.8 522.2,224.3 522.6,225.4 523.0,223.1 523.4,225.4 523.8,226.3 524.2,224.7 524.6,223.3 525.0,223.6 525.4,224.1 525.8,223.2 526.2,223.2 526.6,224.2 527.0,224.3 527.4,225.0 527.8,223.3 528.2,226.3 528.6,225.5 529.0,225.3 529.4,223.9 529.8,226.2 530.2,224.2 530.6,226.3 531.0,225.6 531.4,223.7 531.8,224.1 532.2,226.4 532.6,225.5 533.0,224.4 533.4,224.8 533.8,224.8 534.2,223.9 534.6,224.4 535.0,224.0 535.4,224.2 535.8,225.1 536.2,223.8 536.6,225.4 537.0,224.8 537.4,225.4 537.8,225.6 538.2,225.9 538.6,225.3 539.0,225.4 539.4,224.6 539.8,225.3 540.2,223.9 540.6,224.6 541.0,225.5 541.4,224.8 541.8,225.2 542.2,223.8 542.6,226.1 543.0,224.3 543.4,225.2 543.8,224.9 544.2,225.8 544.6,224.5 545.0,224.0 545.4,223.1 545.8,224.7 546.2,223.8 546.6,225.5 547.0,226.3 547.4,222.9 547.8,223.8 548.2,225.3 548.6,226.2 549.0,225.3 549.4,225.4 549.8,225.6 550.2,225.6 550.6,226.7 551.0,225.7 551.4,224.0 551.8,224.7 552.2,225.4 552.6,224.4 553.0,224.9 553.4,224.7 553.8,224.6 554.2,225.9 554.6,224.9 555.0,224.2 555.4,224.6 555.8,225.3 556.2,227.2 556.6,225.6 557.0,226.7 557.4,225.8 557.8,223.4 558.2,225.7 558.6,224.6 559.0,224.2 559.4,224.4 559.8,227.1 560.2,224.0 560.6,224.9 561.0,226.6 561.4,226.1 561.8,223.9 562.2,225.5 562.6,225.1 563.0,225.4 563.4,226.3 563.8,225.1 564.2,225.3 564.6,227.0 565.0,224.0 565.4,225.3 565.8,226.1 566.2,224.6 566.6,225.2 567.0,224.5 567.4,225.9 567.8,225.2 568.2,226.5 568.6,226.7 569.0,225.8 569.4,225.4 569.8,226.0 570.2,225.7 570.6,224.4 571.0,226.5 571.4,225.5 571.8,225.9 572.2,223.7 572.6,225.7 573.0,226.6 573.4,225.2 573.8,223.2 574.2,224.6 574.6,224.6 575.0,225.0 575.4,224.7 575.8,225.6 576.2,224.9 576.6,225.8 577.0,225.1 577.4,226.0 577.8,226.9 578.2,225.7 578.6,226.8 579.0,225.4 579.4,226.0 579.8,226.1 580.2,227.5 580.6,225.7 581.0,227.5 581.4,225.1 581.8,226.3 582.2,227.3 582.6,227.1 583.0,225.6 583.4,225.4 583.8,227.4 584.2,225.4 584.6,227.1 585.0,226.1 585.4,226.6 585.8,228.5 586.2,228.1 586.6,227.5 587.0,225.5 587.4,227.0 587.8,226.8 588.2,226.7 588.6,228.0 589.0,225.3 589.4,227.1 589.8,227.0 590.2,226.2 590.6,228.5 591.0,225.8 591.4,227.0 591.8,227.1 592.2,225.1 592.6,225.7 593.0,226.2 593.4,227.8 593.8,228.0 594.2,227.7 594.6,227.4 595.0,225.2 595.4,227.4 595.8,226.8 596.2,228.3 596.6,228.5 597.0,229.1 597.4,227.9 597.8,228.1 598.2,226.4 598.6,227.4 599.0,226.3 599.4,228.2 599.8,226.4 600.2,227.3 600.6,226.8 601.0,227.1 601.4,227.9 601.8,227.1 602.2,227.8 602.6,226.7 603.0,228.9 603.4,227.1 603.8,228.6 604.2,229.5 604.6,225.8 605.0,226.9 605.4,227.6 605.8,228.8 606.2,227.4 606.6,228.2 607.0,227.2 607.4,228.4 607.8,226.8 608.2,228.7 608.6,226.1 609.0,226.3 609.4,229.6 609.8,228.2 610.2,227.3 610.6,229.8 611.0,229.0 611.4,229.1 611.8,227.8 612.2,228.7 612.6,228.6 613.0,226.8 613.4,228.8 613.8,228.1 614.2,229.4 614.6,229.5 615.0,227.8 615.4,227.8 615.8,228.6 616.2,229.0 616.6,228.1 617.0,228.4 617.4,229.0 617.8,228.9 618.2,229.5 618.6,228.8 619.0,227.8 619.4,227.1 619.8,229.3 620.2,228.4 620.6,228.4 621.0,228.4 621.4,227.4 621.8,228.4 622.2,226.9 622.6,228.4 623.0,228.0 623.4,230.4 623.8,229.2 624.2,228.7 624.6,229.0 625.0,229.6 625.4,228.3 625.8,228.8 626.2,228.7 626.6,230.7 627.0,229.1 627.4,227.4 627.8,229.8 628.2,230.8 628.6,228.3 629.0,230.9 629.4,229.1 629.8,230.1 630.2,228.8 630.6,229.0 631.0,228.2 631.4,228.4 631.8,227.5 632.2,230.3 632.6,228.4 633.0,229.7 633.4,229.7 633.8,228.9 634.2,229.5 634.6,229.4 635.0,229.1 635.4,229.6 635.8,229.6 636.2,228.7 636.6,228.5 637.0,228.9 637.4,229.7 637.8,230.8 638.2,230.9 638.6,230.0 639.0,230.5 639.4,229.9 639.8,230.7 640.2,229.9 640.6,230.1 641.0,229.6 641.4,229.9 641.8,231.5 642.2,228.9 642.6,229.9 643.0,229.4 643.4,230.8 643.8,231.5 644.2,229.7 644.6,228.3 645.0,230.6 645.4,230.6 645.8,228.7 646.2,229.9 646.6,230.1 647.0,228.4 647.4,230.7 647.8,230.6 648.2,230.4 648.6,229.3 649.0,229.7 649.4,229.7 649.8,230.7 650.2,229.5 650.6,231.6 651.0,230.7 651.4,228.6 651.8,231.8 652.2,230.6 652.6,230.0 653.0,230.5 653.4,229.0 653.8,230.7 654.2,228.8 654.6,229.7 655.0,231.7 655.4,231.6 655.8,230.3 656.2,229.8 656.6,231.4 657.0,230.6 657.4,230.9 657.8,231.2 658.2,229.9 658.6,231.4 659.0,229.1 659.4,232.0 659.8,229.5 660.2,230.3 660.6,230.3 661.0,231.5 661.4,231.5 661.8,231.2 662.2,231.4 662.6,231.4 663.0,230.9 663.4,229.4 663.8,229.4 664.2,229.4 664.6,231.0 665.0,230.9 665.4,231.0 665.8,231.3 666.2,231.0 666.6,230.4 667.0,230.0 667.4,229.7 667.8,232.2 668.2,232.0 668.6,230.2 669.0,231.1 669.4,231.7 669.8,232.7 670.2,230.9 670.6,231.5 671.0,232.4 671.4,230.0 671.8,230.9 672.2,231.4 672.6,230.9 673.0,233.1 673.4,232.2 673.8,231.7 674.2,230.8 674.6,232.3 675.0,232.1 675.4,231.2 675.8,231.3 676.2,230.5 676.6,231.6 677.0,232.4 677.4,232.6 677.8,232.2 678.2,232.5 678.6,231.3 679.0,231.5 679.4,232.8 679.8,232.2 680.2,231.3 680.6,232.3 681.0,232.6 681.4,232.5 681.8,232.1 682.2,231.6 682.6,232.3 683.0,233.4 683.4,232.2 683.8,231.5 684.2,232.4 684.6,231.1 685.0,232.3 685.4,231.9 685.8,232.9 686.2,232.3 686.6,233.0 687.0,233.8 687.4,232.1 687.8,231.6 688.2,232.6 688.6,232.2 689.0,232.4 689.4,231.9 689.8,232.8 690.2,232.4 690.6,230.8 691.0,232.2 691.4,232.7 691.8,233.4 692.2,232.0 692.6,231.8 693.0,233.4 693.4,232.0 693.8,232.6 694.2,232.9 694.6,233.1 695.0,232.6 695.4,231.7 695.8,233.4 696.2,232.3 696.6,232.2 697.0,234.2 697.4,233.3 697.8,231.9 698.2,232.3 698.6,232.5 699.0,232.1 699.4,231.3 699.8,233.4 700.2,233.4 700.6,233.0 701.0,232.5 701.4,233.0 701.8,233.3 702.2,232.0 702.6,232.6 703.0,232.4 703.4,233.4 703.8,233.1 704.2,231.9 704.6,232.5 705.0,234.3 705.4,232.2 705.8,233.1 706.2,232.5 706.6,234.0 707.0,233.0 707.4,232.7 707.8,232.1 708.2,232.9 708.6,233.7 709.0,233.6 709.4,232.1 709.8,234.3 710.2,232.9 710.6,232.3 711.0,233.2 711.4,232.7 711.8,232.7 712.2,232.7 712.6,233.1 713.0,232.8 713.4,231.9 713.8,233.6 714.2,232.8 714.6,234.1 715.0,233.7 715.4,233.7 715.8,233.4 716.2,234.3 716.6,233.1 717.0,232.6 717.4,233.6 717.8,231.8 718.2,233.1 718.6,233.5 719.0,233.1 719.4,234.3 719.8,233.9 720.2,233.5 720.6,233.1 721.0,234.2 721.4,232.9 721.8,233.1 722.2,234.0 722.6,233.9 723.0,235.0 723.4,233.3 723.8,232.1 724.2,234.0 724.6,234.5 725.0,233.4 725.4,234.7 725.8,234.9 726.2,233.1 726.6,233.2 727.0,232.7 727.4,234.0 727.8,234.1 728.2,234.1 728.6,232.7 729.0,233.1 729.4,232.6 729.8,232.5 730.2,232.7 730.6,232.5 731.0,233.6 731.4,234.0 731.8,234.2 732.2,233.7 732.6,233.2 733.0,233.7 733.4,234.2 733.8,233.5 734.2,233.8 734.6,233.6 735.0,233.4 735.4,233.8 735.8,233.0 736.2,234.6 736.6,232.7 737.0,234.2 737.4,232.8 737.8,235.0 738.2,234.5 738.6,233.3 739.0,233.6 739.4,233.1 739.8,233.9 740.2,234.2 740.6,235.4 741.0,232.9 741.4,234.9 741.8,233.5 742.2,234.2 742.6,234.6 743.0,234.4 743.4,234.3 743.8,233.9 744.2,234.0 744.6,234.1 745.0,234.9 745.4,233.0 745.8,233.7 746.2,233.1 746.6,233.4 747.0,233.5 747.4,234.9 747.8,235.6 748.2,235.1 748.6,233.2 749.0,234.2 749.4,233.3 749.8,234.5 750.2,235.1 750.6,234.6 751.0,234.8 751.4,234.1 751.8,232.7 752.2,232.7 752.6,234.1 753.0,234.6 753.4,235.1 753.8,234.0 754.2,234.3 754.6,234.4 755.0,235.0 755.4,234.2 755.8,233.5 756.2,235.0 756.6,234.6 757.0,234.6 757.4,233.4 757.8,234.3 758.2,233.1 758.6,232.9 759.0,234.1 759.4,234.0 759.8,234.7 760.2,235.4 760.6,234.3 761.0,235.6 761.4,233.9 761.8,234.9 762.2,233.5 762.6,234.5 763.0,234.2 763.4,234.2 763.8,234.8 764.2,233.0 764.6,234.5 765.0,233.8 765.4,234.5 765.8,234.7 766.2,234.2 766.6,234.2 767.0,233.6 767.4,234.9 767.8,234.0 768.2,234.8 768.6,233.5 769.0,235.5 769.4,233.8 769.8,235.3 770.2,234.2 770.6,234.9 771.0,234.4 771.4,235.0 771.8,234.5 772.2,235.4 772.6,235.0 773.0,235.0 773.4,235.7 773.8,234.1 774.2,235.5 774.6,234.6 775.0,233.5 775.4,234.9 775.8,234.4 776.2,235.8 776.6,234.2 777.0,234.6 777.4,234.8 777.8,233.3 778.2,235.0 778.6,233.9 779.0,235.6 779.4,235.8 779.8,234.6 780.2,233.5 780.6,234.8 781.0,234.8 781.4,235.2 781.8,234.5 782.2,233.8 782.6,234.6 783.0,234.0 783.4,236.0 783.8,234.2 784.2,234.2 784.6,234.7 785.0,233.8 785.4,234.4 785.8,234.6 786.2,234.4 786.6,234.6 787.0,235.6 787.4,235.1 787.8,233.8 788.2,234.5 788.6,235.3 789.0,234.3 789.4,234.8 789.8,234.8 790.2,235.2 790.6,234.7 791.0,234.7 791.4,234.2 791.8,235.1 792.2,234.1 792.6,236.0 793.0,234.7 793.4,234.5 793.8,235.1 794.2,234.3 794.6,234.2 795.0,233.7 795.4,232.7 795.8,232.0 796.2,231.6 796.6,232.4 797.0,230.5 797.4,230.3 797.8,230.0 798.2,231.0 798.6,232.3 799.0,230.3 799.4,232.0 799.8,232.3 800.2,232.6 800.6,233.7 801.0,232.9 801.4,234.8 801.8,234.6 802.2,233.9 802.6,235.9 803.0,235.5 803.4,235.7 803.8,233.9 804.2,234.8 804.6,234.6 805.0,235.4 805.4,235.9 805.8,233.6 806.2,235.0 806.6,234.9 807.0,235.7 807.4,235.0 807.8,234.1 808.2,234.9 808.6,234.3 809.0,234.5 809.4,235.1 809.8,234.7 810.2,235.2 810.6,234.0 811.0,236.5 811.4,235.9 811.8,235.6 812.2,234.2 812.6,233.6 813.0,234.5 813.4,234.9 813.8,236.5 814.2,236.0 814.6,234.7 815.0,235.9 815.4,235.9 815.8,235.1 816.2,235.9 816.6,235.3 817.0,234.7 817.4,234.3 817.8,235.0 818.2,235.8 818.6,234.2 819.0,234.0 819.4,235.5 819.8,233.7 820.2,236.4 820.6,234.8 821.0,235.7 821.4,236.4 821.8,234.1 822.2,234.4 822.6,236.6 823.0,235.0 823.4,235.1 823.8,235.3 824.2,235.9 824.6,236.1 825.0,235.3 825.4,235.0 825.8,235.2 826.2,235.4 826.6,236.1 827.0,235.3 827.4,236.5 827.8,234.6 828.2,235.6 828.6,236.4 829.0,236.1 829.4,235.5 829.8,234.6 830.2,234.7 830.6,235.1 831.0,235.5 831.4,235.1 831.8,234.2 832.2,234.7 832.6,235.6 833.0,235.8 833.4,234.3 833.8,235.0 834.2,234.1 834.6,234.9 835.0,236.7 835.4,235.3 835.8,235.0 836.2,234.9 836.6,234.5 837.0,234.0 837.4,235.3 837.8,235.1 838.2,236.3 838.6,234.2 839.0,235.6 839.4,236.2 839.8,234.0 840.2,235.8 840.6,234.2 841.0,235.7 841.4,236.4 841.8,235.3 842.2,235.5 842.6,234.9 843.0,235.5 843.4,236.1 843.8,235.2 844.2,235.3 844.6,235.6 845.0,235.9 845.4,234.2 845.8,235.4 846.2,234.9 846.6,235.7 847.0,236.1 847.4,235.6 847.8,236.3 848.2,234.7 848.6,235.1 849.0,234.7 849.4,235.4 849.8,235.5 850.2,235.3 850.6,234.6 851.0,235.4 851.4,235.1 851.8,235.8 852.2,235.2 852.6,236.2 853.0,235.6 853.4,234.1 853.8,235.3 854.2,234.4 854.6,236.1 855.0,236.4 855.4,235.4 855.8,235.7 856.2,234.4 856.6,234.0 857.0,235.1 857.4,235.3 857.8,234.4 858.2,235.5 858.6,235.7 859.0,235.9 859.4,236.5 859.8,236.0 860.2,235.2 860.6,235.5 861.0,235.9 861.4,234.8 861.8,236.4 862.2,236.1 862.6,235.3 863.0,235.1 863.4,236.9 863.8,236.1 864.2,236.1 864.6,236.7 865.0,236.2 865.4,235.7 865.8,236.0 866.2,234.9 866.6,236.0 867.0,234.5 867.4,235.8 867.8,235.9 868.2,234.5 868.6,236.9 869.0,234.7 869.4,236.3 869.8,235.2 870.2,235.8 870.6,235.1 871.0,237.0 871.4,236.3 871.8,236.8 872.2,236.1 872.6,236.0 873.0,235.7 873.4,235.4 873.8,236.0 874.2,235.7 874.6,235.5 875.0,234.6 875.4,235.4 875.8,236.0 876.2,235.3 876.6,235.8 877.0,235.5 877.4,234.9 877.8,235.0 878.2,235.1 878.6,235.4 879.0,235.4 879.4,236.4 879.8,234.9 880.2,234.2 880.6,236.1 881.0,235.3 881.4,235.5 881.8,237.0 882.2,236.6 882.6,236.0 883.0,236.3 883.4,235.7 883.8,236.3 884.2,235.2 884.6,235.2 885.0,235.3 885.4,236.7 885.8,236.7 886.2,235.2 886.6,236.5 887.0,235.6 887.4,236.4 887.8,235.5 888.2,236.3 888.6,235.6 889.0,235.5 889.4,235.7 889.8,235.8 890.2,235.3 890.6,234.8 891.0,236.9 891.4,235.4 891.8,234.5 892.2,234.3 892.6,234.3 893.0,235.3 893.4,236.6 893.8,234.6 894.2,235.5 894.6,234.5 895.0,236.5 895.4,236.0 895.8,236.0 896.2,236.7 896.6,236.9 897.0,236.4 897.4,235.3 897.8,234.8 898.2,235.0 898.6,234.5 899.0,237.0 899.4,235.6 899.8,235.8 900.2,235.9 900.6,237.1 901.0,235.4 901.4,236.6 901.8,236.0 902.2,235.7 902.6,234.5 903.0,236.4 903.4,235.3 903.8,235.5 904.2,235.9 904.6,235.9 905.0,236.6 905.4,235.3 905.8,235.9 906.2,236.0 906.6,235.8 907.0,236.3 907.4,235.6 907.8,236.6 908.2,235.3 908.6,234.8 909.0,235.8 909.4,236.6 909.8,235.5 910.2,235.4 910.6,235.6 911.0,235.9 911.4,235.7 911.8,236.0 912.2,234.7 912.6,236.9 913.0,236.2 913.4,235.2 913.8,236.8 914.2,236.1 914.6,236.8 915.0,235.0 915.4,237.0 915.8,235.9 916.2,234.4 916.6,236.4 917.0,235.6 917.4,235.2 917.8,235.7 918.2,234.5 918.6,236.3 919.0,235.7 919.4,235.7 919.8,236.8 920.2,235.9 920.6,235.4 921.0,235.2 921.4,235.8 921.8,236.6 922.2,235.5 922.6,235.2 923.0,236.5 923.4,235.9 923.8,235.9 924.2,237.3 924.6,235.1 925.0,236.0 925.4,234.7 925.8,235.7 926.2,236.3 926.6,236.7 927.0,235.0 927.4,236.5 927.8,236.4 928.2,235.8 928.6,237.3 929.0,235.9 929.4,235.3 929.8,236.2 930.2,234.6 930.6,237.0 931.0,236.6 931.4,235.6 931.8,236.3 932.2,236.3 932.6,237.2 933.0,235.5 933.4,235.0 933.8,234.5 934.2,235.7 934.6,234.9 935.0,235.8 935.4,236.2 935.8,235.6 936.2,235.3 936.6,236.7 937.0,235.7 937.4,235.9 937.8,236.3 938.2,234.5 938.6,234.6 939.0,236.3 939.4,234.3 939.8,233.2 940.2,233.2 940.6,232.3 941.0,231.2 941.4,231.3 941.8,231.2 942.2,231.0 942.6,231.4 943.0,229.7 943.4,230.3 943.8,232.5 944.2,232.1 944.6,234.0 945.0,233.9 945.4,233.2 945.8,235.1 946.2,234.4 946.6,235.5 947.0,236.4 947.4,237.1 947.8,235.8 948.2,236.4 948.6,236.1 949.0,236.5 949.4,234.6 949.8,235.7 950.2,236.2 950.6,236.3 951.0,235.5 951.4,236.6 951.8,236.7 952.2,236.0 952.6,235.8 953.0,235.8 953.4,236.1 953.8,236.8 954.2,237.0 954.6,235.7 955.0,235.4 955.4,235.5 955.8,236.7 956.2,236.2 956.6,236.2 957.0,236.3 957.4,236.3 957.8,235.9 958.2,235.3 958.6,235.6 959.0,236.1 959.4,236.3 959.8,235.8 960.2,235.7 960.6,236.9 961.0,235.7 961.4,236.2 961.8,235.8 962.2,235.4 962.6,235.0 963.0,235.7 963.4,235.5 963.8,236.6 964.2,235.2 964.6,235.7 965.0,236.5 965.4,235.9 965.8,236.4 966.2,236.6 966.6,234.9 967.0,235.7 967.4,235.4 967.8,236.9 968.2,235.9 968.6,236.4 969.0,237.2 969.4,235.8" stroke="#4198AF"/>
<path d="M110.2,284.3 110.6,293.6 111.0,304.6 111.4,318.2 111.8,329.7 112.2,341.9 112.6,353.4 113.0,363.2 113.4,367.9 113.8,371.2 114.2,372.7 114.6,377.2 115.0,380.8 115.4,383.9 115.8,387.6 116.2,392.4 116.6,396.8 117.0,400.9 117.4,405.8 117.8,406.6 118.2,410.7 118.6,413.9 119.0,416.1 119.4,418.3 119.8,420.1 120.2,422.8 120.6,426.2 121.0,429.0 121.4,429.2 121.8,432.1 122.2,434.1 122.6,436.3 123.0,437.4 123.4,439.2 123.8,441.2 124.2,441.0 124.6,443.6 125.0,443.4 125.4,444.7 125.8,447.1 126.2,447.8 126.6,450.9 127.0,452.5 127.4,452.5 127.8,453.7 128.2,454.7 128.6,455.7 129.0,457.0 129.4,458.1 129.8,458.3 130.2,458.8 130.6,459.8 131.0,461.7 131.4,461.3 131.8,463.6 132.2,462.7 132.6,464.7 133.0,463.1 133.4,464.1 133.8,465.7 134.2,466.3 134.6,466.2 135.0,468.6 135.4,467.4 135.8,468.1 136.2,467.9 136.6,470.2 137.0,470.0 137.4,470.0 137.8,468.7 138.2,470.8 138.6,470.4 139.0,471.5 139.4,472.3 139.8,471.2 140.2,472.4 140.6,473.2 141.0,472.9 141.4,472.8 141.8,472.5 142.2,473.1 142.6,472.9 143.0,475.1 143.4,474.6 143.8,473.7 144.2,475.0 144.6,474.2 145.0,473.7 145.4,476.7 145.8,476.9 146.2,474.9 146.6,475.8 147.0,476.7 147.4,476.4 147.8,476.2 148.2,476.7 148.6,477.1 149.0,477.0 149.4,477.8 149.8,477.6 150.2,477.3 150.6,478.0 151.0,476.8 151.4,479.5 151.8,477.0 152.2,478.5 152.6,478.9 153.0,479.1 153.4,479.1 153.8,480.1 154.2,478.2 154.6,479.2 155.0,479.5 155.4,479.1 155.8,479.1 156.2,480.7 156.6,479.2 157.0,479.5 157.4,479.7 157.8,479.9 158.2,480.3 158.6,480.1 159.0,480.6 159.4,480.5 159.8,480.9 160.2,481.7 160.6,480.0 161.0,482.0 161.4,480.4 161.8,481.4 162.2,481.0 162.6,480.7 163.0,479.5 163.4,482.4 163.8,480.6 164.2,480.6 164.6,482.1 165.0,481.4 165.4,482.9 165.8,482.8 166.2,482.0 166.6,481.7 167.0,482.2 167.4,480.6 167.8,481.8 168.2,481.8 168.6,481.4 169.0,482.0 169.4,480.7 169.8,482.6 170.2,482.9 170.6,480.9 171.0,482.1 171.4,483.2 171.8,482.4 172.2,481.3 172.6,481.4 173.0,482.8 173.4,483.7 173.8,481.4 174.2,482.3 174.6,481.7 175.0,482.1 175.4,482.6 175.8,482.4 176.2,481.9 176.6,484.1 177.0,482.4 177.4,482.4 177.8,483.5 178.2,482.6 178.6,482.5 179.0,483.4 179.4,481.9 179.8,483.3 180.2,483.6 180.6,483.3 181.0,482.7 181.4,482.8 181.8,481.6 182.2,482.8 182.6,483.1 183.0,483.6 183.4,483.1 183.8,482.7 184.2,482.4 184.6,483.0 185.0,483.1 185.4,484.0 185.8,483.1 186.2,482.7 186.6,483.0 187.0,482.8 187.4,483.0 187.8,481.5 188.2,482.0 188.6,482.3 189.0,483.5 189.4,483.1 189.8,483.3 190.2,484.1 190.6,482.4 191.0,484.1 191.4,483.5 191.8,482.7 192.2,484.4 192.6,482.2 193.0,482.4 193.4,483.1 193.8,483.6 194.2,483.1 194.6,481.7 195.0,483.1 195.4,483.2 195.8,484.9 196.2,484.3 196.6,483.4 197.0,482.5 197.4,483.6 197.8,482.5 198.2,483.5 198.6,483.6 199.0,483.0 199.4,483.5 199.8,483.1 200.2,482.9 200.6,484.5 201.0,483.8 201.4,483.1 201.8,482.8 202.2,483.5 202.6,483.8 203.0,484.0 203.4,484.5 203.8,483.7 204.2,482.6 204.6,484.9 205.0,484.2 205.4,484.0 205.8,484.4 206.2,482.3 206.6,483.1 207.0,483.0 207.4,484.3 207.8,482.6 208.2,483.2 208.6,484.5 209.0,483.9 209.4,483.2 209.8,484.8 210.2,482.5 210.6,483.8 211.0,483.3 211.4,483.8 211.8,483.3 212.2,482.9 212.6,483.6 213.0,482.5 213.4,483.9 213.8,483.3 214.2,484.2 214.6,483.2 215.0,483.0 215.4,483.8 215.8,484.4 216.2,482.1 216.6,483.6 217.0,484.0 217.4,482.5 217.8,482.9 218.2,484.0 218.6,483.0 219.0,483.1 219.4,484.8 219.8,482.9 220.2,483.0 220.6,482.1 221.0,482.8 221.4,482.8 221.8,484.8 222.2,484.5 222.6,482.8 223.0,485.0 223.4,484.2 223.8,483.5 224.2,484.2 224.6,484.0 225.0,483.2 225.4,482.5 225.8,483.1 226.2,483.7 226.6,483.5 227.0,483.2 227.4,484.4 227.8,483.0 228.2,484.4 228.6,483.5 229.0,483.9 229.4,483.0 229.8,483.8 230.2,483.3 230.6,482.6 231.0,483.8 231.4,483.8 231.8,484.4 232.2,484.1 232.6,483.2 233.0,483.5 233.4,482.4 233.8,483.1 234.2,484.8 234.6,485.0 235.0,484.5 235.4,484.2 235.8,484.4 236.2,484.3 236.6,482.8 237.0,483.4 237.4,484.8 237.8,484.8 238.2,484.2 238.6,483.8 239.0,483.8 239.4,483.7 239.8,483.4 240.2,482.8 240.6,484.2 241.0,483.8 241.4,483.9 241.8,485.3 242.2,484.5 242.6,483.6 243.0,484.5 243.4,483.1 243.8,484.8 244.2,484.3 244.6,484.0 245.0,484.5 245.4,485.1 245.8,483.8 246.2,483.5 246.6,485.6 247.0,484.2 247.4,485.2 247.8,483.7 248.2,484.4 248.6,483.8 249.0,484.6 249.4,484.0 249.8,483.7 250.2,485.2 250.6,484.4 251.0,482.8 251.4,484.0 251.8,483.6 252.2,483.4 252.6,483.8 253.0,483.9 253.4,484.2 253.8,483.7 254.2,483.0 254.6,483.8 255.0,484.8 255.4,483.3 255.8,484.6 256.2,484.5 256.6,483.9 257.0,484.4 257.4,483.7 257.8,483.9 258.2,483.5 258.6,484.5 259.0,485.1 259.4,483.7 259.8,485.0 260.2,482.8 260.6,483.6 261.0,483.5 261.4,485.3 261.8,483.8 262.2,484.7 262.6,482.8 263.0,484.2 263.4,484.5 263.8,484.1 264.2,482.7 264.6,484.2 265.0,484.6 265.4,485.0 265.8,484.4 266.2,483.0 266.6,484.0 267.0,484.7 267.4,483.5 267.8,484.4 268.2,483.8 268.6,484.1 269.0,484.6 269.4,483.6 269.8,485.4 270.2,484.1 270.6,484.3 271.0,483.5 271.4,484.1 271.8,483.8 272.2,483.1 272.6,483.0 273.0,484.2 273.4,483.9 273.8,482.6 274.2,482.6 274.6,483.8 275.0,483.9 275.4,484.3 275.8,483.1 276.2,484.3 276.6,483.7 277.0,483.6 277.4,483.8 277.8,484.5 278.2,484.3 278.6,484.5 279.0,483.5 279.4,483.7 279.8,483.1 280.2,483.5 280.6,483.6 281.0,483.6 281.4,484.3 281.8,484.1 282.2,484.3 282.6,483.9 283.0,484.5 283.4,483.9 283.8,484.4 284.2,484.1 284.6,484.3 285.0,483.7 285.4,483.0 285.8,482.9 286.2,485.0 286.6,484.0 287.0,484.0 287.4,483.6 287.8,483.4 288.2,485.1 288.6,483.0 289.0,483.7 289.4,483.7 289.8,483.0 290.2,482.9 290.6,483.2 291.0,483.5 291.4,483.4 291.8,484.2 292.2,482.9 292.6,483.9 293.0,484.6 293.4,484.2 293.8,482.9 294.2,482.3 294.6,484.1 295.0,483.9 295.4,483.2 295.8,484.4 296.2,483.3 296.6,483.6 297.0,482.9 297.4,483.8 297.8,483.3 298.2,483.2 298.6,484.2 299.0,483.7 299.4,482.6 299.8,483.9 300.2,484.0 300.6,483.0 301.0,483.2 301.4,483.5 301.8,483.3 302.2,483.5 302.6,483.8 303.0,483.1 303.4,484.7 303.8,483.0 304.2,483.1 304.6,484.6 305.0,484.7 305.4,483.4 305.8,483.3 306.2,482.7 306.6,484.0 307.0,483.4 307.4,482.8 307.8,483.6 308.2,484.1 308.6,483.7 309.0,484.6 309.4,484.0 309.8,483.5 310.2,483.2 310.6,483.6 311.0,484.0 311.4,483.7 311.8,483.9 312.2,483.3 312.6,483.7 313.0,483.9 313.4,483.1 313.8,482.4 314.2,484.2 314.6,483.5 315.0,482.9 315.4,483.3 315.8,483.0 316.2,482.1 316.6,483.0 317.0,482.2 317.4,483.2 317.8,483.0 318.2,483.7 318.6,483.0 319.0,483.2 319.4,482.8 319.8,482.8 320.2,482.2 320.6,483.6 321.0,483.1 321.4,482.6 321.8,483.1 322.2,482.7 322.6,482.5 323.0,483.1 323.4,483.6 323.8,482.7 324.2,482.0 324.6,482.5 325.0,483.9 325.4,482.4 325.8,483.5 326.2,482.7 326.6,483.2 327.0,482.7 327.4,481.8 327.8,482.5 328.2,484.0 328.6,482.7 329.0,483.1 329.4,482.5 329.8,482.6 330.2,482.9 330.6,483.0 331.0,483.9 331.4,482.6 331.8,482.5 332.2,482.2 332.6,481.8 333.0,481.7 333.4,483.0 333.8,481.5 334.2,483.4 334.6,483.0 335.0,482.3 335.4,481.8 335.8,482.5 336.2,482.5 336.6,483.1 337.0,482.0 337.4,482.2 337.8,482.4 338.2,482.2 338.6,482.0 339.0,481.3 339.4,481.4 339.8,481.9 340.2,482.2 340.6,482.8 341.0,483.4 341.4,483.2 341.8,482.4 342.2,483.3 342.6,482.1 343.0,481.8 343.4,483.3 343.8,481.4 344.2,481.8 344.6,481.9 345.0,482.8 345.4,481.6 345.8,482.4 346.2,481.6 346.6,481.1 347.0,481.9 347.4,481.9 347.8,481.1 348.2,481.2 348.6,481.2 349.0,482.2 349.4,481.8 349.8,481.7 350.2,481.7 350.6,481.1 351.0,481.6 351.4,481.0 351.8,480.5 352.2,480.8 352.6,481.2 353.0,481.1 353.4,481.5 353.8,479.9 354.2,480.7 354.6,480.9 355.0,480.1 355.4,480.7 355.8,480.2 356.2,479.7 356.6,480.9 357.0,479.3 357.4,480.6 357.8,479.7 358.2,479.3 358.6,479.2 359.0,479.1 359.4,478.9 359.8,479.4 360.2,478.1 360.6,479.7 361.0,479.3 361.4,479.4 361.8,478.0 362.2,477.2 362.6,477.8 363.0,477.9 363.4,478.0 363.8,477.3 364.2,477.4 364.6,477.3 365.0,476.2 365.4,477.8 365.8,476.0 366.2,476.5 366.6,476.7 367.0,475.4 367.4,475.6 367.8,476.2 368.2,474.8 368.6,475.1 369.0,474.3 369.4,473.8 369.8,473.6 370.2,472.6 370.6,472.2 371.0,472.3 371.4,471.3 371.8,470.7 372.2,468.7 372.6,467.6 373.0,466.0 373.4,463.2 373.8,459.9 374.2,455.8 374.6,451.7 375.0,448.1 375.4,443.9 375.8,438.0 376.2,433.5 376.6,427.4 377.0,423.1 377.4,416.8 377.8,412.3 378.2,406.5 378.6,402.6 379.0,398.1 379.4,392.9 379.8,388.9 380.2,385.1 380.6,380.7 381.0,377.5 381.4,374.1 381.8,371.6 382.2,369.0 382.6,365.8 383.0,364.2 383.4,364.6 383.8,366.9 384.2,372.0 384.6,380.4 385.0,388.3 385.4,397.4 385.8,408.5 386.2,422.0 386.6,430.1 387.0,438.4 387.4,444.6 387.8,450.3 388.2,455.1 388.6,458.6 389.0,462.3 389.4,464.8 389.8,466.5 390.2,468.1 390.6,471.1 391.0,471.4 391.4,473.5 391.8,473.5 392.2,473.8 392.6,475.2 393.0,475.3 393.4,476.1 393.8,476.1 394.2,477.5 394.6,478.2 395.0,477.7 395.4,479.4 395.8,478.5 396.2,479.3 396.6,478.7 397.0,478.9 397.4,481.3 397.8,481.3 398.2,481.4 398.6,480.2 399.0,481.5 399.4,481.9 399.8,481.9 400.2,482.3 400.6,481.8 401.0,482.4 401.4,482.1 401.8,482.7 402.2,483.3 402.6,482.8 403.0,483.2 403.4,483.3 403.8,483.7 404.2,484.3 404.6,484.0 405.0,484.2 405.4,483.3 405.8,484.0 406.2,484.7 406.6,483.9 407.0,484.2 407.4,483.9 407.8,485.2 408.2,484.3 408.6,484.3 409.0,485.0 409.4,485.3 409.8,485.1 410.2,485.4 410.6,485.0 411.0,484.8 411.4,484.7 411.8,484.7 412.2,484.7 412.6,485.2 413.0,485.0 413.4,485.1 413.8,485.4 414.2,485.1 414.6,484.4 415.0,484.7 415.4,484.6 415.8,484.2 416.2,485.2 416.6,484.6 417.0,484.6 417.4,484.7 417.8,485.7 418.2,485.1 418.6,485.8 419.0,485.2 419.4,485.1 419.8,485.6 420.2,485.6 420.6,485.4 421.0,484.8 421.4,485.1 421.8,484.8 422.2,485.3 422.6,485.5 423.0,486.2 423.4,486.2 423.8,485.8 424.2,486.0 424.6,485.6 425.0,486.6 425.4,486.3 425.8,486.6 426.2,485.7 426.6,485.7 427.0,486.1 427.4,485.6 427.8,485.7 428.2,485.1 428.6,486.1 429.0,485.7 429.4,486.0 429.8,485.5 430.2,484.7 430.6,485.9 431.0,486.2 431.4,485.0 431.8,485.2 432.2,485.5 432.6,485.5 433.0,484.8 433.4,486.6 433.8,486.2 434.2,485.4 434.6,484.8 435.0,485.9 435.4,486.7 435.8,486.1 436.2,486.3 436.6,485.3 437.0,485.9 437.4,485.0 437.8,486.8 438.2,486.1 438.6,484.7 439.0,484.9 439.4,486.0 439.8,485.9 440.2,485.6 440.6,486.1 441.0,486.8 441.4,486.0 441.8,484.9 442.2,485.8 442.6,485.2 443.0,485.4 443.4,486.0 443.8,485.8 444.2,485.3 444.6,485.9 445.0,485.5 445.4,486.1 445.8,485.8 446.2,486.1 446.6,485.8 447.0,486.3 447.4,485.8 447.8,485.9 448.2,485.6 448.6,486.0 449.0,485.1 449.4,487.0 449.8,485.6 450.2,486.0 450.6,485.7 451.0,485.7 451.4,486.2 451.8,485.7 452.2,485.8 452.6,485.3 453.0,485.6 453.4,485.4 453.8,486.9 454.2,485.4 454.6,485.5 455.0,486.1 455.4,486.8 455.8,485.2 456.2,485.3 456.6,486.1 457.0,486.2 457.4,485.4 457.8,485.2 458.2,485.6 458.6,486.5 459.0,486.1 459.4,486.5 459.8,486.1 460.2,486.1 460.6,486.4 461.0,486.1 461.4,486.3 461.8,485.7 462.2,485.9 462.6,486.4 463.0,486.1 463.4,485.8 463.8,486.5 464.2,486.5 464.6,486.2 465.0,485.9 465.4,486.7 465.8,487.3 466.2,485.8 466.6,485.5 467.0,485.9 467.4,485.8 467.8,485.7 468.2,485.7 468.6,486.7 469.0,486.7 469.4,487.0 469.8,486.7 470.2,486.1 470.6,486.8 471.0,486.0 471.4,486.2 471.8,485.8 472.2,486.9 472.6,486.8 473.0,486.1 473.4,486.2 473.8,486.4 474.2,486.5 474.6,486.8 475.0,486.4 475.4,486.6 475.8,485.7 476.2,486.3 476.6,485.6 477.0,487.3 477.4,487.1 477.8,486.8 478.2,487.0 478.6,487.4 479.0,486.9 479.4,485.7 479.8,486.4 480.2,485.5 480.6,486.1 481.0,485.9 481.4,486.5 481.8,486.7 482.2,486.1 482.6,486.4 483.0,486.6 483.4,486.4 483.8,486.4 484.2,485.5 484.6,486.3 485.0,486.9 485.4,486.7 485.8,485.8 486.2,486.4 486.6,486.7 487.0,486.1 487.4,486.9 487.8,486.2 488.2,486.4 488.6,486.5 489.0,487.6 489.4,486.4 489.8,486.3 490.2,486.9 490.6,486.4 491.0,486.7 491.4,485.6 491.8,486.7 492.2,486.6 492.6,486.0 493.0,487.2 493.4,486.5 493.8,486.5 494.2,486.0 494.6,485.8 495.0,486.3 495.4,485.9 495.8,486.8 496.2,487.0 496.6,486.3 497.0,485.8 497.4,486.4 497.8,486.1 498.2,486.6 498.6,486.6 499.0,486.3 499.4,486.5 499.8,486.9 500.2,487.2 500.6,486.1 501.0,486.6 501.4,486.1 501.8,485.6 502.2,486.6 502.6,486.0 503.0,485.6 503.4,485.3 503.8,484.4 504.2,483.1 504.6,482.8 505.0,480.2 505.4,477.8 505.8,478.1 506.2,480.4 506.6,481.9 507.0,483.8 507.4,484.4 507.8,485.4 508.2,485.4 508.6,486.8 509.0,485.9 509.4,486.4 509.8,486.5 510.2,486.2 510.6,486.9 511.0,486.4 511.4,486.3 511.8,486.6 512.2,486.2 512.6,487.2 513.0,486.9 513.4,487.1 513.8,486.0 514.2,486.8 514.6,486.3 515.0,486.7 515.4,487.3 515.8,486.8 516.2,486.6 516.6,487.2 517.0,487.2 517.4,487.6 517.8,485.9 518.2,486.9 518.6,486.6 519.0,486.4 519.4,486.8 519.8,486.2 520.2,485.8 520.6,486.4 521.0,486.6 521.4,487.6 521.8,486.4 522.2,486.2 522.6,485.9 523.0,486.6 523.4,486.7 523.8,486.8 524.2,486.1 524.6,486.4 525.0,485.8 525.4,486.8 525.8,486.1 526.2,485.8 526.6,487.3 527.0,487.0 527.4,486.9 527.8,486.9 528.2,486.3 528.6,487.2 529.0,486.3 529.4,487.6 529.8,486.8 530.2,485.9 530.6,487.1 531.0,487.6 531.4,486.6 531.8,487.2 532.2,486.6 532.6,486.4 533.0,485.8 533.4,487.3 533.8,486.5 534.2,486.9 534.6,486.2 535.0,486.3 535.4,487.2 535.8,486.5 536.2,486.5 536.6,486.1 537.0,486.8 537.4,487.0 537.8,486.5 538.2,486.6 538.6,486.1 539.0,487.3 539.4,486.4 539.8,486.6 540.2,487.4 540.6,486.5 541.0,485.9 541.4,486.2 541.8,486.4 542.2,487.4 542.6,486.7 543.0,486.5 543.4,486.9 543.8,487.1 544.2,486.2 544.6,487.1 545.0,486.9 545.4,486.7 545.8,485.6 546.2,486.5 546.6,487.1 547.0,486.3 547.4,487.3 547.8,486.4 548.2,485.9 548.6,486.6 549.0,486.5 549.4,486.7 549.8,486.2 550.2,486.9 550.6,486.0 551.0,486.3 551.4,485.7 551.8,485.8 552.2,486.2 552.6,485.8 553.0,485.9 553.4,486.0 553.8,486.1 554.2,486.3 554.6,486.3 555.0,486.4 555.4,486.0 555.8,485.6 556.2,485.1 556.6,485.6 557.0,485.4 557.4,484.9 557.8,486.3 558.2,484.7 558.6,485.6 559.0,485.7 559.4,485.3 559.8,486.2 560.2,485.2 560.6,484.8 561.0,485.8 561.4,484.6 561.8,484.2 562.2,484.3 562.6,484.4 563.0,484.6 563.4,484.6 563.8,483.6 564.2,484.3 564.6,484.9 565.0,483.5 565.4,483.6 565.8,483.8 566.2,483.8 566.6,482.8 567.0,482.4 567.4,482.1 567.8,482.7 568.2,482.3 568.6,480.6 569.0,480.1 569.4,480.0 569.8,479.2 570.2,479.3 570.6,478.2 571.0,477.6 571.4,475.4 571.8,472.7 572.2,469.5 572.6,463.2 573.0,454.4 573.4,441.5 573.8,423.4 574.2,408.2 574.6,414.7 575.0,433.0 575.4,448.7 575.8,459.9 576.2,466.5 576.6,471.0 577.0,474.3 577.4,475.6 577.8,477.9 578.2,479.0 578.6,479.9 579.0,479.4 579.4,480.0 579.8,481.6 580.2,481.5 580.6,481.8 581.0,482.1 581.4,482.1 581.8,482.8 582.2,482.9 582.6,483.1 583.0,483.8 583.4,483.3 583.8,484.4 584.2,483.2 584.6,485.2 585.0,483.8 585.4,484.8 585.8,485.0 586.2,484.8 586.6,485.2 587.0,484.9 587.4,484.3 587.8,485.3 588.2,485.7 588.6,485.1 589.0,484.7 589.4,485.2 589.8,485.7 590.2,485.7 590.6,486.1 591.0,485.9 591.4,486.0 591.8,485.0 592.2,486.8 592.6,485.9 593.0,486.3 593.4,485.8 593.8,486.0 594.2,486.1 594.6,486.8 595.0,486.8 595.4,486.4 595.8,487.1 596.2,486.1 596.6,486.5 597.0,486.1 597.4,486.9 597.8,486.4 598.2,486.8 598.6,487.1 599.0,485.6 599.4,487.3 599.8,486.6 600.2,486.4 600.6,485.7 601.0,486.4 601.4,485.7 601.8,486.6 602.2,486.5 602.6,487.4 603.0,486.5 603.4,487.1 603.8,487.2 604.2,487.6 604.6,486.6 605.0,487.0 605.4,486.1 605.8,486.3 606.2,486.6 606.6,486.8 607.0,486.3 607.4,486.6 607.8,487.1 608.2,486.6 608.6,486.8 609.0,486.5 609.4,487.4 609.8,487.6 610.2,487.0 610.6,486.8 611.0,487.6 611.4,487.1 611.8,486.6 612.2,486.4 612.6,486.7 613.0,487.8 613.4,486.7 613.8,487.8 614.2,487.0 614.6,486.9 615.0,487.6 615.4,486.9 615.8,487.2 616.2,486.6 616.6,486.5 617.0,486.7 617.4,487.1 617.8,486.8 618.2,486.2 618.6,487.3 619.0,487.0 619.4,487.0 619.8,486.8 620.2,486.2 620.6,487.8 621.0,486.9 621.4,487.4 621.8,487.7 622.2,487.6 622.6,487.2 623.0,487.2 623.4,487.3 623.8,487.6 624.2,487.4 624.6,487.0 625.0,487.4 625.4,487.4 625.8,487.5 626.2,487.3 626.6,487.8 627.0,487.3 627.4,487.6 627.8,487.3 628.2,487.0 628.6,486.9 629.0,487.2 629.4,487.5 629.8,487.8 630.2,487.2 630.6,487.1 631.0,487.1 631.4,487.8 631.8,487.3 632.2,487.1 632.6,487.6 633.0,486.8 633.4,487.4 633.8,487.3 634.2,487.3 634.6,486.8 635.0,487.7 635.4,488.0 635.8,486.8 636.2,487.4 636.6,487.6 637.0,488.2 637.4,487.2 637.8,487.0 638.2,487.4 638.6,488.2 639.0,487.4 639.4,487.5 639.8,488.1 640.2,486.5 640.6,486.5 641.0,487.7 641.4,487.7 641.8,486.8 642.2,487.6 642.6,487.4 643.0,487.5 643.4,487.1 643.8,487.2 644.2,487.0 644.6,487.4 645.0,487.3 645.4,488.1 645.8,487.7 646.2,486.8 646.6,487.6 647.0,488.0 647.4,487.5 647.8,487.8 648.2,487.4 648.6,487.7 649.0,487.0 649.4,487.7 649.8,486.8 650.2,487.9 650.6,486.8 651.0,486.6 651.4,487.6 651.8,487.3 652.2,487.5 652.6,487.6 653.0,487.4 653.4,487.1 653.8,487.5 654.2,487.6 654.6,487.6 655.0,488.2 655.4,487.1 655.8,487.4 656.2,487.6 656.6,487.2 657.0,486.9 657.4,487.2 657.8,487.9 658.2,487.3 658.6,487.7 659.0,487.1 659.4,487.6 659.8,487.2 660.2,487.1 660.6,487.5 661.0,487.4 661.4,488.0 661.8,486.8 662.2,487.6 662.6,488.1 663.0,488.0 663.4,487.3 663.8,487.2 664.2,487.2 664.6,487.6 665.0,487.5 665.4,487.6 665.8,487.7 666.2,487.0 666.6,487.0 667.0,486.9 667.4,486.9 667.8,487.4 668.2,487.6 668.6,488.3 669.0,487.7 669.4,487.4 669.8,488.0 670.2,487.1 670.6,487.6 671.0,487.8 671.4,487.8 671.8,487.6 672.2,487.3 672.6,486.9 673.0,487.4 673.4,487.2 673.8,487.7 674.2,487.4 674.6,487.7 675.0,486.8 675.4,487.8 675.8,487.1 676.2,486.8 676.6,486.9 677.0,487.2 677.4,487.9 677.8,487.7 678.2,487.0 678.6,487.5 679.0,487.4 679.4,486.8 679.8,487.0 680.2,486.6 680.6,487.1 681.0,486.6 681.4,487.1 681.8,487.0 682.2,487.1 682.6,487.0 683.0,487.8 683.4,487.1 683.8,487.3 684.2,487.4 684.6,487.3 685.0,487.1 685.4,486.4 685.8,486.0 686.2,485.9 686.6,485.7 687.0,485.6 687.4,485.2 687.8,485.3 688.2,484.5 688.6,484.9 689.0,484.3 689.4,483.4 689.8,483.6 690.2,482.3 690.6,483.5 691.0,483.1 691.4,483.2 691.8,482.4 692.2,484.1 692.6,483.5 693.0,483.8 693.4,484.6 693.8,484.5 694.2,484.6 694.6,485.5 695.0,485.2 695.4,486.2 695.8,486.3 696.2,486.9 696.6,486.2 697.0,487.3 697.4,487.1 697.8,487.9 698.2,486.9 698.6,488.0 699.0,487.6 699.4,487.7 699.8,487.1 700.2,487.6 700.6,487.7 701.0,487.1 701.4,487.0 701.8,487.2 702.2,488.0 702.6,487.5 703.0,487.8 703.4,487.6 703.8,487.5 704.2,487.5 704.6,487.3 705.0,487.9 705.4,487.5 705.8,487.5 706.2,486.9 706.6,487.6 707.0,487.2 707.4,487.3 707.8,487.9 708.2,487.0 708.6,487.4 709.0,487.7 709.4,487.9 709.8,487.3 710.2,487.6 710.6,487.6 711.0,487.0 711.4,486.7 711.8,486.7 712.2,487.7 712.6,487.5 713.0,486.9 713.4,487.2 713.8,487.3 714.2,487.3 714.6,487.5 715.0,488.3 715.4,487.2 715.8,487.5 716.2,487.2 716.6,487.2 717.0,487.1 717.4,487.4 717.8,487.2 718.2,487.6 718.6,487.5 719.0,487.1 719.4,488.2 719.8,487.0 720.2,487.6 720.6,488.3 721.0,487.2 721.4,488.0 721.8,488.0 722.2,487.6 722.6,486.8 723.0,488.0 723.4,487.5 723.8,487.3 724.2,488.0 724.6,487.2 725.0,487.9 725.4,487.3 725.8,487.7 726.2,487.0 726.6,487.3 727.0,487.1 727.4,487.2 727.8,487.5 728.2,487.4 728.6,487.5 729.0,488.0 729.4,487.4 729.8,486.7 730.2,487.4 730.6,487.5 731.0,487.9 731.4,487.9 731.8,487.8 732.2,487.4 732.6,487.7 733.0,486.9 733.4,488.0 733.8,487.6 734.2,487.7 734.6,487.3 735.0,487.5 735.4,487.2 735.8,487.7 736.2,487.0 736.6,487.8 737.0,487.7 737.4,488.2 737.8,487.4 738.2,487.4 738.6,487.5 739.0,487.5 739.4,487.4 739.8,487.0 740.2,487.0 740.6,487.2 741.0,487.4 741.4,487.0 741.8,487.0 742.2,487.4 742.6,487.7 743.0,487.4 743.4,487.7 743.8,487.8 744.2,487.8 744.6,487.3 745.0,487.3 745.4,486.8 745.8,487.2 746.2,487.6 746.6,487.0 747.0,488.0 747.4,488.0 747.8,487.3 748.2,487.8 748.6,486.9 749.0,487.1 749.4,487.3 749.8,487.5 750.2,487.4 750.6,487.1 751.0,488.2 751.4,487.6 751.8,487.6 752.2,487.7 752.6,487.5 753.0,487.4 753.4,487.2 753.8,486.8 754.2,488.0 754.6,487.1 755.0,486.8 755.4,487.1 755.8,486.8 756.2,488.2 756.6,487.6 757.0,488.0 757.4,488.0 757.8,487.7 758.2,487.7 758.6,487.2 759.0,487.4 759.4,487.2 759.8,487.5 760.2,487.2 760.6,487.9 761.0,487.7 761.4,487.4 761.8,486.8 762.2,487.7 762.6,487.8 763.0,487.4 763.4,487.0 763.8,487.6 764.2,487.8 764.6,486.7 765.0,487.6 765.4,486.7 765.8,487.5 766.2,488.1 766.6,487.5 767.0,487.6 767.4,487.3 767.8,487.4 768.2,488.2 768.6,487.9 769.0,487.3 769.4,487.3 769.8,487.4 770.2,488.2 770.6,487.5 771.0,487.8 771.4,487.3 771.8,486.9 772.2,487.9 772.6,487.4 773.0,487.1 773.4,487.1 773.8,487.1 774.2,487.2 774.6,486.8 775.0,487.8 775.4,487.5 775.8,487.7 776.2,487.2 776.6,487.5 777.0,487.4 777.4,487.8 777.8,487.6 778.2,487.5 778.6,487.1 779.0,486.9 779.4,487.0 779.8,487.1 780.2,487.1 780.6,486.8 781.0,487.9 781.4,487.4 781.8,486.5 782.2,486.9 782.6,486.7 783.0,487.3 783.4,487.6 783.8,486.8 784.2,487.4 784.6,487.1 785.0,487.6 785.4,487.6 785.8,487.2 786.2,487.3 786.6,487.0 787.0,486.9 787.4,486.6 787.8,487.1 788.2,486.9 788.6,486.7 789.0,486.8 789.4,486.7 789.8,486.3 790.2,486.4 790.6,486.9 791.0,486.3 791.4,486.8 791.8,485.7 792.2,485.4 792.6,485.7 793.0,485.7 793.4,484.8 793.8,484.9 794.2,484.5 794.6,483.8 795.0,482.5 795.4,481.2 795.8,478.9 796.2,477.0 796.6,473.6 797.0,469.0 797.4,461.5 797.8,455.0 798.2,451.9 798.6,455.7 799.0,461.2 799.4,468.1 799.8,474.2 800.2,477.3 800.6,479.0 801.0,481.2 801.4,482.8 801.8,483.6 802.2,484.0 802.6,484.4 803.0,485.4 803.4,485.4 803.8,486.0 804.2,486.1 804.6,485.9 805.0,486.8 805.4,486.2 805.8,486.6 806.2,486.4 806.6,486.6 807.0,486.6 807.4,486.6 807.8,486.9 808.2,487.4 808.6,487.6 809.0,487.5 809.4,487.0 809.8,487.6 810.2,487.2 810.6,487.8 811.0,486.7 811.4,487.7 811.8,487.0 812.2,487.6 812.6,487.0 813.0,487.5 813.4,487.1 813.8,486.6 814.2,486.9 814.6,487.2 815.0,487.3 815.4,486.5 815.8,486.9 816.2,487.0 816.6,487.2 817.0,487.4 817.4,487.0 817.8,486.8 818.2,487.4 818.6,487.2 819.0,487.7 819.4,487.2 819.8,487.6 820.2,487.0 820.6,487.5 821.0,487.4 821.4,487.5 821.8,487.0 822.2,487.3 822.6,487.1 823.0,487.3 823.4,487.6 823.8,488.1 824.2,487.4 824.6,487.7 825.0,487.4 825.4,487.8 825.8,487.6 826.2,487.8 826.6,487.5 827.0,488.2 827.4,487.9 827.8,486.8 828.2,487.5 828.6,487.5 829.0,486.7 829.4,487.1 829.8,487.3 830.2,487.2 830.6,487.5 831.0,486.8 831.4,487.7 831.8,487.7 832.2,487.6 832.6,487.3 833.0,487.4 833.4,487.3 833.8,487.8 834.2,487.6 834.6,488.2 835.0,487.3 835.4,488.0 835.8,487.2 836.2,487.4 836.6,487.1 837.0,487.6 837.4,487.4 837.8,487.7 838.2,488.0 838.6,487.4 839.0,487.6 839.4,487.8 839.8,487.4 840.2,487.3 840.6,487.6 841.0,487.6 841.4,487.7 841.8,487.8 842.2,487.2 842.6,487.6 843.0,487.9 843.4,487.3 843.8,487.6 844.2,487.2 844.6,487.5 845.0,488.1 845.4,487.5 845.8,487.1 846.2,487.6 846.6,487.5 847.0,487.9 847.4,487.0 847.8,487.1 848.2,487.4 848.6,486.9 849.0,487.9 849.4,486.8 849.8,487.2 850.2,486.9 850.6,487.2 851.0,487.7 851.4,487.7 851.8,487.8 852.2,487.7 852.6,486.8 853.0,487.6 853.4,486.8 853.8,487.3 854.2,487.3 854.6,487.3 855.0,487.6 855.4,487.2 855.8,488.1 856.2,487.7 856.6,487.9 857.0,487.7 857.4,487.8 857.8,487.5 858.2,488.2 858.6,487.1 859.0,487.6 859.4,487.5 859.8,487.4 860.2,487.6 860.6,487.2 861.0,487.8 861.4,487.7 861.8,487.5 862.2,487.7 862.6,487.1 863.0,486.8 863.4,487.3 863.8,487.4 864.2,488.2 864.6,487.4 865.0,487.8 865.4,487.8 865.8,488.2 866.2,487.5 866.6,487.7 867.0,487.4 867.4,487.2 867.8,487.1 868.2,487.2 868.6,488.0 869.0,487.6 869.4,487.4 869.8,487.5 870.2,487.3 870.6,487.5 871.0,487.5 871.4,487.7 871.8,487.8 872.2,486.9 872.6,487.6 873.0,488.0 873.4,487.1 873.8,487.4 874.2,487.5 874.6,487.9 875.0,487.7 875.4,487.4 875.8,487.6 876.2,487.8 876.6,487.6 877.0,488.1 877.4,487.6 877.8,487.1 878.2,487.2 878.6,487.4 879.0,487.4 879.4,487.7 879.8,487.6 880.2,488.1 880.6,487.8 881.0,488.0 881.4,487.2 881.8,487.3 882.2,487.7 882.6,487.5 883.0,487.7 883.4,487.6 883.8,487.3 884.2,488.1 884.6,487.9 885.0,486.9 885.4,487.3 885.8,487.5 886.2,487.7 886.6,487.4 887.0,487.0 887.4,487.8 887.8,487.4 888.2,487.9 888.6,487.6 889.0,487.8 889.4,487.8 889.8,487.8 890.2,487.3 890.6,487.8 891.0,487.5 891.4,487.0 891.8,487.3 892.2,487.4 892.6,487.6 893.0,487.7 893.4,487.1 893.8,487.7 894.2,487.4 894.6,487.1 895.0,487.8 895.4,487.2 895.8,487.1 896.2,487.7 896.6,487.8 897.0,487.2 897.4,487.8 897.8,487.8 898.2,487.3 898.6,488.2 899.0,487.4 899.4,487.5 899.8,486.7 900.2,487.7 900.6,487.3 901.0,487.6 901.4,486.9 901.8,487.9 902.2,488.0 902.6,488.1 903.0,486.7 903.4,487.7 903.8,487.6 904.2,486.7 904.6,487.2 905.0,487.4 905.4,487.9 905.8,487.2 906.2,487.5 906.6,487.4 907.0,487.6 907.4,487.3 907.8,487.8 908.2,487.8 908.6,487.0 909.0,487.8 909.4,487.2 909.8,487.4 910.2,487.8 910.6,487.5 911.0,487.6 911.4,487.7 911.8,487.6 912.2,487.3 912.6,487.1 913.0,487.7 913.4,487.7 913.8,487.6 914.2,487.4 914.6,487.7 915.0,487.4 915.4,487.0 915.8,487.5 916.2,487.6 916.6,487.7 917.0,487.1 917.4,487.2 917.8,487.5 918.2,487.3 918.6,487.4 919.0,487.7 919.4,487.5 919.8,488.0 920.2,487.5 920.6,488.0 921.0,487.7 921.4,488.1 921.8,487.4 922.2,487.3 922.6,487.8 923.0,487.2 923.4,487.2 923.8,487.4 924.2,487.5 924.6,486.9 925.0,487.4 925.4,487.2 925.8,487.3 926.2,487.3 926.6,487.2 927.0,487.6 927.4,487.4 927.8,487.2 928.2,487.2 928.6,487.6 929.0,487.4 929.4,487.6 929.8,487.1 930.2,487.2 930.6,487.8 931.0,487.0 931.4,487.6 931.8,487.3 932.2,486.8 932.6,486.4 933.0,487.1 933.4,486.6 933.8,486.5 934.2,486.1 934.6,487.0 935.0,486.5 935.4,486.3 935.8,486.3 936.2,486.1 936.6,485.8 937.0,485.7 937.4,485.2 937.8,484.1 938.2,484.7 938.6,483.9 939.0,483.0 939.4,482.5 939.8,480.0 940.2,477.8 940.6,476.2 941.0,472.0 941.4,466.2 941.8,460.7 942.2,456.6 942.6,455.6 943.0,459.9 943.4,465.3 943.8,469.2 944.2,471.6 944.6,473.6 945.0,474.5 945.4,476.0 945.8,477.0 946.2,478.1 946.6,479.4 947.0,481.9 947.4,482.6 947.8,483.4 948.2,484.5 948.6,485.8 949.0,486.3 949.4,485.9 949.8,486.4 950.2,486.8 950.6,486.5 951.0,486.3 951.4,486.5 951.8,486.9 952.2,486.6 952.6,486.5 953.0,486.9 953.4,487.3 953.8,487.3 954.2,487.0 954.6,487.8 955.0,486.9 955.4,487.1 955.8,486.7 956.2,487.5 956.6,487.2 957.0,486.7 957.4,487.0 957.8,487.9 958.2,487.5 958.6,487.3 959.0,487.6 959.4,486.8 959.8,487.1 960.2,486.9 960.6,487.1 961.0,487.2 961.4,487.5 961.8,487.7 962.2,487.7 962.6,488.0 963.0,487.2 963.4,487.4 963.8,487.6 964.2,487.1 964.6,487.3 965.0,487.5 965.4,487.1 965.8,487.6 966.2,487.8 966.6,487.1 967.0,486.7 967.4,487.5 967.8,487.1 968.2,487.5 968.6,487.3 969.0,487.5 969.4,487.8" stroke="#DB843D"/>
</g>
<g class="legend">
<line x1="591.5" y1="32.1" x2="656.3" y2="32.1" stroke="#4572A7" stroke-width="5.5" stroke-linecap="round"/>
<text x="663.9" y="39.8" font-size="22.8" textLength="122.4" lengthAdjust="spacingAndGlyphs">PLA/10PEG</text>
<line x1="591.5" y1="62.4" x2="656.3" y2="62.4" stroke="#AA4643" stroke-width="5.5" stroke-linecap="round"/>
<text x="663.9" y="70.0" font-size="22.8" textLength="255.7" lengthAdjust="spacingAndGlyphs">PLA/PEG/0.1 wt% xGnP</text>
<line x1="591.5" y1="92.8" x2="656.3" y2="92.8" stroke="#89A54E" stroke-width="5.5" stroke-linecap="round"/>
<text x="663.9" y="100.3" font-size="22.8" textLength="255.7" lengthAdjust="spacingAndGlyphs">PLA/PEG/0.3 wt% xGnP</text>
<line x1="591.5" y1="123.1" x2="656.3" y2="123.1" stroke="#71588F" stroke-width="5.5" stroke-linecap="round"/>
<text x="663.9" y="130.7" font-size="22.8" textLength="255.7" lengthAdjust="spacingAndGlyphs">PLA/PEG/0.5 wt% xGnP</text>
<line x1="591.5" y1="153.3" x2="656.3" y2="153.3" stroke="#4198AF" stroke-width="5.5" stroke-linecap="round"/>
<text x="663.9" y="160.9" font-size="22.8" textLength="250.0" lengthAdjust="spacingAndGlyphs">PLA/PEG/1.0wt% xGnP</text>
<line x1="591.5" y1="183.7" x2="656.3" y2="183.7" stroke="#DB843D" stroke-width="5.5" stroke-linecap="round"/>
<text x="664.1" y="191.2" font-size="22.8" textLength="55.8" lengthAdjust="spacingAndGlyphs">xGnP</text>
</g>
<text x="487" y="569.4" font-size="30.7" font-weight="bold" textLength="83.5" lengthAdjust="spacingAndGlyphs">2θ ( <tspan font-weight="normal" font-size="21.5" dy="-9.3">o</tspan><tspan dy="9.3">)</tspan></text>
<text transform="translate(66.9,370.6) rotate(-90)" font-size="30.7" font-weight="bold" textLength="211.5" lengthAdjust="spacingAndGlyphs">Intensity (a. u.)</text>
</svg>
</body></html>
